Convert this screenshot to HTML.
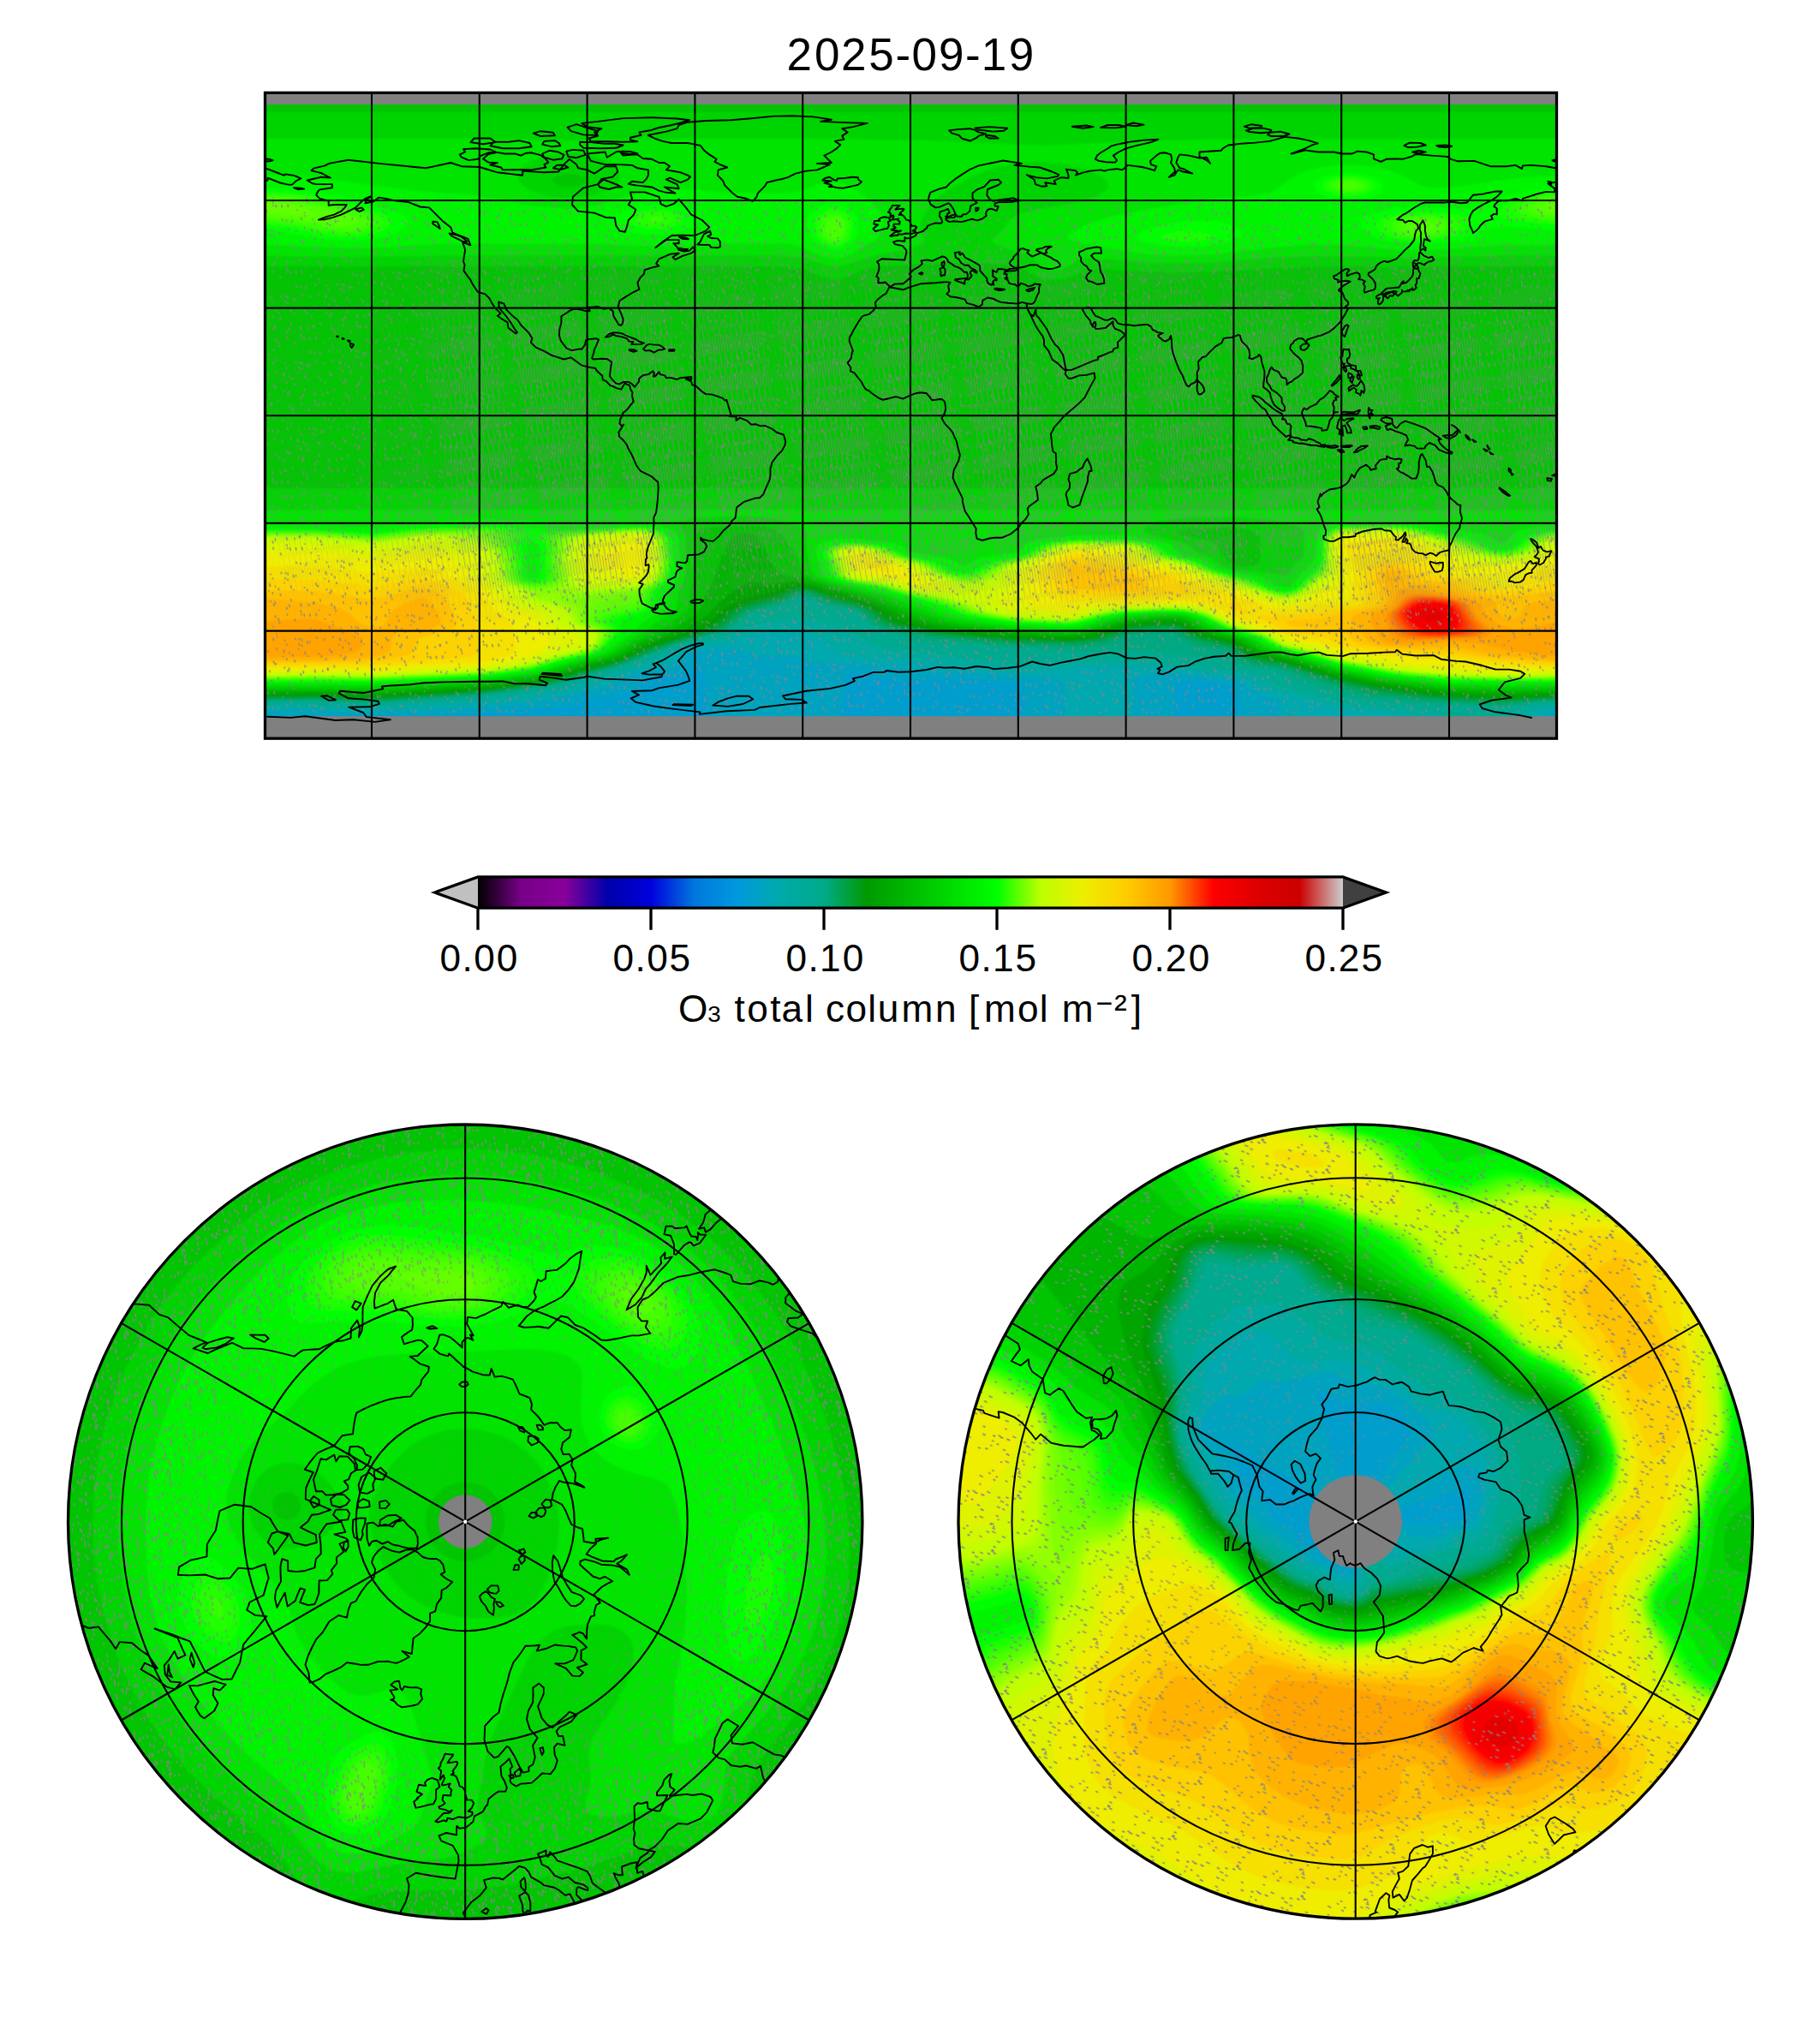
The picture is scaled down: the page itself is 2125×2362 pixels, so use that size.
<!DOCTYPE html>
<html><head><meta charset="utf-8"><title>O3 total column 2025-09-19</title>
<style>html,body{margin:0;padding:0;background:#fff}svg{display:block}text{font-family:"Liberation Sans",sans-serif;fill:#000}</style></head>
<body>
<svg width="2125" height="2362" viewBox="0 0 2125 2362">
<defs>
<clipPath id="cr"><rect x="309.5" y="108.3" width="1508.0" height="753.9"/></clipPath>
<clipPath id="cn"><circle cx="543.2" cy="1776.7" r="463.7"/></clipPath>
<clipPath id="cs"><circle cx="1582.7" cy="1776.5" r="463.7"/></clipPath>
<filter id="bl" x="-2%" y="-2%" width="104%" height="104%"><feGaussianBlur stdDeviation="2.5"/></filter>
<linearGradient id="cbg" x1="0" x2="1" y1="0" y2="0"><stop offset="0.00" stop-color="#000000"/><stop offset="0.01" stop-color="#18001b"/><stop offset="0.02" stop-color="#2f0036"/><stop offset="0.03" stop-color="#470051"/><stop offset="0.04" stop-color="#5f006d"/><stop offset="0.05" stop-color="#770088"/><stop offset="0.06" stop-color="#7a008b"/><stop offset="0.07" stop-color="#7e008f"/><stop offset="0.08" stop-color="#810092"/><stop offset="0.09" stop-color="#850096"/><stop offset="0.10" stop-color="#880099"/><stop offset="0.11" stop-color="#6d009c"/><stop offset="0.12" stop-color="#5200a0"/><stop offset="0.13" stop-color="#3700a3"/><stop offset="0.14" stop-color="#1b00a7"/><stop offset="0.15" stop-color="#0000aa"/><stop offset="0.16" stop-color="#0000b4"/><stop offset="0.17" stop-color="#0000be"/><stop offset="0.18" stop-color="#0000c9"/><stop offset="0.19" stop-color="#0000d3"/><stop offset="0.20" stop-color="#0000dd"/><stop offset="0.21" stop-color="#0018dd"/><stop offset="0.22" stop-color="#0030dd"/><stop offset="0.23" stop-color="#0047dd"/><stop offset="0.24" stop-color="#005fdd"/><stop offset="0.25" stop-color="#0077dd"/><stop offset="0.26" stop-color="#007edd"/><stop offset="0.27" stop-color="#0085dd"/><stop offset="0.28" stop-color="#008bdd"/><stop offset="0.29" stop-color="#0092dd"/><stop offset="0.30" stop-color="#0099dd"/><stop offset="0.31" stop-color="#009cd3"/><stop offset="0.32" stop-color="#00a0c9"/><stop offset="0.33" stop-color="#00a3be"/><stop offset="0.34" stop-color="#00a7b4"/><stop offset="0.35" stop-color="#00aaaa"/><stop offset="0.36" stop-color="#00aaa3"/><stop offset="0.37" stop-color="#00aa9c"/><stop offset="0.38" stop-color="#00aa96"/><stop offset="0.39" stop-color="#00aa8f"/><stop offset="0.40" stop-color="#00aa88"/><stop offset="0.41" stop-color="#00a76d"/><stop offset="0.42" stop-color="#00a352"/><stop offset="0.43" stop-color="#00a036"/><stop offset="0.44" stop-color="#009c1b"/><stop offset="0.45" stop-color="#009900"/><stop offset="0.46" stop-color="#00a000"/><stop offset="0.47" stop-color="#00a700"/><stop offset="0.48" stop-color="#00ad00"/><stop offset="0.49" stop-color="#00b400"/><stop offset="0.50" stop-color="#00bb00"/><stop offset="0.51" stop-color="#00c200"/><stop offset="0.52" stop-color="#00c900"/><stop offset="0.53" stop-color="#00cf00"/><stop offset="0.54" stop-color="#00d600"/><stop offset="0.55" stop-color="#00dd00"/><stop offset="0.56" stop-color="#00e400"/><stop offset="0.57" stop-color="#00eb00"/><stop offset="0.58" stop-color="#00f100"/><stop offset="0.59" stop-color="#00f800"/><stop offset="0.60" stop-color="#00ff00"/><stop offset="0.61" stop-color="#26ff00"/><stop offset="0.62" stop-color="#4bff00"/><stop offset="0.63" stop-color="#70ff00"/><stop offset="0.64" stop-color="#95ff00"/><stop offset="0.65" stop-color="#bbff00"/><stop offset="0.66" stop-color="#c5fc00"/><stop offset="0.67" stop-color="#cff800"/><stop offset="0.68" stop-color="#daf500"/><stop offset="0.69" stop-color="#e4f100"/><stop offset="0.70" stop-color="#eeee00"/><stop offset="0.71" stop-color="#f1e700"/><stop offset="0.72" stop-color="#f5e000"/><stop offset="0.73" stop-color="#f8da00"/><stop offset="0.74" stop-color="#fcd300"/><stop offset="0.75" stop-color="#ffcc00"/><stop offset="0.76" stop-color="#ffc200"/><stop offset="0.77" stop-color="#ffb800"/><stop offset="0.78" stop-color="#ffad00"/><stop offset="0.79" stop-color="#ffa300"/><stop offset="0.80" stop-color="#ff9900"/><stop offset="0.81" stop-color="#ff7a00"/><stop offset="0.82" stop-color="#ff5c00"/><stop offset="0.83" stop-color="#ff3d00"/><stop offset="0.84" stop-color="#ff1e00"/><stop offset="0.85" stop-color="#ff0000"/><stop offset="0.86" stop-color="#f80000"/><stop offset="0.87" stop-color="#f10000"/><stop offset="0.88" stop-color="#eb0000"/><stop offset="0.89" stop-color="#e40000"/><stop offset="0.90" stop-color="#dd0000"/><stop offset="0.91" stop-color="#da0000"/><stop offset="0.92" stop-color="#d60000"/><stop offset="0.93" stop-color="#d30000"/><stop offset="0.94" stop-color="#cf0000"/><stop offset="0.95" stop-color="#cc0000"/><stop offset="0.96" stop-color="#cc2929"/><stop offset="0.97" stop-color="#cc5252"/><stop offset="0.98" stop-color="#cc7b7b"/><stop offset="0.99" stop-color="#cca4a4"/><stop offset="1.00" stop-color="#cccccc"/></linearGradient>
</defs>
<g clip-path="url(#cr)">
<rect x="300" y="99" width="1526" height="772" fill="#0072dd"/>
<g filter="url(#bl)" transform="scale(0.5)">
<path fill="#007cdd" fill-rule="evenodd" d="M600 198l3054 0 0 1548 -3054 0z"/>
<path fill="#008add" fill-rule="evenodd" d="M600 198l3054 0 0 1548 -3054 0z"/>
<path fill="#0098dd" fill-rule="evenodd" d="M600 198l3054 0 0 1548 -3054 0z"/>
<path fill="#009ecd" fill-rule="evenodd" d="M600 198l3054 0 0 1548 -3054 0z"/>
<path fill="#00a3bf" fill-rule="evenodd" d="M600 198l3054 0 0 1475 -6 2 -6 4 -3 7 0 60 -744 0 -1-108 -4-12 -16-22 -6-4 -18-4 -90-7 -12 1 -6 6 -1 6 0 144 -349 0 0-132 -1-6 -3-6 -16-6 -127-12 -103 5 -54-2 -36-5 -36-11 -18-2 -14 3 -5 6 -2 6 -16 84 -1 78 -297 0 -1-78 -10-42 -9-54 -5-15 -6-3 -24 14 -18 6 -78 10 -12 6 -14 18 -16 9 -30 6 -60 7 -10 2 -26 11 -24 5 -120 12 -180 12 -132 2 -222-1 -36 1 -8 6 -2 6 0 60 -20 0z"/>
<path fill="#00a8af" fill-rule="evenodd" d="M600 198l3054 0 0 1462 -30 4 -13 4 -8 6 -3 12 0 60 -610 0 0-96 -4-12 -7-6 -51-18 -11-6 -13-12 -11-6 -13-3 -126-14 -66 1 -30 4 -9 6 -3 6 0 156 -159 0 -1-144 -2-6 -5-6 -7-3 -24-4 -84-4 -108-10 -120-4 -77-11 -43-4 -108-4 -24-4 -24-9 -12-2 -72 0 -12-2 -30-11 -78-3 -24 1 -12 3 -11 5 -25 22 -14 8 -22 7 -55 11 -17 6 -30 17 -18 7 -60 12 -60 15 -36 7 -96 11 -180 13 -126 3 -228-3 -30 2 -12 3z"/>
<path fill="#00aaa0" fill-rule="evenodd" d="M600 198l3054 0 0 1455 -30 2 -30 6 -18 7 -7 6 -2 12 -1 60 -267 0 -1-60 -1-6 -4-6 -23-7 -108-9 -54-7 -42-13 -108-28 -18-8 -17-12 -15-6 -16-3 -132-16 -132-8 -120 0 -90 10 -36 3 -186-16 -82-12 -104-6 -40-6 -16-6 -8-6 -23-24 -9-6 -24-8 -36-3 -90 4 -18 4 -48 15 -78 10 -22 8 -32 20 -18 8 -66 19 -78 28 -72 19 -96 18 -102 12 -192 13 -78 2 -126-4 -84-1 -54 3z"/>
<path fill="#00aa90" fill-rule="evenodd" d="M600 198l3054 0 0 1446 -36 2 -42 6 -36 8 -17 8 -7 6 -3 6 0 66 -139 0 0-66 -3-6 -8-6 -21-6 -18-2 -114-9 -84-10 -42-13 -96-24 -16-8 -15-12 -29-9 -144-20 -144-11 -150-1 -114 9 -120-10 -78-15 -93-9 -33-6 -17-6 -43-27 -24-12 -72-17 -24-3 -78 7 -30 5 -66 26 -95 21 -67 29 -66 23 -126 39 -42 10 -90 15 -114 13 -210 14 -42 0 -120-5 -90 0 -36 2z"/>
<path fill="#00a981" fill-rule="evenodd" d="M600 198l3054 0 0 1438 -48 3 -90 11 -24 1 -222-11 -96-9 -29-5 -27-12 -34-7 -30-10 -30-8 -25-17 -17-6 -88-12 -19-6 -19-9 -12-2 -174-15 -42-2 -120 2 -186-12 -72-6 -102-5 -18-4 -31-13 -35-9 -24-9 -16-12 -15-18 -11-6 -18-5 -54-10 -48-18 -12 2 -18 9 -18 6 -62 16 -16 6 -39 30 -27 13 -90 23 -138 53 -84 24 -48 15 -36 9 -96 15 -60 7 -240 18 -42 1 -120-6 -132 2z"/>
<path fill="#00a771" fill-rule="evenodd" d="M600 198l3054 0 0 1437 -64 3 -80 9 -24 0 -180-10 -126-14 -18-4 -25-11 -41-10 -38-14 -28-7 -30-13 -21-4 -51-6 -24-6 -13-6 -19-18 -10-5 -72-11 -18-8 -24-18 -18-4 -83 4 -18 6 -19 10 -18 6 -36 5 -42 2 -144-3 -204-17 -108-26 -18-8 -23-23 -13-8 -12-5 -66-13 -36-17 -12-3 -12 2 -18 10 -18 7 -78 21 -12 6 -35 30 -25 12 -72 18 -37 12 -119 47 -72 19 -48 16 -42 11 -84 13 -72 9 -240 18 -42 1 -120-5 -132 1z"/>
<path fill="#00a562" fill-rule="evenodd" d="M600 198l3054 0 0 1435 -54 2 -84 8 -30 1 -162-10 -132-15 -55-17 -41-10 -95-32 -61-9 -24-5 -18-9 -23-19 -7-3 -72-13 -24-11 -22-15 -14-3 -90 4 -20 5 -22 11 -18 6 -36 5 -48 3 -144-4 -186-17 -72-14 -36-9 -21-11 -26-24 -12-6 -73-16 -42-19 -12-3 -15 2 -20 12 -13 5 -84 23 -13 8 -36 30 -25 12 -64 16 -43 14 -113 45 -78 21 -48 16 -42 10 -150 22 -246 18 -36 0 -120-5 -132 1z"/>
<path fill="#00a352" fill-rule="evenodd" d="M600 198l3054 0 0 1433 -48 2 -90 8 -30 0 -162-10 -114-14 -102-26 -102-33 -84-15 -18-8 -21-17 -11-6 -76-16 -18-8 -24-15 -12-4 -24 0 -78 6 -24 7 -24 10 -18 5 -66 7 -138-3 -180-16 -72-13 -42-9 -24-11 -29-24 -13-7 -18-6 -54-11 -42-19 -12-3 -12-1 -18 5 -18 11 -12 5 -58 14 -26 9 -15 9 -35 30 -26 12 -62 16 -43 14 -113 45 -66 17 -60 20 -30 7 -60 10 -96 13 -246 18 -36 0 -120-5 -132 1z"/>
<path fill="#00a142" fill-rule="evenodd" d="M600 198l3054 0 0 1432 -58 2 -80 6 -30 0 -150-9 -126-16 -102-25 -106-34 -74-13 -18-7 -24-18 -12-7 -78-17 -18-8 -22-14 -14-4 -18-1 -78 5 -24 6 -48 17 -30 5 -42 3 -144-3 -174-17 -72-13 -30-7 -24-11 -28-22 -20-10 -66-16 -54-22 -18-2 -18 4 -30 17 -66 16 -21 7 -15 9 -36 31 -24 12 -109 32 -107 43 -66 17 -60 20 -36 8 -156 23 -240 17 -36 1 -120-5 -132 1z"/>
<path fill="#009f32" fill-rule="evenodd" d="M600 198l3054 0 0 1430 -54 2 -84 6 -30 0 -138-8 -132-18 -102-23 -108-34 -78-16 -18-7 -24-18 -12-6 -72-15 -18-8 -24-14 -18-6 -24 0 -78 6 -18 4 -54 19 -36 5 -30 2 -132-3 -180-17 -72-13 -34-8 -20-9 -28-21 -24-12 -68-17 -48-19 -24-4 -21 4 -21 12 -14 6 -52 12 -30 10 -15 8 -39 33 -24 12 -66 19 -60 20 -78 33 -78 21 -48 16 -42 11 -72 11 -84 11 -240 17 -36 1 -120-5 -132 1z"/>
<path fill="#009d23" fill-rule="evenodd" d="M600 198l3054 0 0 1429 -138 7 -36-1 -144-9 -132-19 -96-22 -108-34 -48-8 -24-6 -18-9 -30-20 -18-6 -48-9 -18-5 -36-20 -18-6 -24 0 -78 6 -17 4 -43 16 -18 4 -30 5 -30 2 -144-4 -156-15 -66-11 -42-9 -24-10 -29-20 -25-13 -72-19 -48-18 -24-5 -12 1 -12 4 -24 14 -12 4 -54 12 -30 11 -16 9 -35 30 -21 12 -132 42 -78 33 -72 19 -54 18 -42 10 -150 22 -240 17 -36 0 -120-4 -132 1z"/>
<path fill="#009b13" fill-rule="evenodd" d="M600 198l3054 0 0 1427 -138 7 -42-1 -132-8 -132-19 -96-22 -109-34 -71-14 -18-7 -36-23 -12-4 -66-14 -18-8 -24-15 -18-5 -24 0 -78 6 -24 6 -54 18 -30 5 -30 3 -144-5 -84-7 -84-10 -54-9 -36-9 -24-9 -39-25 -21-9 -66-18 -59-21 -19-3 -21 3 -39 19 -54 12 -33 11 -20 12 -35 30 -21 12 -131 42 -72 32 -72 19 -60 19 -42 10 -144 20 -246 17 -150-4 -132 1z"/>
<path fill="#009a00" fill-rule="evenodd" d="M600 198l3054 0 0 1426 -144 6 -114-5 -84-8 -114-17 -84-19 -103-33 -77-16 -18-8 -36-23 -72-16 -18-7 -30-18 -18-4 -54 2 -54 5 -72 23 -30 5 -30 3 -138-5 -102-9 -66-8 -54-8 -36-9 -24-9 -39-24 -28-12 -59-16 -60-21 -30-4 -23 5 -37 17 -48 10 -36 13 -18 10 -41 34 -22 12 -123 40 -72 32 -69 18 -57 19 -36 9 -54 9 -102 14 -246 17 -150-4 -132 1z"/>
<path fill="#00a500" fill-rule="evenodd" d="M600 198l3054 0 0 1423 -144 5 -114-4 -90-9 -120-19 -78-18 -108-34 -48-9 -18-5 -18-9 -30-19 -18-6 -42-7 -18-5 -18-8 -25-16 -20-6 -22 0 -83 7 -24 5 -66 21 -48 6 -144-5 -84-8 -78-9 -48-8 -35-9 -25-10 -47-26 -25-10 -60-16 -60-20 -30-4 -24 3 -36 14 -42 8 -30 10 -36 17 -36 31 -22 15 -29 12 -99 32 -60 29 -24 8 -61 15 -59 19 -30 8 -42 7 -114 14 -240 17 -150-4 -132 1z"/>
<path fill="#00b500" fill-rule="evenodd" d="M600 198l3054 0 0 1418 -144 3 -114-4 -60-5 -132-19 -84-18 -108-33 -66-15 -18-8 -40-23 -74-17 -15-7 -29-18 -22-6 -24 0 -90 7 -22 5 -68 21 -24 4 -24 2 -138-6 -150-16 -42-7 -36-9 -24-10 -56-27 -28-10 -132-38 -30-4 -60 6 -42-4 -18 3 -24 14 -47 39 -16 18 -14 12 -40 24 -99 35 -42 22 -24 10 -66 17 -60 20 -36 9 -36 6 -114 14 -240 15 -150-2 -132 0z"/>
<path fill="#00c500" fill-rule="evenodd" d="M600 198l3054 0 0 1413 -144 2 -120-4 -138-15 -48-8 -84-18 -103-32 -59-13 -24-10 -31-19 -18-6 -59-13 -18-8 -36-20 -24-5 -42 1 -78 6 -18 3 -72 22 -42 6 -144-7 -96-10 -60-9 -34-8 -26-8 -64-28 -32-12 -78-21 -84-26 -43-7 -17-6 -9-12 -27-50 -14-22 -10-7 -18-3 -21 4 -9 6 -6 9 -18 36 -18 51 -13 24 -21 48 -8 12 -55 36 -28 12 -49 17 -44 25 -29 12 -72 18 -53 17 -30 8 -144 19 -252 15 -270-2z"/>
<path fill="#00d400" fill-rule="evenodd" d="M600 262l3054 0 0 360 -594 1 -294 14 -78-2 -126-7 -24 3 -48 20 -30 3 -18-2 -16-4 -38-21 -18-6 -30-3 -84-4 -72 1 -138 8 -30 7 -42 19 -24 4 -24-4 -54-22 -19-3 -29-2 -1224 0zM1308 408l-13 6 -4 6 2 6 3 2 7 4 11 3 18 1 18-2 15-8 2-6 -3-6 -14-6 -24-3zM600 1140l3054 0 0 466 -144 1 -120-3 -126-14 -43-6 -95-19 -102-31 -60-14 -19-8 -30-18 -11-5 -72-18 -17-7 -31-18 -18-6 -12-2 -42 0 -84 6 -37 8 -61 18 -34 5 -138-6 -84-10 -60-9 -60-16 -102-40 -108-28 -47-16 -12-6 -8-6 -5-6 -8-24 -10-18 -28-42 -6-6 -12-6 -22-6 -46-5 -90 7 -18 4 -6 6 -2 6 -1 60 -4 42 -7 30 -4 36 -6 12 -6 6 -53 36 -61 27 -47 27 -25 10 -66 16 -84 25 -144 18 -246 15 -270-2zM2766 1236l-17 6 5 6 54 11 24 7 9 6 8 18 24 24 10 6 15 2 18 0 12-2 12-6 3-12 -1-48 -2-6 -7-6 -23-7 -36-5z"/>
<path fill="#00e400" fill-rule="evenodd" d="M1913 324l253 4 264 12 216-10 186-5 822-1 0 273 -144 0 -192 6 -174-5 -78 0 -84 3 -150 12 -66 2 -78-2 -144-11 -18 2 -12 5 -36 22 -12 2 -12 0 -9-3 -11-6 -22-22 -12-8 -60-17 -16-7 -7-6 1-6 27-24 13-20 13-10 17-7 24-6 95-17 46-12 26-12 6-6 3-6 0-6 -2-6 -12-12 -18-11 -24-10 -54-12 -54-4 -54 4 -54 13 -54 22 -60 33 -18 15 -14 16 -21 42 -3 12 2 6 11 18 -1 6 -6 6 -32 12 -80 15 -60 20 -18 4 -12 1 -18-2 -54-17 -18-3 -42-3 -768 0 -234 3 -216-3 0-273 534 0 198 4 186-4zM1278 363l-24 8 -18 8 -14 11 -9 12 -3 12 4 12 5 6 17 12 33 12 39 6 36 0 36-5 30-9 19-10 13-12 4-6 1-12 -7-14 -12-11 -24-13 -24-7 -30-6 -30-1zM600 1191l516-1 2538 1 0 410 -144 0 -120-2 -126-13 -36-6 -96-18 -102-31 -55-13 -23-9 -24-15 -14-6 -71-18 -53-27 -18-6 -18-3 -36 0 -90 5 -34 7 -74 21 -30 3 -126-6 -84-10 -51-8 -45-12 -114-42 -108-27 -46-15 -11-6 -6-6 -3-6 -13-48 0-42 -5-7 -24-12 -30-8 -48-7 -48-2 -102 3 -24 4 -14 5 -2 6 11 18 4 12 2 54 -4 42 -13 30 -5 30 -3 12 -12 11 -31 19 -30 24 -41 21 -36 23 -22 10 -73 18 -80 24 -137 17 -246 13 -270-1zM2742 1211l-30 5 -24 8 -12 6 -5 6 2 6 12 6 72 18 17 6 21 18 37 14 30 20 12 5 18 3 66 5 36 7 6 0 9-6 15-20 18-16 3-6 0-54 -3-6 -6-4 -18-7 -48-10 -72-7 -108 0z"/>
<path fill="#00f400" fill-rule="evenodd" d="M3089 390l31-4 30-1 36 2 30 4 24 6 24 8 54 28 18 4 18 2 48-3 144-21 54-3 54-2 0 162 -138 0 -144 11 -54 2 -60-2 -126-11 -72-1 -78 6 -150 17 -90 3 -66-4 -76-11 -92-18 -14-6 -2-6 17-12 36-18 34-12 37-9 90-17 72-12 66-8 90-9 30-5 18-8 27-22 21-12 24-10zM600 411l48-1 102 6 201 28 153 11 144 26 72 6 36-2 36-5 114-32 36-7 42-1 120 10 132 2 30-5 54-19 30-3 24 5 12 5 18 12 26 21 19 18 10 12 5 12 -11 42 -4 6 -63 36 -18 7 -18 2 -12-1 -18-4 -54-23 -18-4 -30-2 -126 0 -162 6 -180-6 -288 0 -66 2 -120 8 -60 1 -216-9zM1092 1214l48-1 102 3 114 9 132-3 48 5 24 7 12 6 8 8 3 6 5 48 -4 42 -4 12 -19 24 -6 30 -6 12 -13 10 -35 20 -22 24 -52 36 -21 12 -15 6 -71 16 -62 20 -34 6 -96 11 -144 9 -120 5 -264-1 0-369 138-1 126 4zM3276 1219l72 7 46 10 62 10 18 6 30 15 6 0 6-3 13-16 9-6 20-7 48-7 48-2 0 370 -258-2 -156-16 -108-21 -96-28 -54-13 -23-10 -31-18 -72-19 -14-5 -46-24 -36-9 -36-1 -96 5 -42 8 -66 18 -30 4 -120-6 -114-15 -43-10 -47-18 -92-30 -100-23 -40-13 -11-6 -5-6 -14-54 2-6 6-6 20-9 36-6 42 1 78 11 18 6 25 15 77 13 14 5 22 12 6 0 6 0 19-12 17-6 83-12 9-6 9-12 7-5 12-5 18-4 78-7 120-1 48 7 42 10 15 5 19 18 16 6 45 12 32 18 15 6 20 5 66 10 18 8 19 13 17 4 12-3 6-4 18-24 30-28 6-16 2-43 5-12 5-7 12-8 18-6 24-2z"/>
<path fill="#00ff00" fill-rule="evenodd" d="M3111 408l39-4 24 2 18 3 15 5 12 6 6 6 4 6 0 6 -2 6 -11 11 -24 11 -36 3 -42-4 -18-6 -12-6 -11-9 -2-6 0-6 3-6 6-6 11-6zM600 440l60-1 48 4 48 8 90 21 60 17 38 15 8 6 2 6 -2 6 -12 12 -21 12 -16 6 -21 5 -42 4 -36 1 -42-3 -102-17 -60-6zM3578 444l40-4 36-1 0 100 -120-10 -36 0 -24 4 -43 19 -35 10 -48 6 -48 1 -50-5 -28-6 -17-6 -17-12 -6-6 -6-12 0-6 4-6 10-6 20-7 24-6 30-4 42-2 108 2 25-1 23-5 63-25zM1936 474l20 0 18 6 18 15 10 15 2 12 -1 18 -5 18 -12 12 -12 7 -12 5 -12 1 -12-1 -12-4 -15-8 -9-6 -10-12 -6-18 -2-18 5-12 25-21zM1506 480l42-2 19 2 23 5 18 7 21 12 5 6 -2 6 -13 12 -27 12 -26 6 -36 3 -30-2 -31-7 -25-12 -8-6 -3-6 0-6 17-12 30-12zM2781 516l45 0 40 6 16 6 9 6 6 6 2 6 -2 6 -10 6 -18 6 -37 7 -48 5 -42 0 -36-3 -40-9 -11-6 -1-6 5-6 29-13 42-11zM1122 1225l60 3 78 8 102-1 120-5 42 3 29 9 8 6 5 6 3 12 4 36 -4 36 -7 18 -25 24 -9 30 -7 12 -15 9 -47 15 -9 6 -1 6 4 12 -1 6 -5 6 -34 30 -15 9 -18 7 -72 16 -54 17 -30 6 -96 11 -144 9 -120 4 -264 0 0-353 36-2 108 0 120 8 96-11zM1242 1266l-12 3 -3 3 -3 6 5 24 4 42 6 6 9 1 7-1 6-6 -2-36 3-24 -1-6 -4-6 -9-5zM3122 1230l28-3 90-1 36 1 36 4 30 6 41 11 49 9 18 6 36 17 24 4 12-1 12-5 9-6 17-18 16-8 36-7 42-3 0 355 -258-2 -120-11 -30-4 -108-20 -96-28 -54-13 -17-7 -25-15 -12-6 -72-19 -54-26 -24-8 -24-4 -42-1 -96 5 -36 6 -72 19 -24 2 -114-5 -107-14 -31-8 -58-22 -110-32 -84-17 -35-11 -10-6 -6-6 -14-48 1-6 6-6 22-8 42-4 42 3 43 9 37 18 70 15 42 22 18 4 12 0 20-5 28-17 12-5 74-14 12-6 22-16 24-8 30-4 36-2 120-1 36 5 32 8 12 6 12 12 12 6 58 15 42 20 18 6 72 16 48 23 18 4 12 0 18-6 8-6 15-18 27-24 9-18 2-42 6-18 11-11z"/>
<path fill="#14ff00" fill-rule="evenodd" d="M3116 414l34-4 32 4 17 6 8 6 4 6 -1 6 -4 6 -9 6 -23 7 -30 2 -24-3 -17-6 -9-6 -5-6 0-6 3-6 8-6zM600 448l24-1 48 1 42 5 45 9 87 22 44 14 21 12 3 6 -1 6 -11 12 -25 12 -28 6 -33 2 -42-2 -96-19 -78-8zM3600 450l54-3 0 81 -110-12 -29-6 -13-6 -3-6 7-12 14-12 11-6 33-11zM1943 486l13 1 18 8 10 9 6 12 0 24 -2 12 -3 6 -5 6 -9 6 -15 5 -18-1 -18-8 -9-8 -4-6 -3-12 -1-24 5-11 16-13zM1502 492l28-3 30 2 22 7 10 6 4 6 -1 6 -5 5 -13 7 -20 6 -21 2 -24-1 -18-4 -18-7 -8-8 0-6 5-6 11-6zM3267 498l51-4 54 3 45 7 17 6 3 6 -3 6 -10 12 -16 12 -24 9 -30 6 -42 2 -42-3 -30-8 -19-12 -7-12 0-6 3-6 8-6 9-4zM2749 540l29-2 24 2 21 6 5 6 -7 6 -13 3 -16 3 -26 1 -36-2 -16-5 -3-6 11-6zM1128 1229l48 4 21 3 24 6 9 6 -3 6 -15 12 -3 6 8 30 2 36 1 6 4 7 9 5 15 2 18-3 6-5 2-6 -2-36 2-30 -2-6 -4-6 -13-12 2-6 21-5 18-2 156-8 42-1 30 4 21 6 9 5 6 7 2 6 6 42 -4 36 -8 18 -28 24 -10 30 -8 12 -16 7 -44 11 -14 6 -5 6 1 6 10 12 1 6 -4 6 -31 30 -10 6 -18 8 -72 16 -56 18 -32 6 -92 11 -138 8 -126 5 -264-1 0-348 36-2 102 0 132 9 108-13zM3138 1230l114-2 60 6 113 26 18 6 41 18 26 4 18-3 16-7 26-23 16-7 32-7 36-2 0 350 -144 0 -114-2 -108-9 -42-6 -108-20 -90-26 -54-13 -19-7 -35-20 -72-19 -18-8 -42-21 -24-7 -24-4 -42-1 -96 4 -42 8 -66 17 -24 2 -114-5 -92-12 -34-7 -60-24 -66-17 -54-16 -30-7 -54-10 -29-9 -10-6 -6-6 -14-48 1-6 7-6 27-7 36-3 42 5 30 6 42 19 68 16 32 18 14 5 18 4 12 0 24-6 30-17 12-5 55-11 21-6 32-20 24-8 54-6 126-1 30 4 28 7 13 6 13 12 11 6 61 15 43 21 17 6 72 17 40 19 14 5 18 3 12 1 12-3 12-6 18-19 21-17 10-12 8-18 2-42 3-12 4-7 6-6 9-5z"/>
<path fill="#24ff00" fill-rule="evenodd" d="M3141 414l21 0 25 6 10 6 4 6 -1 6 -6 6 -13 6 -31 4 -31-4 -14-6 -6-6 -1-6 4-6 6-4 12-5zM600 452l54-1 42 4 39 7 96 24 40 12 22 12 3 6 0 6 -13 12 -19 8 -24 5 -30 2 -42-3 -90-19 -78-7zM3592 456l32-4 30-1 0 72 -54-5 -36-6 -24-6 -12-8 -2-6 1-6 12-12 25-11zM1508 498l22-3 24 2 18 7 5 6 -2 6 -15 8 -18 4 -25 0 -22-6 -8-6 -1-6 7-6zM1927 498l17-5 12 1 12 4 12 12 3 12 0 24 -5 12 -6 6 -14 6 -14 1 -12-4 -13-9 -6-12 -3-24 4-12zM3266 504l46-5 48 2 21 3 21 6 8 6 2 6 -6 12 -6 6 -24 12 -40 7 -48-1 -24-5 -12-4 -15-9 -5-6 -1-6 0-6 5-6 9-6zM3169 1230l89 0 54 5 108 26 18 6 39 17 15 4 18 2 12-1 18-6 17-11 13-13 18-9 30-7 36-3 0 348 -144 0 -114-2 -114-10 -36-5 -108-20 -90-26 -54-13 -16-6 -38-21 -78-21 -42-22 -18-7 -42-9 -42-1 -96 4 -42 8 -66 16 -24 3 -108-4 -91-12 -35-7 -66-25 -66-17 -60-18 -72-13 -32-10 -10-6 -5-6 -15-48 2-6 7-6 23-6 36-3 42 5 30 7 42 18 62 15 33 18 15 6 16 4 18 1 24-5 44-24 58-12 20-6 34-21 24-7 54-5 120-1 27 4 25 6 14 6 24 18 66 17 40 19 20 7 69 17 39 18 18 6 18 4 12 0 12-3 14-7 22-22 18-14 10-12 7-18 1-36 2-12 5-12 5-5 12-7 12-3zM985 1236l137-5 52 5 27 6 10 6 -1 6 -8 12 -1 6 10 30 3 42 3 6 9 6 16 4 12 1 12-3 6-2 7-6 1-12 -3-30 3-30 -1-6 -10-18 6-6 21-5 180-10 30 1 24 5 18 7 9 8 3 12 4 24 1 24 -8 36 -9 11 -24 19 -15 36 -6 6 -9 4 -54 13 -16 7 -4 6 3 6 13 12 2 6 -3 6 -30 30 -13 8 -18 7 -66 14 -66 20 -126 16 -240 11 -276 0 0-345 36-3 102 0 132 10z"/>
<path fill="#34ff00" fill-rule="evenodd" d="M3128 420l22-2 20 2 15 6 5 6 -2 6 -8 6 -18 5 -18 0 -18-3 -15-8 -2-6 4-6zM672 457l36 5 29 6 115 31 23 11 4 6 -1 6 -8 8 -18 8 -24 4 -24 1 -33-3 -81-16 -90-9 0-58zM3632 456l22-1 0 63 -72-9 -24-8 -5-3 -5-6 -1-6 3-6 8-6 12-6 24-7zM1931 504l13-4 12 1 12 6 6 9 2 12 -1 18 -5 12 -8 5 -12 3 -12-2 -11-6 -4-6 -4-12 0-18 5-12zM3310 504l32 1 32 5 13 6 5 6 0 6 -3 6 -6 6 -11 6 -19 6 -29 3 -24-1 -24-4 -18-7 -9-9 -2-6 2-6 9-8 18-6zM1513 510l17-5 12 2 8 3 -6 6 -14 2 -13-2zM1019 1236l115-2 48 8 12 6 2 6 -3 12 0 6 12 30 4 42 3 6 7 6 23 7 24-2 13-5 6-6 1-6 -4-36 4-30 -1-6 -6-12 0-6 10-6 13-3 174-11 24 0 24 4 18 7 11 9 4 12 5 24 0 24 -8 36 -11 12 -24 18 -4 6 -8 24 -4 6 -15 8 -60 13 -16 9 -2 6 5 6 16 12 2 6 -2 6 -28 30 -11 7 -18 7 -66 14 -66 20 -126 16 -240 11 -138-1 -138 1 0-343 36-2 102 0 132 9 96-12zM3119 1236l25-4 78-1 42 0 36 4 114 26 18 6 48 20 12 3 18 1 14-1 19-6 15-9 18-17 18-8 30-6 30-2 0 345 -144 0 -114-2 -114-10 -36-5 -114-21 -90-27 -46-10 -16-6 -28-17 -12-5 -75-20 -45-23 -18-7 -42-9 -48 0 -96 4 -36 7 -66 16 -24 3 -108-4 -83-11 -43-9 -66-25 -66-16 -60-18 -72-13 -28-9 -11-6 -5-6 -15-48 2-6 8-6 25-6 36-2 36 5 30 8 36 16 63 15 33 18 14 6 22 6 18 1 12-1 18-6 44-24 52-11 23-7 31-18 24-8 24-4 30-2 120-1 47 9 14 6 15 12 14 8 60 14 48 22 24 8 58 14 57 24 17 4 18 1 18-5 11-6 19-20 27-22 7-12 3-12 1-36 4-17 10-13z"/>
<path fill="#44ff00" fill-rule="evenodd" d="M3128 426l16-3 12 0 14 3 7 6 -3 6 -6 3 -12 2 -12 0 -19-5 -3-6zM654 460l57 8 117 30 17 6 11 6 4 6 -1 6 -13 8 -18 5 -24 2 -29-3 -79-15 -96-10 0-47zM3621 462l33-2 0 53 -30-3 -31-6 -16-6 -8-6 -2-6 3-6 7-6 15-6zM1938 510l12-2 6 2 6 4 4 8 2 12 -1 12 -3 6 -8 6 -6 2 -9-2 -9-6 -2-6 -2-12 1-12 3-6zM3305 510l31 0 18 3 9 3 9 6 1 6 -2 6 -11 8 -12 4 -24 4 -18-1 -20-3 -14-6 -6-6 -2-6 6-8 12-6zM1090 1236l50 2 24 4 14 6 5 6 2 18 10 18 5 12 3 36 3 10 8 8 22 8 18 1 12-1 18-7 6-6 2-7 -5-36 5-30 -5-18 3-7 12-5 12-2 162-11 30 1 24 5 15 7 5 6 3 6 7 36 -1 24 -8 30 -9 10 -28 20 -4 6 -10 23 -6 7 -14 6 -58 11 -15 7 -7 6 -1 6 26 18 3 6 -1 6 -14 18 -13 12 -26 13 -72 16 -64 19 -116 15 -246 11 -138-1 -138 1 0-340 36-3 102 0 132 10 114-14zM3123 1236l27-4 78 0 36 0 30 3 30 6 90 22 60 24 18 5 18 1 18-2 20-7 16-10 15-14 15-8 24-6 36-3 0 343 -144 1 -114-3 -114-10 -36-5 -112-21 -86-25 -49-11 -17-6 -29-18 -13-5 -72-19 -48-24 -18-7 -42-9 -48 0 -96 5 -42 7 -60 15 -24 3 -108-4 -75-10 -51-11 -60-23 -72-18 -60-18 -72-12 -25-8 -11-6 -5-6 -15-48 2-6 10-6 20-5 36-2 36 5 24 6 42 18 58 14 33 18 17 7 24 7 18 1 12-1 18-5 37-21 14-6 51-11 18-6 34-19 20-7 24-4 30-2 120-1 42 8 15 6 27 19 66 17 48 22 76 20 59 24 21 5 18 1 18-4 12-7 18-18 24-18 6-7 6-12 3-12 1-36 4-18 11-12z"/>
<path fill="#53ff00" fill-rule="evenodd" d="M648 466l42 4 129 34 14 6 4 6 -3 6 -12 4 -30 2 -84-15 -102-10 -6-1 0-33zM3622 468l32-3 0 42 -42-7 -19-8 -4-6 2-6 10-6zM3293 522l19-4 18 0 15 4 5 6 -3 6 -12 6 -29 1 -6-1 -12-6 -1-6zM1944 534l6-6 2 6 -2 9 -5-3zM1474 1236l26 0 24 5 17 7 6 6 5 12 6 36 -2 18 -5 24 -9 13 -34 23 -5 6 -9 18 -5 6 -7 5 -66 14 -14 5 -9 6 -4 6 0 6 30 18 4 6 0 6 -19 24 -12 9 -12 6 -78 19 -66 19 -114 15 -246 11 -138-1 -138 1 0-338 36-3 102 1 126 10 24-1 72-11 36-3 108-2 41 4 18 6 6 6 8 18 13 18 4 12 4 36 4 12 6 6 16 7 18 4 12 1 12-1 17-5 10-6 4-6 0-6 -5-36 5-30 -2-18 3-6 18-6 22-3zM3128 1236l28-3 84-1 54 5 28 5 92 23 63 25 33 5 24-4 19-7 10-6 21-18 11-6 23-6 36-4 0 341 -144 1 -114-3 -114-10 -36-5 -108-20 -90-26 -48-11 -15-5 -30-18 -15-6 -70-18 -47-24 -21-8 -42-8 -48-1 -96 5 -42 7 -60 15 -24 3 -108-4 -67-9 -56-12 -44-18 -25-8 -66-15 -65-19 -61-10 -28-8 -11-6 -5-6 -13-36 -2-12 2-6 9-5 24-6 30-1 36 5 24 6 26 13 16 5 53 13 33 18 22 9 24 6 18 2 12-1 18-5 13-5 35-21 66-16 13-5 32-18 21-7 48-5 120 0 42 8 10 4 25 18 7 3 63 15 51 23 72 19 58 24 26 7 18 1 18-5 12-6 22-21 26-21 6-9 4-12 2-12 -1-30 5-18 12-12z"/>
<path fill="#63ff00" fill-rule="evenodd" d="M618 474l30-1 30 3 31 10 26 12 3 4 17 2 -119-5 -24-5 -12-6 0-8zM3637 474l17-1 0 26 -30-7 -8-6 3-6zM760 510l2-2 6 0 19 2 -7 2zM3135 1236l27-2 78-1 54 5 114 28 63 24 33 6 24-2 24-7 16-9 21-18 12-6 24-6 29-2 0 338 -144 1 -114-3 -114-10 -36-5 -108-20 -90-26 -48-10 -13-5 -30-18 -14-6 -70-18 -59-29 -24-7 -24-4 -42-2 -108 5 -36 6 -66 16 -24 3 -102-4 -65-8 -57-12 -46-19 -30-9 -66-14 -60-18 -66-11 -25-7 -11-6 -5-6 -13-36 -3-12 4-6 5-3 24-7 30-1 30 4 27 7 26 12 18 6 49 12 14 6 22 13 24 10 24 6 18 2 18-2 18-5 48-27 60-15 16-6 33-18 19-6 22-4 30-2 114 1 36 7 12 4 30 20 65 16 49 22 78 22 54 22 30 8 18 1 12-2 16-7 51-42 7-12 4-12 1-42 5-17 5-7 8-6zM986 1242l124-1 18 2 19 5 11 9 29 39 3 12 4 36 3 6 6 6 12 6 27 7 12 1 18-2 18-5 10-7 2-6 1-6 -6-36 6-30 -1-18 5-6 22-6 147-11 24 0 24 5 14 6 6 6 3 6 7 36 0 18 -6 30 -8 12 -38 24 -24 24 -13 6 -61 14 -12 5 -7 5 -6 12 1 6 33 18 6 6 -1 6 -11 18 -13 12 -10 6 -16 6 -66 14 -49 16 -23 5 -108 14 -246 11 -138-1 -138 1 0-335 36-3 102 0 132 11z"/>
<path fill="#73ff00" fill-rule="evenodd" d="M3144 1236l102-1 48 4 109 27 65 25 36 7 24-2 24-7 18-9 25-20 13-6 22-5 24-2 0 336 -144 1 -108-3 -112-9 -44-6 -114-21 -78-23 -54-12 -12-5 -28-17 -14-6 -70-18 -62-30 -24-7 -24-4 -36-1 -114 4 -42 7 -60 15 -24 3 -102-4 -56-7 -59-12 -47-19 -30-9 -72-15 -60-18 -66-11 -22-6 -11-6 -5-6 -15-42 -1-6 4-6 20-8 30-2 36 4 23 6 43 18 49 12 14 6 27 15 24 10 30 7 18 1 30-6 18-9 30-18 16-6 48-12 16-6 34-18 18-5 48-6 108 0 24 4 18 5 17 8 15 12 10 4 61 14 53 23 72 21 55 22 29 8 24 2 18-4 12-6 52-42 7-12 3-12 1-42 5-18 5-6 9-6zM1410 1242l84-4 24 4 16 6 7 6 5 12 6 30 0 18 -6 24 -4 12 -13 12 -53 28 -72 16 -12 4 -12 9 -10 21 -1 6 2 6 9 6 27 12 7 6 0 6 -15 24 -19 13 -16 5 -68 15 -60 18 -114 15 -246 11 -138-1 -138 1 0-332 36-4 102 0 132 11 126-15 90 0 36 4 12 3 12 7 32 33 6 12 5 42 2 6 6 6 33 13 12 3 18 1 18-2 12-4 10-5 7-6 1-12 -6-30 0-12 6-24 2-18 4-4 6-3 23-5z"/>
<path fill="#83ff00" fill-rule="evenodd" d="M3172 1236l80 0 48 5 102 27 66 25 36 6 24-1 24-7 18-8 24-19 12-7 18-5 30-3 0 333 -144 1 -108-3 -152-14 -118-22 -78-23 -54-12 -12-5 -26-16 -14-6 -74-20 -44-22 -22-9 -42-9 -36-1 -114 4 -42 7 -60 15 -24 3 -97-4 -53-6 -60-12 -54-21 -30-9 -66-13 -66-19 -62-10 -23-6 -11-6 -5-6 -16-42 0-6 4-6 17-6 30-3 33 3 22 6 44 18 47 12 15 6 31 18 18 7 30 8 24 2 18-2 18-6 47-27 63-18 15-6 31-16 24-7 42-5 108 0 25 4 17 5 12 7 16 12 8 4 66 15 52 23 74 22 54 21 30 8 24 3 18-4 15-8 52-42 6-12 3-12 1-48 5-12 5-6 10-6 11-3zM1425 1242l69-3 21 3 16 6 7 6 5 12 6 30 0 18 -5 24 -5 12 -14 12 -19 10 -36 11 -90 11 -22 4 -2 2 -3 4 8 18 -1 24 2 6 10 6 30 12 7 6 1 6 -5 12 -9 12 -18 12 -19 6 -63 14 -60 18 -114 15 -246 11 -138-2 -138 2 0-329 36-4 96 0 138 11 126-15 66 0 48 4 17 5 13 8 32 28 6 12 6 42 2 6 6 6 14 7 24 9 30 6 18-2 18-6 12-7 5-7 1-12 -7-36 10-48 9-6 24-5z"/>
<path fill="#93ff00" fill-rule="evenodd" d="M1476 1240l24 1 18 3 12 6 8 10 7 30 2 18 -3 18 -5 18 -8 12 -19 11 -24 8 -18 3 -72 7 -84 4 -13 3 5 6 32 16 10 8 3 6 1 18 2 6 9 6 33 12 8 6 2 6 -8 18 -12 12 -12 6 -72 17 -66 20 -114 15 -246 11 -138-2 -138 2 0-326 36-5 96 0 132 12 24-1 108-15 71 2 37 5 12 3 18 9 18 12 14 13 7 12 6 42 2 6 6 6 19 10 36 13 18 5 18 2 12-1 12-8 12-11 6-10 -1-12 -8-36 2-12 12-36 11-6 20-4zM3125 1242l19-4 24-1 78-1 36 3 30 7 78 20 78 29 36 6 24-2 24-6 21-9 27-20 12-7 18-5 24-2 0 331 -144 1 -108-2 -114-10 -42-6 -114-21 -78-23 -54-12 -17-8 -18-12 -13-6 -78-21 -60-29 -24-6 -30-5 -48-1 -102 5 -36 6 -60 15 -24 3 -96-4 -45-5 -61-12 -56-22 -29-8 -73-15 -66-19 -60-9 -21-5 -12-6 -5-6 -16-42 0-6 5-6 16-6 27-2 30 3 21 5 44 18 49 13 13 5 31 18 22 8 30 9 24 3 18-2 18-6 18-8 34-22 61-18 49-23 18-5 42-5 108 1 18 2 18 5 14 7 15 12 13 5 60 14 60 25 72 21 54 21 30 9 24 2 18-4 18-9 52-42 6-12 2-12 0-42 3-12 9-12z"/>
<path fill="#a2ff00" fill-rule="evenodd" d="M1482 1241l21 1 20 6 8 6 7 18 6 24 0 12 -8 36 -9 12 -9 6 -18 7 -36 6 -96 7 -30-3 -12-5 -2-6 2-18 -10-42 2-12 15-36 12-6 17-3zM3129 1242l27-4 66-1 36 1 24 3 108 27 72 27 42 7 24-1 30-8 21-9 32-24 18-6 25-2 0 328 -144 1 -108-3 -120-10 -36-5 -114-21 -72-22 -60-13 -46-25 -80-22 -60-29 -24-6 -24-4 -42-2 -114 5 -42 7 -54 14 -24 3 -96-4 -42-5 -56-11 -58-22 -27-8 -81-16 -66-19 -54-8 -24-5 -12-6 -5-6 -16-42 0-6 5-6 16-5 24-3 30 4 17 4 44 18 53 14 40 22 26 10 36 11 24 1 18-3 18-5 12-6 28-20 12-6 59-18 45-21 18-6 18-3 24-2 108 1 34 7 12 6 15 12 13 6 64 14 54 23 75 23 51 20 36 10 24 2 18-3 18-9 54-43 4-7 4-18 0-42 3-12 9-12zM992 1248l46 1 49 5 29 8 24 12 14 10 11 12 4 12 5 36 8 12 12 7 40 17 29 18 57 16 16 8 5 6 5 24 9 6 34 12 10 6 2 6 -7 18 -12 12 -12 6 -68 16 -60 18 -46 8 -62 8 -258 12 -138-2 -138 2 0-323 30-5 102 0 138 12 24-2z"/>
<path fill="#b2ff00" fill-rule="evenodd" d="M1471 1242l23 0 18 3 12 6 8 9 8 30 2 18 -9 36 -9 12 -24 11 -30 5 -96 5 -24-2 -13-7 -16-60 5-18 10-24 4-6 15-6 19-3zM3133 1242l23-3 78-1 48 4 108 28 67 26 23 5 24 3 24-2 30-7 26-11 33-24 19-5 18-2 0 325 -138 2 -108-2 -74-6 -88-10 -114-21 -72-22 -59-13 -44-24 -83-23 -42-22 -18-7 -24-6 -24-4 -42-1 -114 4 -42 7 -54 14 -24 3 -96-5 -48-5 -42-9 -19-6 -44-18 -27-7 -84-16 -66-19 -74-12 -13-6 -5-6 -16-42 0-6 6-6 12-4 24-3 30 4 13 3 44 18 57 16 36 20 24 10 42 13 24 2 18-2 18-6 18-9 27-20 12-6 58-18 41-19 18-6 18-4 24-2 108 1 30 6 12 6 15 12 12 6 69 15 54 24 70 21 68 25 30 7 18 2 18-4 14-6 58-43 7-11 2-12 1-48 2-9 5-9 6-6zM622 1254l116-1 102 11 30 2 30-3 78-12 30-1 56 4 40 9 18 7 18 9 12 9 7 8 5 12 5 36 7 12 50 24 20 18 8 4 48 12 23 8 7 7 7 23 8 6 36 12 9 5 5 7 -1 6 -5 12 -4 6 -8 6 -13 6 -64 14 -72 21 -86 13 -40 3 -222 10 -144-2 -138 2 0-320z"/>
<path fill="#c2fd00" fill-rule="evenodd" d="M3139 1242l95-3 42 3 28 6 86 24 43 18 23 8 24 5 24 3 30-3 29-7 25-12 24-18 11-6 31-5 0 322 -144 2 -108-3 -119-10 -42-6 -109-21 -66-19 -62-14 -14-6 -18-12 -14-7 -84-23 -42-22 -18-7 -48-10 -42-1 -114 4 -36 5 -60 16 -24 2 -102-4 -42-6 -53-13 -43-18 -24-7 -94-17 -68-19 -70-11 -13-6 -6-6 -16-42 0-6 7-6 14-4 24-2 24 4 53 20 55 15 42 23 30 12 36 12 24 3 18-2 24-8 18-10 27-21 12-6 55-18 56-24 18-4 24-2 102 0 18 3 18 5 7 4 15 12 12 6 74 17 48 21 72 22 60 23 36 10 24 2 18-3 17-8 57-42 7-12 3-12 -1-48 4-12 11-12zM1413 1248l75-5 24 4 13 7 6 12 8 36 -4 24 -8 24 -6 6 -15 7 -30 7 -102 3 -18-3 -6-2 -6-5 -14-37 -4-18 2-12 14-30 6-6 18-6zM971 1254l37-2 42 3 54 13 30 12 14 10 9 12 7 42 7 12 47 24 26 24 18 6 40 8 18 8 6 8 5 18 8 6 37 12 13 6 4 6 -1 6 -4 12 -5 6 -8 6 -13 5 -66 15 -54 17 -24 5 -84 12 -258 12 -138-2 -138 2 0-316 12-4 18-3 96 0 144 13 42-4z"/>
<path fill="#d0f800" fill-rule="evenodd" d="M1461 1248l37 0 15 6 5 6 10 30 2 18 -8 30 -6 12 -8 6 -8 3 -30 4 -84-1 -12-3 -12-6 -12-20 -8-25 1-6 5-12 14-19 6-6 12-5 31-6zM3133 1248l17-3 24-1 66-1 30 2 30 7 67 20 71 28 30 7 36 4 30-2 42-10 21-9 33-23 24-5 0 311 -138 3 -108-3 -156-15 -60-13 -59-9 -67-21 -54-10 -13-5 -19-12 -16-8 -84-24 -54-26 -24-8 -30-5 -42-2 -126 5 -42 5 -54 15 -18 2 -119-8 -29-6 -19-6 -52-24 -15-9 -6-2 -36-1 -66-8 -22-4 -50-15 -63-9 -15-4 -12-7 -5-7 -10-24 -3-12 2-6 10-6 18-2 24 2 46 18 61 18 37 22 48 20 36 20 6 2 42-6 24-8 18-11 18-21 14-12 112-45 18-4 18-1 102 1 12 2 17 5 19 15 12 6 73 15 65 27 66 21 54 20 42 11 24 3 18-3 18-8 54-35 14-12 3-6 2-12 -1-56 6-13zM985 1260l23 0 18 3 78 18 22 9 8 6 4 6 9 42 7 12 41 24 7 6 14 18 9 6 50 12 16 6 7 6 8 18 6 6 14 6 42 12 8 6 2 6 -3 12 -5 6 -12 6 -62 15 -60 19 -45 8 -69 10 -246 10 -138-2 -138 2 0-300 14-8 16-4 84-1 36 2 96 12 30 1 48-5z"/>
<path fill="#dff300" fill-rule="evenodd" d="M3240 1247l30 3 70 22 33 12 47 21 30 7 42 5 42-1 48-10 24-9 30-19 18-5 0 296 -162 3 -114-6 -121-12 -53-13 -72-10 -54-17 -66-14 -34-18 -14-6 -84-24 -54-27 -24-7 -30-5 -54-1 -126 5 -42 5 -42 13 -30 1 -102-9 -17-5 -11-6 -15-12 -3-6 5-6 27-18 7-12 9-24 14-12 11-6 75-31 18-6 24-3 54 0 36 1 21 3 12 6 14 12 13 6 84 17 66 28 120 41 48 12 30 0 18-4 12-6 54-32 12-10 9-10 2-6 -5-60 2-12 4-6 12-8 12-2zM1466 1254l22-1 12 4 6 6 7 15 6 18 0 18 -8 24 -10 12 -13 5 -12 1 -60-4 -29-8 -13-11 -9-13 -4-12 4-12 9-9 18-12 22-9 20-6zM617 1278l25-5 90 0 108 14 30 1 30-2 78-11 18-1 102 22 13 6 5 6 11 36 7 12 38 24 7 6 12 18 7 6 15 6 47 13 9 5 10 18 11 11 18 8 34 11 8 6 3 6 -2 6 -10 6 -51 14 -42 16 -53 12 -73 12 -252 10 -132-2 -138 1 0-280zM1983 1290l15-4 18 2 42 15 56 17 13 6 33 21 29 15 8 6 -5 6 -32 0 -30-5 -54-15 -66-10 -12-6 -12-18 -7-18 0-6z"/>
<path fill="#efed00" fill-rule="evenodd" d="M3240 1252l30 4 44 16 94 43 24 6 30 4 48 1 60-7 36-9 36-16 12-3 0 273 -149 2 -115-6 -125-12 -43-11 -78-9 -66-20 -60-12 -54-24 -84-25 -36-19 -18-8 -42-9 -48-3 -138 3 -54 5 -47 12 -13 0 -42-6 -30-8 -11-4 -7-5 -3-7 7-54 6-12 7-6 21-12 58-24 24-5 30 0 54 2 22 3 20 14 12 6 96 20 84 35 51 15 63 22 48 11 30-1 24-7 30-15 26-10 16-11 15-19 4-12 -9-48 -1-18 2-6 7-6 12-4zM1460 1272l16-4 12 2 12 11 6 11 3 16 -3 11 -8 13 -10 9 -12 3 -24-5 -35-13 -21-12 -3-6 2-6 8-6zM658 1290l80 1 126 15 30-2 90-10 24 2 24 6 30 12 24 16 25 26 44 30 12 18 9 8 12 6 45 16 9 6 18 25 18 17 5 12 -1 6 -5 6 -16 12 -21 12 -48 12 -70 13 -126 4 -126 7 -132-2 -138 1 0-260 30-13zM1993 1296l11-3 12 1 30 11 50 15 23 12 28 24 -5 3 -12-1 -111-20 -12-6 -10-12 -6-12 0-6z"/>
<path fill="#f5e000" fill-rule="evenodd" d="M3156 1266l78-5 18 1 16 4 12 6 17 18 8 6 42 18 9 6 11 12 11 6 84 11 12 4 18 10 14 5 16 0 18-6 24-18 18-7 42-11 30-4 0 237 -102-2 -90-5 -83-10 -103-8 -120-13 -24-5 -48-15 -66-13 -72-29 -66-19 -36-21 -36-11 -36-5 -36-1 -114 0 -108 5 -18-1 -24-4 -26-10 -15-12 -5-12 1-30 9-12 16-12 23-12 21-8 18-3 24 0 42 5 18 5 31 13 113 22 20 8 58 29 66 17 60 22 30 9 18 3 24 0 18-2 42-10 53-2 17-6 5-6 2-24 8-24 -4-36 -15-36 1-6zM2020 1314l8-1 12 1 23 6 15 6 6 6 -8 3 -24-3 -19-6 -10-6zM642 1322l96 1 126 15 114-13 18 1 18 4 30 12 81 44 6 6 9 18 5 6 33 24 19 24 6 24 -1 30 -4 6 -27 12 -37 9 -24 4 -114 3 -132 8 -264-1 0-232z"/>
<path fill="#fcd200" fill-rule="evenodd" d="M2499 1302l21-2 19 2 41 13 95 17 65 18 14 6 8 6 16 18 -1 6 -35 5 -108 2 -114-1 -30-4 -18-8 -8-6 -5-12 0-18 2-12 8-12 15-12zM3258 1307l24 5 30 11 18 15 13 6 81 12 40 18 28 5 30 1 42-5 30-7 30-11 30-4 0 201 -66-2 -96-7 -108-14 -144-10 -72-8 -32-7 -40-16 -72-11 -18-5 -25-10 -43-24 14-3 72-2 36-3 101-16 22-6 9-6 2-6 -4-24 2-18 -1-18 1-6 6-8 12-8 18-6zM979 1350l23 2 18 6 49 22 11 6 12 12 16 42 6 24 3 30 -1 24 -2 6 -7 6 -32 6 -205 16 -126 1 -144 0 0-194 18-4 18-2 96 1 132 15 18-1 60-13zM2869 1410l5-3 16 3 23 18 -3 4 -6 0 -14-4z"/>
<path fill="#ffc200" fill-rule="evenodd" d="M2501 1320l7-4 6 0 48 12 48 4 31 6 13 6 17 12 7 6 2 6 -3 6 -13 4 -30 4 -71-2 -55-6 -11-6 -4-12 1-24zM3227 1326l19-5 24 2 11 3 10 6 9 12 12 7 78 10 40 19 44 7 30 3 30 0 120-12 0 170 -156-10 -120-17 -114-5 -43-4 -36-6 -19-6 -8-6 -11-12 -21-9 -18-3 -84-5 -8-1 -12-6 -4-6 12-4 60-3 18-2 53-15 55-10 20-8 4-6 1-6 -7-24 -3-36 4-6zM967 1374l17-2 18 2 17 6 13 8 6 5 8 11 14 30 6 18 -1 6 -4 6 -11 6 -66 18 -8 6 -15 30 -9 6 -34 8 -72 6 -108 4 -138-1 0-165 42-4 96 2 30 4 72 13 24 2 24-3z"/>
<path fill="#ffb300" fill-rule="evenodd" d="M3243 1332l15-1 12 4 4 3 3 12 5 6 12 5 72 9 48 16 66 14 9 4 6 6 5 18 4 8 3 4 9 3 12 1 17-4 6-6 8-18 8-6 9-3 42-7 36-1 0 144 -30-1 -126-11 -108-20 -126 0 -40-5 -22-6 -10-6 -12-16 -22-20 -3-6 0-6 2-6 9-6 50-14 12-4 9-6 3-6 0-12 -4-18 -1-18 -4-12 2-6zM973 1398l17-2 12 6 6 6 12 17 10 21 2 6 -3 6 -9 6 -18 5 -60 5 -11 2 -7 4 -6 8 -7 30 -4 6 -14 6 -35 6 -96 6 -120 1 -42-2 0-141 36-1 54 3 42 4 30 6 30 8 18 8 12 9 15 15 9 6 18 5 12 1 12-1 10-5 12-24 10-12 23-12z"/>
<path fill="#ffa300" fill-rule="evenodd" d="M3264 1380l6-4 6-1 54 3 36 5 72 17 12 4 8 6 12 24 9 12 25 14 24 8 18 1 24-2 84-18 0 85 -49-4 -89-12 -48-12 -52-6 -32-1 -54 4 -48 2 -24-1 -20-4 -13-6 -5-6 -17-30 -2-12 1-6 6-6 32-15 12-9zM720 1445l24 3 91 34 9 6 4 6 -4 18 -5 6 -14 6 -33 6 -42 4 -102 1 -48-3 0-75 36-8z"/>
<path fill="#ff9500" fill-rule="evenodd" d="M3282 1392l12-4 12-1 36 1 48 7 33 9 10 6 5 6 13 24 11 12 15 12 5 6 1 6 -3 6 -12 6 -24 3 -132 5 -42-1 -12-4 -6-4 -7-11 -7-18 -4-18 2-6 23-18 15-18z"/>
<path fill="#ff8300" fill-rule="evenodd" d="M3297 1392l21-2 36 2 36 5 23 7 11 6 5 6 18 30 19 18 3 6 0 6 -6 6 -7 2 -36 5 -102 4 -30-2 -18-4 -7-5 -12-18 -7-18 -1-6 2-6 37-36z"/>
<path fill="#ff7400" fill-rule="evenodd" d="M3289 1398l23-6 30 1 36 3 29 8 11 6 5 6 18 30 16 18 3 6 -1 6 -9 6 -18 4 -78 4 -48-1 -18-3 -12-4 -8-6 -12-18 -6-18 1-6 4-6z"/>
<path fill="#ff6400" fill-rule="evenodd" d="M3297 1398l21-4 36 1 30 4 24 9 10 8 17 30 14 18 2 6 -3 6 -13 6 -9 2 -66 4 -42 0 -30-6 -10-6 -11-12 -9-18 -2-12 4-6 22-21z"/>
<path fill="#ff5400" fill-rule="evenodd" d="M3307 1398l23-2 30 1 24 4 18 7 6 4 8 10 25 42 1 6 -5 6 -18 6 -53 4 -48-1 -16-3 -14-6 -8-6 -10-13 -6-11 -3-12 3-6 24-22z"/>
<path fill="#ff4400" fill-rule="evenodd" d="M3323 1398l25 0 24 3 15 3 13 6 7 6 8 12 16 30 2 6 0 6 -7 6 -12 4 -48 4 -48-2 -24-8 -18-17 -7-11 -3-12 3-6 5-6 20-16 12-5z"/>
<path fill="#ff3500" fill-rule="evenodd" d="M3304 1404l20-4 24 0 30 4 17 6 12 12 10 18 8 18 1 6 -2 6 -10 6 -12 3 -42 4 -36-2 -24-8 -12-9 -10-12 -6-12 -1-6 2-6 5-6 16-13z"/>
<path fill="#ff2500" fill-rule="evenodd" d="M3312 1404l18-2 24 0 18 3 17 5 8 6 9 12 11 24 1 12 -4 6 -12 6 -30 4 -42-1 -13-3 -14-6 -9-7 -11-11 -7-12 0-6 2-6 10-11 12-8z"/>
<path fill="#ff1500" fill-rule="evenodd" d="M3325 1404l23 0 18 2 16 4 8 5 8 7 9 18 4 12 0 12 -6 6 -15 5 -30 3 -36-3 -12-5 -11-6 -17-18 -4-12 2-6 18-16 12-5z"/>
<path fill="#ff0100" fill-rule="evenodd" d="M3310 1410l20-4 18 0 24 3 12 5 9 8 10 18 3 12 -3 12 -13 8 -30 4 -30-3 -22-9 -15-12 -8-12 -1-6 2-6 5-6z"/>
<path fill="#f50000" fill-rule="evenodd" d="M3324 1410l30-1 24 7 7 6 9 12 3 12 -1 12 -6 6 -12 5 -24 2 -24-3 -21-10 -9-7 -8-11 -1-6 2-6 13-11z"/>
<path fill="#e50000" fill-rule="evenodd" d="M3327 1422l15-2 18 5 6 3 5 6 2 6 -1 6 -6 6 -12 3 -18-2 -12-5 -9-8 -2-6 2-6z"/>
</g>
<rect x="309.5" y="108.3" width="1508.0" height="13.8" fill="#808080"/>
<rect x="309.5" y="836.2" width="1508.0" height="26.0" fill="#808080"/>
<defs><pattern id="sp1" width="6.4" height="46" patternUnits="userSpaceOnUse" patternTransform="rotate(-9)"><path d="M1 0V33M4.2 14V46M4.2 0V5" stroke="#828282" stroke-opacity="0.85" stroke-width="1.05" fill="none"/></pattern><pattern id="sp2" width="67" height="79" patternUnits="userSpaceOnUse" patternTransform="rotate(-12)"><path d="M34.2 67.0v2.2M4.3 33.1v2.0M19.1 50.7v3.1M17.9 31.1v2.9M11.2 40.8v2.6M26.2 70.2v2.1M56.0 28.3v3.8M24.5 16.9v2.9M20.0 34.3v2.2M19.1 34.1v2.2M6.7 36.3v2.8M45.9 51.7v3.4M38.2 24.4v2.3M64.2 17.3v2.1M31.9 44.7v3.3M10.9 7.5v2.0M62.9 51.1v2.0M61.2 62.9v2.2M49.4 49.5v3.6M36.9 14.7v2.4M64.2 63.8v3.5M61.3 59.1v2.7M12.5 5.5v2.0M27.9 3.7v1.9M32.1 20.6v3.1M5.6 4.3v2.6M55.4 12.8v2.9M23.1 4.9v3.7M11.3 52.1v3.4M48.2 10.5v2.4M11.0 66.0v3.7M14.3 18.0v2.4M32.4 21.5v3.2M15.0 62.4v1.7M29.0 40.5v2.2M51.4 17.3v2.8M62.7 52.5v2.4M49.3 22.9v1.6M33.7 62.2v3.9M58.5 33.4v1.7M5.9 13.8v2.8M41.3 28.0v3.0M52.9 11.5v2.2M1.0 2.3v2.7M52.7 43.4v3.2M29.6 27.9v1.6M54.0 19.8v2.1M10.4 52.7v2.2M28.1 0.3v1.6M20.2 74.1v1.7M42.1 34.9v3.3M3.7 65.0v3.6M30.9 58.5v3.2M61.3 16.5v3.7M4.7 53.6v2.4M33.5 31.3v2.7M52.3 67.2v3.2M33.9 42.6v3.7M35.7 9.5v1.9M44.9 59.3v2.7" stroke="#858585" stroke-width="1.4" fill="none"/></pattern><linearGradient id="bg1" x1="0" x2="1" y1="0" y2="0"><stop offset="0" stop-color="#fff" stop-opacity="0.4"/><stop offset="0.08" stop-color="#fff" stop-opacity="1"/><stop offset="0.8" stop-color="#fff" stop-opacity="1"/><stop offset="0.9" stop-color="#fff" stop-opacity="0.4"/><stop offset="1" stop-color="#fff" stop-opacity="0.4"/></linearGradient><pattern id="bp1" width="104.5" height="40" patternUnits="userSpaceOnUse" patternTransform="skewX(10)"><rect width="104.5" height="40" fill="url(#bg1)"/></pattern><mask id="mb1" maskUnits="userSpaceOnUse" x="304" y="103" width="1518" height="763"><rect x="304" y="103" width="1518" height="763" fill="url(#bp1)"/></mask><linearGradient id="lg1" x1="0" x2="0" y1="0" y2="1"><stop offset="0" stop-color="#fff" stop-opacity="0"/><stop offset="0.12" stop-color="#fff" stop-opacity="0.55"/><stop offset="0.3" stop-color="#fff" stop-opacity="1"/><stop offset="0.72" stop-color="#fff" stop-opacity="1"/><stop offset="0.9" stop-color="#fff" stop-opacity="0.5"/><stop offset="1" stop-color="#fff" stop-opacity="0"/></linearGradient><linearGradient id="lg2" x1="0" x2="1" y1="0" y2="0"><stop offset="0" stop-color="#fff" stop-opacity="0.25"/><stop offset="0.1" stop-color="#fff" stop-opacity="0.35"/><stop offset="0.16" stop-color="#fff" stop-opacity="1"/><stop offset="1" stop-color="#fff" stop-opacity="1"/></linearGradient><mask id="ml1" maskUnits="userSpaceOnUse" x="304" y="103" width="1518" height="763"><rect x="304" y="267.5" width="1518" height="460.7" fill="url(#lg1)"/></mask><mask id="ml2" maskUnits="userSpaceOnUse" x="304" y="103" width="1518" height="763"><rect x="304" y="103" width="1518" height="763" fill="url(#lg2)"/></mask></defs><g mask="url(#ml2)"><g mask="url(#ml1)"><g mask="url(#mb1)"><rect x="309.5" y="267.5" width="1508.0" height="460.7" fill="url(#sp1)"/></g></g></g><rect x="309.5" y="229.8" width="1508.0" height="603.1" fill="url(#sp2)"/>
<path fill="none" stroke="#000" stroke-width="1.9" stroke-linejoin="round" stroke-linecap="round" d="M1038.3 335.3L1054.6 338.3L1060.5 335.8L1075.6 331.2L1092.4 330.3L1104.9 329.1L1109.5 329.9L1107.4 332.8L1107.4 335.3L1108.3 339.9L1105.3 343.3L1109.5 346.2L1118.3 347.5L1126.7 349.6L1128.8 353.8L1136.4 355.9L1142.7 358.4L1146.9 355.4L1147.3 350.8L1153.1 347.5L1159.4 348.7L1163.6 350.8L1168.7 352.9L1177.0 353.8L1188.4 354.6L1193.0 352.9L1198.4 354.2L1199.3 359.6L1203.5 368.0L1204.7 370.9L1209.3 380.6L1211.9 384.8L1217.7 393.1L1219.0 397.3L1219.0 403.2L1224.4 409.9L1228.6 419.9L1234.9 424.1L1240.8 430.0L1244.6 432.9L1243.7 436.7L1247.5 441.7L1251.7 441.7L1260.1 438.4L1268.5 437.9L1277.7 435.4L1278.5 441.7L1276.0 445.9L1271.8 453.9L1266.4 464.3L1260.1 470.6L1252.9 476.9L1245.4 483.2L1241.2 487.0L1237.0 492.4L1234.5 494.9L1231.1 498.7L1229.5 502.0L1226.9 506.6L1227.8 513.8L1228.2 520.0L1229.5 527.2L1232.8 529.2L1233.2 537.6L1232.8 539.7L1234.1 546.0L1233.7 548.1L1230.3 553.1L1218.1 560.2L1215.2 564.0L1209.3 568.2L1211.0 575.3L1211.9 583.7L1201.4 591.2L1199.7 594.2L1200.9 600.4L1197.6 605.9L1193.0 610.5L1188.8 616.4L1180.0 623.5L1170.3 627.7L1161.5 627.7L1155.7 628.5L1146.9 631.0L1140.6 628.9L1139.3 622.2L1139.7 617.2L1134.3 608.8L1132.2 605.1L1126.7 596.7L1123.8 585.8L1123.8 581.6L1119.2 572.4L1114.6 562.8L1112.5 557.7L1113.7 548.9L1119.2 538.0L1120.9 531.3L1118.3 522.1L1116.7 514.6L1114.6 510.8L1112.5 505.4L1109.1 500.8L1103.3 494.9L1099.5 488.2L1102.4 483.6L1103.3 480.7L1104.1 477.3L1103.7 472.7L1102.8 468.9L1100.3 466.4L1097.8 466.0L1092.4 466.8L1088.2 467.3L1085.2 463.1L1081.9 459.3L1077.3 458.5L1073.1 458.5L1068.0 459.7L1062.2 461.8L1054.2 465.6L1046.2 463.1L1037.8 465.2L1030.7 466.8L1025.3 464.3L1017.7 458.9L1014.8 456.4L1010.6 454.3L1007.7 449.7L1005.6 445.5L1001.4 440.5L997.6 435.4L993.0 433.3L993.4 429.2L989.6 423.7L993.8 418.3L994.7 412.0L995.9 409.5L993.8 404.0L991.7 398.2L992.1 394.0L996.3 386.0L1002.2 376.0L1006.8 369.3L1008.9 368.4L1014.8 366.8L1020.2 362.1L1022.7 358.0L1021.9 353.4L1024.4 350.0L1031.1 344.6L1034.5 342.9L1037.0 337.9L1038.3 335.3M1269.7 535.5L1273.5 543.9L1274.7 549.8L1271.8 550.2L1270.1 557.3L1270.1 561.5L1267.6 569.0L1263.8 579.1L1260.5 589.6L1252.5 592.5L1247.5 590.0L1246.2 583.3L1244.6 577.4L1245.4 574.5L1248.7 570.3L1249.2 564.8L1247.5 559.8L1249.2 553.1L1257.1 551.0L1260.9 547.7L1263.8 546.4L1265.5 541.8L1268.0 537.6L1269.7 535.5M738.5 448.8L733.8 445.9L728.0 445.9L723.4 448.4L719.2 447.6L715.0 443.4L712.0 439.2L712.9 430.8L714.1 422.5L708.7 419.1L702.4 418.7L692.8 419.5L691.1 418.3L693.2 412.0L694.0 407.8L696.1 403.6L699.0 396.5L696.1 395.2L687.3 396.1L684.0 397.3L683.1 402.4L679.3 407.8L677.2 407.4L667.2 409.1L661.3 406.5L660.1 404.9L655.0 398.2L652.9 391.9L653.3 384.8L655.4 376.8L655.4 369.3L662.6 364.7L665.5 362.6L669.7 360.9L677.2 361.3L683.5 363.0L688.6 363.4L687.7 358.8L693.2 358.4L697.4 358.0L705.3 360.9L710.8 359.6L715.8 363.4L716.2 368.8L720.0 375.1L722.5 379.3L725.5 379.7L727.1 377.2L727.6 373.0L725.5 366.8L721.7 358.4L723.4 351.3L728.4 347.9L735.9 343.3L740.1 340.8L746.4 337.9L744.3 330.3L747.7 324.0L751.9 319.8L752.7 315.2L763.2 311.9L769.5 310.6L766.1 307.7L769.5 302.3L775.8 299.7L782.1 296.8L792.6 295.6L785.4 300.2L788.4 303.1L796.7 298.9L807.2 295.6L811.4 292.6L809.3 288.4L805.1 292.6L798.8 293.5L792.6 291.8L790.5 288.4L786.3 284.2L792.6 284.2L792.6 280.1L777.9 280.1L765.3 289.3L773.7 282.2L784.2 275.0L794.6 274.6L811.4 275.0L824.0 269.6L828.2 265.4L819.8 257.0L807.2 250.7L800.9 242.4L792.6 232.7L786.3 238.2L777.9 241.1L771.6 238.2L769.5 229.8L752.7 224.4L735.9 224.4L738.0 231.9L733.8 239.0L742.2 244.5L740.1 250.7L733.8 257.0L731.8 265.4L729.7 270.8L723.4 269.6L719.2 263.3L717.9 254.5L706.6 253.7L694.0 248.6L675.1 246.6L668.0 239.0L668.9 229.8L681.4 219.3L698.2 215.1L702.4 208.9L715.0 206.8L721.3 200.5L719.2 194.2L706.6 194.2L694.0 202.6L685.6 198.4L675.1 196.3L673.1 192.1L664.7 185.8L658.4 192.1L652.1 200.5L635.3 201.3L610.2 199.6L610.2 204.7L580.8 201.3L559.8 195.0L538.9 194.2L526.3 190.0L505.3 194.6L496.9 196.3L471.8 193.8L442.4 190.9L406.8 186.7L384.2 190.9L379.5 193.4L366.1 196.7L363.6 199.2L375.3 202.2L381.6 205.5L385.8 207.6L375.3 206.8L358.6 210.5L364.9 214.3L369.5 215.1L379.5 215.1L387.9 215.1L387.9 219.3L373.3 221.4L371.2 223.5L369.1 227.7L373.3 231.9L381.6 234.0L383.7 234.8L383.7 239.9L390.0 239.0L398.4 239.0L404.7 239.0L402.6 242.4L398.4 246.6L390.0 250.7L381.6 252.8L372.0 256.6L379.5 256.2L387.9 254.1L398.4 250.7L406.8 246.6L415.2 242.4L419.4 238.2L423.6 234.0L427.8 231.1L434.0 229.0L427.8 233.2L426.5 237.3L436.1 235.2L442.4 230.6L450.8 231.9L459.2 234.0L477.2 236.1L490.7 241.5L501.1 242.4L511.6 252.8L516.7 257.9L526.3 265.4L528.4 271.7L538.9 275.9L546.4 278.8L549.4 286.3L540.1 282.6L543.1 291.8L541.0 305.2L542.6 309.4L541.4 316.1L549.4 327.0L551.9 332.0L557.7 340.8L566.5 343.3L571.6 348.7L574.1 353.4L577.9 359.6L584.6 365.9L580.8 368.8L585.0 371.8L592.5 376.4L593.4 382.7L602.2 389.4L603.9 388.1L600.5 383.5L596.3 376.4L590.0 368.0L582.9 359.6L582.1 352.5L588.4 354.6L591.3 361.7L598.0 368.4L604.3 373.5L608.1 379.3L616.9 388.1L621.5 395.2L619.8 399.8L625.7 405.7L635.3 409.9L644.1 414.9L658.4 419.5L666.8 417.4L676.4 424.5L679.3 426.6L687.7 428.7L695.3 430.0L696.5 432.5L703.2 438.8L703.7 443.4L707.9 445.1L712.5 450.1L715.4 450.9L720.4 453.4L725.5 454.7L727.6 450.5L729.7 447.6L735.1 450.1L736.4 455.1M738.5 448.8L741.0 451.8L746.0 445.5L746.4 441.7L749.4 439.2L751.9 437.9L756.9 437.1L762.4 433.3L764.0 435.9L762.8 439.6L765.3 439.2L769.5 434.2L770.7 437.1L776.2 438.4L777.9 441.3L782.5 440.9L790.5 443.0L793.8 441.3L803.0 440.5L800.9 442.6L807.2 445.5L808.1 449.3L812.3 450.5L819.0 456.8L824.0 460.1L831.5 460.6L843.7 464.8L846.6 467.7L848.3 466.8L851.3 476.9L853.3 483.2L851.7 486.1L859.6 486.5L859.6 491.1L863.8 487.8L872.2 491.1L877.3 495.7L882.7 495.3L887.7 497.4L893.2 497.0L901.6 500.8L907.0 505.0L915.0 507.5L917.1 515.0L916.7 519.2L913.3 525.9L907.9 531.3L901.6 539.7L899.5 547.3L899.5 554.4L898.6 560.2L894.0 570.3L891.1 577.4L886.9 581.2L881.9 581.6L868.9 585.8L860.1 592.5L859.2 600.9L858.4 605.1L854.6 608.0L852.1 613.0L844.5 619.7L839.1 626.4L832.8 631.9L827.4 631.4L820.2 629.8L818.1 627.7L818.1 630.2L823.2 634.0L825.3 637.7L821.9 644.4L815.6 647.4L803.0 648.2L802.2 655.3L799.7 657.4L790.5 656.1L790.5 661.2L796.3 663.3L792.6 664.9L790.0 667.5L788.4 673.7L780.0 677.5L780.0 680.0L787.1 683.0L786.7 685.5L780.0 691.7L775.8 695.9L773.7 701.4L776.2 704.3L771.6 704.3L765.7 706.4L765.7 708.1L764.0 711.0L759.0 709.3L754.8 707.2L749.8 704.7L748.5 701.0L746.8 694.7L746.4 688.4L750.6 682.1L746.0 680.4L749.8 677.1L754.8 671.6L756.9 667.5L757.7 661.2L757.3 659.1L753.6 660.3L754.0 652.8L755.2 652.0L754.8 646.5L756.1 640.2L758.6 634.0L762.8 623.5L763.2 615.1L763.6 610.9L763.2 604.6L766.1 598.4L767.0 591.7L767.8 584.1L768.7 569.9L768.2 562.8L763.6 559.0L761.1 556.5L752.7 552.3L747.7 549.8L743.1 543.5L739.7 535.5L737.2 530.1L733.4 523.4L731.8 519.2L728.0 514.2L722.9 509.6L722.9 506.6L722.1 505.0L725.5 499.9L728.0 495.7L726.3 497.8L723.4 494.5L724.2 489.5L725.5 487.0L727.6 481.9L728.8 481.1L732.6 477.7L735.1 474.4L739.7 468.9L738.0 462.2L738.5 458.1L736.4 455.1M775.4 705.6L777.0 708.5L780.0 711.4L784.2 713.5L790.0 714.4L786.3 716.0L776.6 716.5L771.6 716.9L763.2 714.8L761.1 712.3L765.3 711.8L768.2 709.3L767.8 706.4L772.4 705.1L775.4 705.6M806.4 702.2L811.4 700.1L817.7 700.1L821.1 701.4L817.3 703.9L812.3 704.3L807.2 703.5L806.4 702.2M707.0 393.6L710.8 390.2L715.8 388.5L721.3 388.5L726.3 389.4L730.5 391.5L736.4 394.0L743.1 396.5L746.0 398.6L751.9 400.7L748.5 401.9L737.2 402.1L739.3 399.0L734.7 398.6L731.8 395.2L725.5 393.1L720.0 392.3L715.8 390.6L711.2 393.1L707.0 393.6M751.0 407.4L755.2 402.8L758.2 401.9L762.4 402.4L769.5 402.8L772.8 404.4L776.2 407.4L773.7 408.2L768.7 408.6L763.6 411.6L759.0 409.1L753.6 409.5L751.0 407.4M734.7 408.2L740.1 408.2L743.5 409.9L739.3 410.7L734.7 409.1L734.7 408.2M781.2 408.2L787.5 408.2L787.1 409.9L781.2 409.9L781.2 408.2M524.6 272.5L532.6 274.2L538.9 276.7L544.7 280.9L545.2 282.6L539.7 281.7L534.7 279.2L527.1 275.5L524.6 272.5M505.3 258.7L510.4 259.1L512.9 263.7L513.7 267.1L509.5 264.1L505.3 261.2L505.3 258.7M415.2 244.5L422.3 242.4L424.8 244.9L419.4 247.0L415.2 244.5M343.1 219.3L352.3 219.8L355.2 220.6L348.1 221.0L343.1 219.3M408.9 400.7L413.1 402.4L410.6 405.9L408.9 403.2L408.9 400.7M406.0 397.3L408.9 398.2L407.2 399.0L406.0 397.3M399.7 394.8L401.8 395.7L400.1 396.1L399.7 394.8M393.0 392.7L395.1 392.7L394.2 393.6L393.0 392.7M814.4 285.5L817.7 282.2L821.9 273.4L829.0 269.6L830.3 273.8L826.1 275.9L830.3 278.0L837.8 278.4L840.8 282.2L840.8 288.4L837.4 289.3L830.3 288.9L828.2 285.9L821.9 285.9L814.4 285.5M793.4 289.7L798.8 290.9L803.0 290.9L799.7 292.6L793.4 289.7M793.0 276.7L800.9 277.5L803.9 279.2L796.7 278.8L793.0 276.7M803.5 440.5L807.2 440.0L807.2 443.0L803.5 443.0L803.5 440.5M820.4 750.9L821.1 752.5L812.5 755.1L801.0 761.2L798.2 764.7L791.9 771.7L797.5 778.8L801.3 784.1L803.6 789.7L805.2 794.8L791.9 799.6L769.2 803.4L761.3 806.2L737.9 807.0L745.9 811.4L736.7 815.3L742.4 819.9L763.2 824.5L785.6 827.6L817.5 831.4L816.7 833.9L849.0 830.2L881.2 828.9L887.1 826.0L923.3 821.9L941.8 820.6L936.1 816.9L917.2 816.3L913.9 812.5L941.6 806.8L969.6 803.9L987.1 799.8L997.8 795.1L995.8 792.2L1007.5 789.6L1019.5 784.9L1032.3 784.9L1035.1 783.0L1049.2 784.7L1063.8 784.2L1082.0 782.0L1094.9 778.9L1103.2 779.8L1112.9 779.2L1126.1 780.8L1140.0 778.0L1153.6 779.2L1160.2 781.1L1176.3 780.0L1190.9 778.1L1205.2 772.5L1214.5 775.0L1225.9 776.9L1241.1 773.2L1261.2 769.4L1271.6 766.0L1285.0 763.5L1296.0 761.9L1305.0 763.4L1315.3 768.2L1326.0 768.9L1335.9 767.1L1349.2 768.6L1355.3 773.7L1356.7 778.1L1351.4 780.9L1354.5 782.0L1352.0 786.0L1357.3 787.3L1364.8 784.6L1374.5 778.6L1387.5 777.1L1395.9 772.3L1406.3 768.9L1417.3 766.8L1431.0 765.8L1434.5 762.6L1437.7 765.9L1454.4 765.7L1467.3 764.0L1486.1 761.5L1495.8 761.4L1505.7 763.7L1515.4 765.2L1530.4 762.4L1539.9 761.6L1549.1 764.9L1567.8 766.1L1576.9 763.2L1598.0 762.8L1616.6 761.6L1629.1 761.3L1630.8 758.7L1637.1 763.6L1652.7 765.5L1674.0 765.2L1682.6 769.7L1699.6 771.9L1710.9 772.5L1729.8 776.8L1745.7 781.5L1762.2 781.6L1775.3 783.8L1780.2 786.8L1775.1 791.9L1757.0 796.3L1749.7 805.5L1758.0 811.6L1764.6 814.6L1741.8 817.6L1727.7 822.5L1730.5 827.0L1745.8 831.3L1773.2 834.9L1788.1 838.0M312.2 836.8L339.4 837.9L356.5 836.2L391.5 841.0L412.5 840.2L437.9 842.9L455.9 840.3L427.9 837.1L424.1 832.0L407.3 825.6L431.2 825.3L442.9 821.8L441.3 818.8L425.8 816.6L407.0 815.3L395.8 809.7L397.1 806.7L408.7 807.8L424.9 809.0L447.2 804.4L445.9 801.5L456.1 800.5L467.7 800.0L479.0 799.3L495.6 797.2L518.3 796.4L541.0 796.0L556.6 795.6L573.0 795.8L587.1 795.4L601.4 798.4L617.5 798.3L637.0 800.3L639.0 797.7L629.7 793.7L630.6 789.7L643.4 791.1L660.9 793.8L682.5 790.8L684.7 789.5L705.8 792.6L732.3 793.6L750.2 794.4L772.4 790.2L773.3 787.3L757.6 787.6L749.6 786.2L757.9 783.4L766.1 779.0L762.5 775.3L766.1 774.1L773.7 771.0L781.7 766.3L790.3 761.1L796.7 757.7L805.8 753.9L815.8 751.2L820.4 750.9M860.4 812.6L874.3 812.7L879.3 816.5L867.4 822.0L849.5 824.9L832.3 823.5L839.2 819.4L849.7 815.3L860.4 812.6M786.8 822.3L809.2 822.7L807.0 824.0L785.5 823.1L786.8 822.3M654.6 786.9L655.9 789.0L632.5 787.1L633.5 785.8L654.6 786.9M391.8 817.2L384.0 817.9L375.2 812.8L381.7 812.2L391.8 817.2M766.1 774.1L771.6 778.3L776.2 784.1L773.3 787.3M878.5 234.8L870.1 231.5L860.9 229.8L855.4 225.6L851.3 221.4L846.2 216.4L844.1 211.0L837.8 204.7L838.7 198.4L849.2 195.5L840.8 192.1L834.5 188.8L836.6 185.8L828.2 180.4L821.9 175.4L817.7 169.9L803.0 167.0L784.2 167.0L773.7 164.9L765.3 162.0L756.9 157.8L777.9 153.6L790.5 150.2L792.6 146.0L803.0 142.7L824.0 141.0L853.3 140.2L874.3 138.5L903.7 135.6L924.6 135.2L949.8 136.4L970.8 139.8L958.2 141.9L987.5 143.1L1012.7 143.9L995.9 148.1L983.3 150.2L989.6 154.4L983.3 158.6L985.4 162.8L974.9 164.9L981.2 169.1L977.0 173.3L970.8 177.5L962.4 181.6L970.8 190.0L954.0 190.9L968.7 192.1L962.4 195.0L954.0 198.4L941.4 199.6L928.8 202.6L920.4 206.8L912.1 209.3L905.8 210.5L895.3 213.1L893.2 217.2L889.0 221.4L884.8 225.6L883.5 229.8L880.6 233.2L878.5 234.8M967.8 218.1L971.2 216.8L970.8 216.0L962.4 213.5L970.8 211.4L960.3 210.5L963.2 208.0L968.7 206.8L973.7 210.1L977.0 211.0L977.9 208.4L986.3 208.0L995.1 206.8L1001.8 207.2L1002.2 209.7L1006.0 212.2L1002.2 215.6L999.3 216.4L991.7 218.1L984.2 219.8L977.9 219.3L972.9 218.1L967.8 218.1M788.4 225.6L777.9 224.8L769.5 222.7L761.1 218.5L742.2 216.4L733.8 214.7L738.0 211.8L750.6 213.1L754.8 208.9L756.9 204.7L756.9 198.4L744.3 196.3L738.0 192.9L723.4 192.1L706.6 192.1L689.8 187.9L685.6 179.5L706.6 177.5L708.7 183.7L719.2 177.5L723.4 176.6L727.6 181.6L735.9 180.8L744.3 180.4L750.6 185.0L761.1 185.8L769.5 190.0L775.8 190.0L782.1 194.2L777.9 198.4L794.6 201.3L803.0 204.7L806.0 206.4L803.0 209.7L794.6 213.1L782.1 207.6L777.9 209.7L790.5 215.1L792.6 220.2L775.8 218.5L788.4 225.6M572.4 192.5L585.0 195.5L587.1 198.4L606.0 198.0L620.6 198.4L637.4 195.5L635.3 192.1L640.3 189.6L637.4 185.8L631.1 181.2L620.6 178.3L614.3 178.7L608.1 181.6L601.8 179.5L589.2 179.5L580.8 177.9L570.3 180.0L564.0 185.4L570.3 189.6L580.8 190.0L572.4 192.5M538.9 183.7L547.3 187.1L557.7 185.8L561.9 181.6L570.3 178.3L578.7 177.5L572.4 174.5L555.6 173.3L541.0 174.1L543.1 177.5L536.8 180.4L538.9 183.7M744.3 165.3L727.6 165.7L710.8 165.3L689.8 164.9L687.7 161.5L698.2 158.6L694.0 154.4L702.4 150.2L685.6 148.1L679.3 143.9L698.2 141.9L727.6 138.1L761.1 137.2L790.5 138.5L805.1 140.2L794.6 143.5L782.1 146.5L769.5 149.0L759.0 152.3L746.4 154.4L748.5 157.8L735.9 160.7L735.9 163.2L744.3 165.3M727.6 169.5L719.2 172.8L702.4 173.3L681.4 172.8L677.2 169.1L677.2 165.7L689.8 166.1L706.6 167.8L717.1 167.8L727.6 169.5M696.1 157.8L681.4 157.4L666.8 153.2L662.6 148.6L673.1 145.2L683.5 148.6L698.2 153.2L696.1 157.8M620.6 171.2L606.0 173.3L587.1 173.3L572.4 170.3L576.6 165.7L593.4 165.7L606.0 164.1L618.5 167.0L620.6 171.2M726.3 218.5L719.2 218.5L710.8 221.0L700.3 218.5L698.2 215.1L704.5 209.7L710.8 211.8L721.3 216.0L726.3 218.5M656.3 185.4L645.8 186.7L635.3 183.7L633.2 179.5L641.6 175.8L652.1 177.5L658.4 180.8L656.3 185.4M683.5 180.8L673.1 184.2L663.4 182.9L661.3 176.6L668.9 174.9L681.4 175.8L683.5 180.8M654.2 170.3L643.7 171.2L633.2 168.7L635.3 164.9L647.9 164.1L652.9 167.4L654.2 170.3M578.7 166.1L564.0 168.2L549.4 166.1L553.6 161.5L572.4 161.5L578.7 166.1M663.4 195.5L654.2 198.0L645.8 196.3L650.0 192.9L658.4 192.5L663.4 195.5M647.9 158.2L631.1 159.0L622.7 155.7L631.1 153.2L645.8 154.8L647.9 158.2M744.3 179.1L735.9 180.0L725.5 178.7L725.5 176.6L735.9 177.0L744.3 179.1M1108.3 152.3L1117.5 151.1L1132.2 150.2L1138.5 151.9L1142.7 154.4L1151.1 156.1L1142.7 158.6L1140.6 160.7L1133.0 164.5L1123.8 162.0L1121.7 160.3L1120.0 158.2L1111.2 155.3L1108.3 152.3M1138.5 149.4L1155.2 148.1L1176.2 149.8L1172.0 152.7L1159.4 153.6L1142.7 151.5L1138.5 149.4M1151.1 157.8L1161.5 159.0L1165.7 161.5L1155.2 161.5L1151.1 159.4L1151.1 157.8M1251.7 147.7L1264.3 149.8L1276.8 148.1L1268.5 146.5L1251.7 147.7M1285.2 149.0L1302.0 149.4L1314.6 147.7L1306.2 146.0L1293.6 146.0L1285.2 149.0M1314.6 146.0L1327.2 147.3L1335.5 145.6L1323.0 143.5L1314.6 146.0M1198.4 354.2L1199.3 359.6L1202.2 365.9L1206.4 369.3L1209.3 361.7L1209.8 368.0L1212.7 370.9L1216.0 375.5L1222.3 384.3L1227.4 395.2L1232.0 402.4L1235.3 405.3L1241.2 414.5L1242.9 423.3L1244.1 429.6L1245.4 432.1L1251.7 431.7L1258.0 429.2L1268.9 424.5L1276.8 421.2L1281.9 419.9L1281.9 417.0L1289.4 414.1L1294.9 411.6L1299.1 410.3L1300.3 407.4L1305.4 405.7L1304.9 399.8L1313.7 391.0L1308.7 386.4L1302.0 383.9L1299.5 379.7L1299.5 375.1L1298.2 376.4L1297.4 377.2L1294.9 379.3L1291.1 382.7L1283.6 383.9L1279.4 383.9L1278.1 382.2L1279.4 379.7L1278.9 376.0L1277.7 376.0L1276.0 378.5L1276.0 381.8L1273.5 377.6L1273.1 374.7L1271.0 372.2L1267.6 368.0L1264.3 362.1L1263.8 360.1L1266.8 359.6L1270.6 358.8L1273.5 359.6L1276.0 364.2L1278.9 368.8L1283.6 370.5L1289.4 373.5L1293.2 373.9L1299.1 371.4L1302.0 373.0L1305.4 377.6L1310.4 378.9L1317.1 379.3L1324.2 380.2L1333.4 379.3L1339.7 378.9L1343.9 381.4L1346.0 385.2L1349.0 386.4L1351.5 388.1L1357.8 388.9L1352.3 391.5L1352.3 392.3L1354.8 394.8L1358.2 397.7L1360.7 398.6L1365.3 396.1L1367.0 391.9L1367.8 396.9L1368.3 405.7L1369.5 412.0L1372.4 420.4L1376.6 431.2L1380.8 438.4L1382.5 443.4L1385.4 449.7L1388.0 451.4L1390.9 448.4L1395.5 446.3L1398.0 442.1L1397.6 435.4L1399.7 430.4L1398.9 422.5L1403.5 417.4L1408.1 415.8L1412.3 411.1L1419.4 404.4L1422.8 402.4L1426.5 400.3L1428.6 395.2L1432.4 394.4L1438.3 394.0L1442.5 392.3L1445.8 391.0L1447.9 391.9L1448.8 395.7L1450.0 398.6L1452.5 401.1L1455.9 404.4L1458.4 408.6L1459.2 414.1L1458.4 418.3L1462.6 419.1L1466.4 417.0L1468.9 416.2L1469.7 414.1L1472.2 416.2L1473.1 422.5L1474.3 426.6L1476.4 433.3L1476.4 439.2L1476.0 443.4L1475.2 447.6L1475.2 452.2L1479.4 455.1L1482.7 458.5L1483.6 462.7L1485.2 467.7L1487.8 472.7L1491.5 476.1L1497.0 479.8L1499.9 479.4L1499.9 474.8L1496.6 469.4L1496.6 465.2L1495.3 463.1L1491.5 459.3L1487.3 456.4L1484.8 455.1L1482.3 450.1L1479.4 446.7L1478.9 441.3L1481.5 435.9L1482.3 432.5L1484.4 428.7L1486.1 430.0L1486.1 431.2L1487.8 432.1L1492.8 434.2L1494.9 437.9L1497.0 440.9L1501.2 441.7L1502.4 444.2L1502.4 449.3L1505.4 446.7L1508.3 445.5L1510.4 443.4L1512.1 442.1L1516.3 439.6L1520.9 435.4L1521.3 427.5L1519.6 421.2L1516.7 417.8L1514.2 415.8L1510.0 412.0L1506.2 407.0L1507.0 402.8L1510.0 400.3L1510.8 398.2L1515.8 395.2L1520.5 395.2L1523.0 397.3L1525.1 400.3L1526.3 396.5L1530.5 395.2L1536.8 393.1L1538.9 392.3L1541.8 391.9L1552.3 387.3L1558.2 382.7L1564.5 376.4L1569.9 368.0L1574.1 360.1L1570.4 358.4L1574.1 355.4L1574.1 352.5L1570.4 349.2L1567.4 341.6L1563.2 339.5L1562.8 338.7L1567.8 334.1L1572.4 331.2L1576.6 328.6L1572.0 327.8L1566.2 328.2L1562.0 329.5L1562.8 327.0L1557.8 325.3L1556.9 322.4L1559.9 321.5L1564.5 318.2L1570.4 314.4L1573.7 314.0L1575.4 315.2L1572.4 319.4L1572.9 322.4L1576.6 320.3L1584.2 318.2L1587.1 319.8L1588.0 323.2L1586.3 326.1L1590.1 326.5L1593.8 328.6L1591.7 331.2L1593.8 334.5L1592.6 339.5L1593.4 341.6L1598.4 339.9L1604.3 338.3L1605.6 336.6L1606.0 334.1L1605.6 330.3L1603.5 327.0L1602.2 325.3L1597.6 321.1L1598.0 318.6L1601.0 317.3L1605.2 314.8L1607.3 310.2L1609.8 308.1L1611.4 306.9L1616.1 304.8L1620.2 306.0L1624.9 304.4L1630.3 302.3L1635.8 296.8L1640.4 291.8L1645.8 287.2L1651.3 280.1L1652.1 273.8L1653.4 269.6L1655.9 266.7L1655.1 262.1L1649.2 258.3L1644.6 257.9L1640.4 260.0L1638.3 257.0L1631.2 256.2L1637.4 251.2L1642.5 248.6L1650.0 243.2L1658.4 238.2L1663.4 236.5L1674.3 236.5L1685.7 236.5L1695.3 235.7L1705.8 237.3L1712.9 236.5L1720.0 227.7L1731.8 226.5L1735.1 225.6L1746.5 223.5L1753.6 223.5L1747.7 229.8L1741.4 234.0L1733.5 237.8L1725.5 242.4L1720.0 246.1L1717.1 250.7L1715.4 255.8L1716.3 263.3L1719.2 269.6L1720.0 272.1L1723.4 269.6L1726.8 266.2L1728.4 263.3L1733.9 258.3L1742.7 255.8L1741.0 252.0L1744.4 249.9L1747.7 250.3L1747.7 243.2L1744.4 241.1L1745.2 239.0L1749.4 234.8L1754.8 234.0L1760.3 234.4L1769.5 231.9L1777.1 234.4L1777.9 231.9L1784.2 229.8L1794.7 226.5L1805.2 223.9L1814.8 224.4L1815.6 220.6L1807.3 214.3L1811.5 214.7L1807.3 211.8L1813.5 213.1L1817.7 212.6M308.3 212.6L312.5 210.5L312.5 207.6L320.8 211.0L327.1 213.5L336.8 215.6L341.0 215.6L346.0 211.0L351.4 208.4L343.9 205.1L333.4 203.4L331.3 204.7L320.8 200.5L310.4 196.7L308.3 196.5M1817.7 196.5L1805.2 194.2L1788.4 192.9L1777.9 193.4L1777.1 197.1L1769.5 192.9L1759.0 194.2L1740.2 194.2L1733.9 192.1L1721.3 187.9L1702.4 188.3L1694.0 185.8L1689.9 182.9L1671.0 181.6L1653.4 180.0L1647.9 182.9L1637.4 185.8L1629.1 185.4L1618.6 185.8L1612.3 188.8L1603.9 185.4L1603.9 180.4L1595.5 177.5L1585.0 176.6L1578.7 179.5L1566.2 179.5L1557.8 177.5L1538.9 177.5L1524.2 175.4L1511.7 178.7L1507.5 179.5L1522.1 174.1L1532.6 169.1L1538.9 167.4L1528.4 164.1L1515.8 161.5L1500.3 159.9L1482.3 164.9L1465.5 166.6L1448.8 167.8L1434.1 169.5L1427.8 173.3L1425.7 175.8L1400.5 177.5L1400.5 182.9L1408.9 187.1L1413.1 190.9L1408.9 183.7L1400.5 184.6L1392.2 182.5L1388.0 181.6L1377.5 180.4L1375.4 183.7L1373.3 190.0L1377.5 196.3L1381.7 197.1L1388.0 200.5L1392.2 202.6L1381.7 200.5L1375.4 198.4L1371.2 204.7L1364.9 206.8L1372.0 200.5L1371.2 196.3L1367.0 190.0L1368.3 185.8L1367.0 180.4L1360.7 178.3L1354.4 178.7L1350.2 181.6L1343.1 187.9L1343.9 192.1L1350.2 194.2L1348.1 199.2L1341.8 197.1L1333.4 195.0L1316.7 192.9L1310.4 198.4L1304.1 197.1L1293.6 198.4L1289.4 199.6L1285.2 198.4L1272.7 199.6L1264.3 201.7L1255.9 204.7L1258.0 201.3L1255.9 199.2L1244.6 197.6L1245.4 198.4L1247.5 204.7L1247.5 208.0L1239.1 207.2L1230.7 211.0L1232.8 215.1L1230.7 214.7L1220.2 213.1L1222.3 217.2L1216.0 217.7L1208.9 215.1L1207.7 209.7L1198.9 204.3L1209.8 207.2L1222.3 208.4L1234.9 205.9L1236.2 203.8L1228.6 200.5L1213.9 195.5L1201.4 194.6L1184.6 192.9L1193.0 190.9L1171.2 187.5M1398.4 444.2L1403.5 449.3L1405.6 453.0L1406.4 456.8L1403.5 459.3L1401.0 460.6L1399.3 460.1L1397.8 456.4L1397.6 451.8L1398.0 447.6L1398.4 444.2M1527.2 401.1L1528.4 403.2L1526.3 406.5L1522.6 409.1L1518.8 407.8L1518.4 404.4L1521.3 401.9L1527.2 401.1M1572.9 379.3L1574.5 380.6L1572.9 384.8L1571.6 388.9L1569.9 393.1L1567.4 390.6L1566.6 386.9L1568.7 383.5L1570.4 380.6L1572.9 379.3M1612.3 342.9L1618.6 337.0L1620.7 336.6L1625.7 336.2L1630.3 335.8L1633.2 335.8L1636.2 331.2L1636.6 329.9L1638.7 328.2L1637.9 331.2L1642.5 329.5L1645.8 326.1L1649.2 322.4L1650.0 319.0L1650.0 315.2L1651.3 312.7L1653.8 314.0L1655.9 311.9L1656.3 315.7L1658.4 319.4L1656.7 324.9L1654.2 325.3L1654.2 330.3L1652.5 333.2L1653.8 335.8L1651.3 338.3L1649.2 338.7L1649.2 336.2L1648.8 338.3L1646.2 337.9L1645.4 340.4L1643.7 338.7L1642.5 340.4L1637.4 340.4L1637.0 338.7L1637.0 341.6L1632.4 345.4L1629.5 343.3L1629.5 342.0L1630.7 340.4L1627.0 339.9L1624.4 340.8L1618.6 341.6L1616.5 343.3L1612.3 342.9M1653.0 310.2L1650.0 311.9L1649.6 306.9L1651.7 303.9L1654.2 304.4L1655.5 303.9L1656.7 301.4L1657.1 296.8L1657.1 295.1L1658.4 294.7L1662.6 298.5L1664.3 299.3L1668.0 301.0L1672.2 299.7L1674.3 303.5L1671.0 305.2L1668.5 305.2L1663.9 308.1L1663.4 309.4L1658.4 307.3L1656.7 306.9L1654.2 308.1L1652.1 307.3L1653.8 309.4L1655.1 310.2L1653.0 310.2M1612.3 343.3L1608.9 344.6L1606.8 346.7L1607.3 348.3L1608.9 348.7L1610.6 347.9L1608.9 351.3L1608.9 354.6L1611.0 355.4L1612.7 353.8L1614.4 351.7L1615.2 348.7L1615.2 346.2L1615.2 344.1L1612.3 343.3M1619.4 343.3L1620.7 342.5L1624.9 341.2L1627.4 342.0L1627.8 343.7L1625.7 345.8L1622.8 345.0L1620.7 348.3L1619.0 347.5L1618.6 346.2L1616.5 345.8L1619.4 343.3M1661.3 257.4L1663.9 263.3L1663.9 269.6L1665.1 275.9L1666.8 279.2L1669.7 281.7L1663.0 279.2L1662.2 284.2L1661.8 287.2L1664.7 289.3L1664.3 292.6L1661.8 290.1L1658.4 293.0L1658.4 288.4L1659.2 282.2L1658.8 275.9L1659.2 272.1L1657.6 267.5L1658.0 262.5L1659.7 260.0L1661.3 257.4M1278.9 185.8L1281.0 181.6L1285.2 178.3L1293.6 173.3L1297.8 170.3L1306.2 168.2L1318.8 165.7L1335.5 163.6L1352.3 162.8L1343.9 166.1L1327.2 169.9L1314.6 173.3L1306.2 177.5L1299.9 181.6L1304.1 187.1L1302.0 189.6L1291.5 189.2L1283.1 187.9L1278.9 185.8M1639.5 169.9L1645.8 166.6L1658.4 167.0L1664.7 169.5L1654.2 171.6L1643.7 172.0L1639.5 169.9M1677.3 169.9L1687.8 169.5L1695.3 170.8L1687.8 172.0L1679.4 171.2L1677.3 169.9M1649.2 177.5L1656.3 175.8L1664.7 177.5L1658.4 178.7L1651.3 178.3L1649.2 177.5M1817.7 185.8L1812.3 187.1L1814.4 188.3L1817.7 188.6M308.3 188.6L314.5 188.3L318.7 187.1L314.5 185.8L308.3 185.8M1455.0 152.3L1463.4 149.8L1476.0 149.8L1484.4 151.9L1482.3 154.4L1471.8 155.3L1459.2 154.0L1455.0 152.3M1452.9 147.7L1461.3 145.2L1473.1 146.9L1471.8 149.0L1459.2 149.8L1452.9 147.7M1482.3 154.8L1494.9 153.6L1505.4 156.5L1499.1 159.0L1484.4 159.0L1480.2 157.4L1482.3 154.8M1171.2 187.5L1159.4 190.0L1142.7 193.4L1132.2 198.0L1123.8 203.4L1115.4 208.9L1109.1 213.9L1104.9 218.5L1096.5 220.6L1086.1 224.8L1084.0 232.3L1086.5 238.6L1092.4 242.4L1096.5 241.9L1107.0 237.3L1109.1 238.2L1112.9 243.6L1115.4 249.5L1117.5 252.8L1123.0 252.8L1123.8 250.7L1128.4 249.9L1132.2 246.6L1133.4 240.3L1140.6 236.9L1135.5 231.5L1135.5 225.6L1140.6 221.4L1149.0 218.1L1153.1 213.9L1156.1 210.5L1165.7 209.7L1169.1 213.1L1165.7 216.0L1153.1 221.0L1152.3 227.7L1155.2 232.3L1159.4 234.8L1167.8 233.2L1178.3 231.9L1183.3 231.1L1188.8 234.4L1180.4 236.1L1166.6 236.1L1161.5 237.3L1161.5 240.3L1165.7 241.1L1163.6 246.1L1157.3 243.6L1153.1 244.9L1151.1 248.6L1151.5 252.0L1146.9 255.4L1141.4 257.4L1134.3 255.8L1123.0 259.1L1113.3 258.3L1108.7 259.1L1104.9 257.0L1104.1 255.8L1105.8 252.8L1106.2 249.5L1108.7 248.6L1107.0 244.0L1102.8 245.7L1097.4 247.4L1097.0 252.4L1099.1 255.4L1100.3 259.1L1098.6 260.8L1092.4 260.4L1088.2 261.6L1083.1 263.7L1081.9 266.7L1080.2 267.5L1077.7 270.0L1073.5 271.3L1070.5 272.1L1069.3 275.0L1063.4 278.0L1058.4 278.4L1056.3 277.1L1056.3 281.7L1048.3 280.9L1042.9 282.6L1045.0 285.1L1053.8 287.2L1058.0 291.8L1058.4 294.7L1056.3 303.5L1047.1 303.1L1039.1 302.7L1029.5 302.3L1024.0 305.6L1026.1 308.5L1026.5 312.7L1025.7 316.9L1023.2 322.8L1025.7 324.5L1025.3 330.3L1029.9 330.3L1033.6 329.5L1036.6 332.4L1039.5 334.5L1040.8 334.1L1044.6 331.6L1052.9 331.2L1054.2 331.6L1058.8 327.8L1063.8 323.2L1061.7 319.8L1066.8 314.8L1072.2 311.9L1076.8 308.1L1075.6 304.4L1081.9 303.5L1085.6 303.9L1088.2 304.8L1093.6 302.3L1100.3 299.3L1104.1 300.6L1106.2 303.1L1107.0 305.6L1112.5 309.0L1114.2 310.6L1120.0 312.7L1122.5 314.4L1125.9 317.8L1128.8 317.8L1130.1 321.9L1128.8 326.1L1130.5 326.5L1132.6 324.5L1134.7 321.9L1132.6 319.0L1133.9 316.1L1135.1 315.7L1138.5 317.8L1140.2 318.6L1140.6 317.3L1138.5 315.2L1133.9 313.1L1130.9 309.8L1126.7 309.8L1122.5 307.3L1119.6 302.7L1115.8 300.6L1115.4 296.8L1114.6 295.1L1120.9 294.3L1120.0 296.8L1121.3 297.7L1123.4 295.6L1125.9 298.9L1126.7 300.6L1131.8 303.1L1138.9 306.9L1143.5 309.8L1144.3 312.3L1144.3 316.1L1146.9 319.0L1149.8 322.4L1152.3 324.9L1152.3 327.4L1153.6 330.7L1157.3 332.8L1158.6 331.2L1160.3 332.8L1159.4 328.6L1162.0 326.5L1163.6 327.6L1163.6 325.3L1159.0 322.4L1159.4 320.7L1159.0 318.2L1159.0 315.2L1161.1 316.9L1163.6 317.8L1165.3 314.0L1171.6 314.4L1175.4 315.2L1172.9 317.5L1178.3 314.0L1184.2 313.6L1185.0 312.7L1180.4 309.8L1178.7 307.3L1180.4 304.4L1182.9 302.3L1183.3 300.2L1187.5 296.0L1191.7 290.5L1195.1 290.1L1197.2 291.4L1201.4 292.2L1199.3 295.1L1203.5 298.5L1205.6 299.3L1211.4 296.8L1216.0 295.1L1209.8 292.2L1211.0 290.9L1217.3 289.7L1220.7 288.0L1226.1 287.6L1227.8 288.0L1223.2 290.1L1221.1 292.6L1222.3 295.1L1219.8 295.6L1216.9 296.0L1219.4 297.2L1221.5 298.1L1226.9 300.6L1229.5 302.7L1234.9 305.2L1237.8 309.0L1237.4 311.1L1229.5 313.6L1224.0 314.0L1215.2 312.3L1210.6 309.4L1202.6 309.4L1196.3 311.5L1189.6 312.7L1185.0 312.7L1188.4 314.8L1184.6 316.1L1178.3 316.5L1173.7 317.3L1172.4 319.8L1175.8 320.3L1175.0 323.2L1176.6 324.5L1173.3 324.9L1177.0 327.4L1177.9 330.3L1181.2 331.6L1185.0 332.0L1187.1 333.7L1190.5 333.2L1191.7 330.7L1197.2 332.4L1200.5 334.5L1205.6 333.2L1208.1 331.2L1212.3 332.0L1214.8 332.0L1213.5 334.5L1213.1 336.6L1213.1 341.2L1211.9 343.3L1209.8 347.9L1208.9 350.8L1207.2 353.4L1204.7 355.0L1198.4 354.2M1039.1 275.5L1041.2 275.9L1045.8 274.6L1047.9 275.0L1048.7 273.4L1052.9 273.8L1057.5 272.5L1064.3 272.9L1067.2 272.1L1068.9 271.3L1068.9 270.0L1065.5 269.6L1068.5 267.9L1070.3 265.4L1068.5 263.7L1064.3 263.7L1064.3 262.9L1063.0 260.8L1062.6 258.7L1060.5 257.0L1058.0 256.6L1057.1 254.9L1054.6 251.6L1052.1 250.7L1049.6 250.7L1052.1 249.5L1050.8 248.6L1054.2 246.1L1055.5 244.5L1054.6 243.6L1045.4 244.5L1047.1 242.8L1050.0 240.7L1050.4 239.9L1042.0 239.9L1040.8 242.4L1038.7 244.9L1038.7 246.6L1037.0 247.8L1039.9 249.1L1039.5 253.7L1042.5 251.2L1043.7 252.8L1041.6 256.2L1042.5 256.6L1049.2 255.4L1047.9 257.0L1050.8 258.7L1050.2 260.0L1050.4 261.6L1043.7 261.6L1043.3 264.1L1045.8 265.8L1043.3 267.1L1040.8 267.9L1041.6 268.8L1046.6 269.2L1049.6 270.0L1052.1 269.2L1050.4 270.4L1048.3 270.8L1045.8 270.8L1044.1 271.7L1042.0 273.4L1039.9 275.0L1039.1 275.5M1032.0 253.3L1037.4 254.1L1039.9 257.4L1037.0 259.1L1037.4 262.1L1037.8 263.7L1036.2 266.7L1033.6 267.1L1028.6 268.3L1021.9 270.0L1019.4 267.1L1022.3 265.0L1021.5 265.0L1025.3 262.5L1020.2 261.6L1021.1 257.9L1027.4 257.9L1026.1 256.2L1028.2 254.5L1032.0 253.3M1115.4 326.1L1119.2 325.7L1128.4 324.9L1126.3 328.2L1126.3 331.6L1122.5 329.9L1120.0 329.1L1115.0 327.0L1115.4 326.1M1101.6 312.3L1103.3 314.0L1103.7 317.8L1102.8 321.5L1101.2 321.1L1099.1 322.4L1098.2 321.1L1098.6 318.2L1097.8 315.2L1097.4 313.6L1101.6 312.3M1102.4 305.2L1102.8 306.4L1102.4 309.8L1101.6 311.9L1099.5 309.8L1099.5 306.9L1102.4 305.2M1161.5 336.6L1163.6 336.6L1168.2 337.2L1173.3 337.9L1170.8 338.7L1166.6 339.1L1161.5 337.9L1161.5 336.6M1198.4 338.7L1198.9 339.7L1201.4 340.4L1203.9 339.1L1206.0 338.7L1208.1 335.8L1202.6 337.2L1200.9 337.9L1198.4 338.7M1073.1 319.4L1076.0 318.0L1077.5 319.0L1076.0 320.7L1073.1 319.4M1109.5 252.0L1114.6 250.3L1115.8 252.0L1114.2 254.1L1110.0 254.1L1109.5 252.0M1104.1 252.8L1107.9 252.8L1107.9 254.5L1105.3 254.5L1104.1 252.8M1139.3 242.8L1142.7 242.8L1141.8 245.3L1139.3 246.6L1139.3 242.8M1264.3 292.6L1268.5 290.5L1280.6 288.4L1285.2 289.3L1286.1 295.6L1277.7 295.6L1273.9 298.5L1277.7 302.7L1283.1 306.0L1284.4 312.7L1285.2 317.8L1287.3 320.7L1289.0 326.1L1289.4 330.7L1281.0 332.0L1273.9 328.6L1270.6 328.2L1268.0 324.5L1269.7 320.7L1274.3 316.1L1271.4 315.2L1268.5 310.6L1265.5 309.0L1262.2 305.2L1262.2 301.0L1260.1 298.1L1260.1 294.3L1264.3 292.6M1660.5 530.1L1664.7 537.6L1666.0 545.2L1668.9 544.7L1672.2 550.2L1674.3 556.1L1676.0 562.8L1678.5 566.1L1684.8 569.0L1688.6 573.6L1691.1 578.7L1695.3 583.3L1699.5 586.6L1702.0 589.1L1705.4 590.0L1704.9 596.3L1705.4 600.0L1706.6 603.4L1707.0 605.5L1704.9 612.2L1704.1 616.8L1699.5 623.1L1697.4 627.3L1695.3 632.3L1692.4 638.1L1692.0 642.3L1685.7 643.6L1681.5 644.8L1676.9 649.0L1673.1 646.5L1669.7 645.7L1664.7 648.2L1660.5 646.1L1656.7 646.1L1652.1 644.4L1648.8 641.1L1647.1 636.0L1645.4 634.4L1642.1 634.4L1643.7 631.4L1641.6 628.5L1640.4 632.7L1637.4 632.7L1639.5 627.7L1641.6 624.3L1640.8 621.4L1639.5 623.5L1637.4 626.4L1633.2 629.8L1632.8 630.6L1629.5 630.2L1629.9 626.8L1628.6 626.0L1625.7 622.6L1623.6 619.7L1616.5 619.3L1613.1 617.2L1603.5 618.0L1591.3 620.5L1582.9 623.5L1582.5 626.0L1574.1 627.3L1566.2 627.3L1557.4 631.9L1552.3 631.9L1545.6 629.3L1545.2 626.0L1547.7 624.7L1548.1 619.3L1545.6 613.0L1543.5 605.9L1541.8 601.3L1537.6 594.6L1540.6 592.1L1539.7 589.6L1538.5 585.8L1541.8 576.6L1542.3 579.5L1545.6 575.7L1552.3 571.5L1560.3 570.3L1566.2 568.6L1572.4 564.8L1575.4 560.7L1578.3 554.0L1581.3 557.7L1582.9 553.5L1585.4 549.4L1588.0 546.4L1595.1 542.7L1598.9 546.0L1600.5 548.9L1603.9 547.7L1606.8 547.3L1606.0 543.5L1611.4 537.2L1614.4 536.4L1619.0 536.0L1619.0 532.6L1622.8 534.7L1629.1 536.4L1633.2 535.5L1636.6 536.4L1635.3 541.0L1633.2 541.0L1633.2 546.0L1630.7 547.3L1635.3 551.4L1637.4 551.9L1643.7 555.6L1647.9 558.6L1653.4 558.6L1655.9 552.3L1656.7 546.0L1656.7 539.3L1658.8 531.3L1660.5 530.1M1669.7 655.7L1676.9 657.8L1684.8 656.6L1684.8 662.0L1683.6 666.2L1678.5 667.9L1675.2 667.5L1671.8 662.0L1669.7 657.8L1669.7 655.7M1787.1 629.3L1788.4 629.3L1793.8 633.1L1794.7 635.2L1796.4 639.8L1798.9 638.1L1801.8 642.7L1806.4 644.4L1811.5 643.2L1809.4 647.4L1808.9 649.4L1804.7 650.7L1805.6 651.1L1802.2 657.0L1798.0 659.5L1795.9 658.2L1796.8 656.1L1796.8 652.4L1793.4 651.1L1791.7 649.9L1793.0 649.0L1795.1 646.5L1795.9 644.8L1794.7 640.2L1793.4 637.7L1790.1 634.0L1788.8 632.7L1787.1 629.3M1787.1 654.9L1789.6 658.2L1793.8 657.0L1793.8 659.9L1791.3 662.8L1788.4 665.8L1788.8 668.7L1785.5 669.1L1781.3 671.2L1780.0 674.2L1778.7 677.1L1775.0 679.6L1768.7 680.4L1765.3 678.8L1761.6 678.8L1762.8 675.0L1766.6 672.1L1769.9 669.5L1771.6 669.1L1775.8 666.6L1780.0 664.1L1780.8 662.8L1782.5 659.9L1785.0 656.1L1787.1 654.9M1462.6 461.8L1470.1 463.5L1475.2 467.3L1476.8 469.4L1481.5 472.7L1485.7 476.5L1488.2 478.2L1492.8 481.1L1496.6 483.2L1498.2 486.5L1497.0 489.5L1500.3 489.5L1502.8 494.9L1505.8 495.3L1507.5 497.8L1506.6 502.9L1507.0 509.6L1504.5 508.3L1501.6 510.0L1497.0 505.8L1491.9 501.2L1486.5 495.7L1484.0 489.5L1480.6 484.4L1477.3 478.2L1473.1 475.6L1469.7 471.9L1465.9 468.1L1462.2 463.5L1462.6 461.8M1504.1 513.8L1507.5 510.0L1510.8 510.8L1517.1 511.7L1518.4 513.3L1525.9 514.2L1528.0 512.1L1534.7 514.2L1536.0 515.4L1541.0 517.5L1542.7 519.6L1543.1 521.7L1536.8 520.0L1531.4 520.0L1525.5 518.8L1520.0 517.5L1517.5 517.9L1509.6 516.3L1509.6 514.6L1504.1 513.8M1522.6 476.5L1525.5 478.2L1530.1 474.8L1536.8 471.9L1541.0 466.8L1545.2 464.3L1549.4 460.1L1552.7 456.0L1556.5 458.1L1558.2 460.6L1562.8 463.1L1559.0 464.3L1560.3 466.8L1557.4 467.7L1556.1 471.5L1557.8 476.1L1556.9 481.1L1562.0 481.1L1557.4 481.9L1555.7 487.4L1552.7 490.7L1551.5 495.7L1550.2 499.9L1549.4 502.0L1543.5 502.9L1543.1 499.9L1536.8 498.7L1531.4 497.8L1525.1 497.4L1524.2 492.8L1520.9 485.3L1520.0 481.5L1522.6 476.5M1586.3 479.0L1588.0 479.0L1585.0 483.6L1578.7 483.2L1572.4 483.2L1566.6 484.4L1566.2 489.0L1569.5 491.1L1572.9 489.0L1580.0 488.2L1580.4 489.0L1574.5 492.0L1572.4 493.7L1575.8 498.7L1577.1 502.0L1577.9 505.4L1572.9 505.4L1572.4 502.0L1570.4 496.6L1567.0 497.8L1567.8 504.1L1567.8 508.7L1563.6 506.6L1564.5 502.0L1561.1 499.9L1561.5 496.6L1563.2 490.3L1565.3 488.2L1565.3 484.4L1567.4 481.5L1569.5 480.7L1574.5 481.1L1580.0 481.5L1584.2 480.2L1586.3 479.0M1613.1 488.6L1618.6 487.0L1625.3 489.0L1626.1 495.7L1629.1 499.1L1631.2 499.5L1635.3 494.5L1640.8 491.6L1653.0 495.7L1655.5 496.6L1665.1 500.4L1674.3 507.1L1679.4 510.4L1682.7 512.9L1679.4 513.3L1681.5 517.9L1684.8 521.3L1689.9 525.5L1695.7 528.0L1694.9 529.7L1687.8 528.4L1680.2 525.1L1675.2 519.6L1668.9 517.1L1664.7 520.5L1663.4 523.4L1659.2 523.8L1654.2 523.4L1651.7 520.9L1645.8 519.6L1640.4 520.5L1642.5 515.8L1644.1 513.8L1642.1 508.3L1635.3 505.4L1629.1 503.3L1623.6 500.8L1619.8 502.0L1617.7 497.4L1622.8 495.3L1624.4 494.5L1618.6 494.5L1612.3 490.7L1613.1 488.6M1580.8 528.4L1585.0 523.8L1589.6 520.9L1596.8 520.5L1593.4 523.0L1587.1 525.9L1584.6 527.6L1580.8 528.4M1565.7 520.9L1570.4 520.5L1577.9 520.0L1578.7 520.5L1575.4 522.1L1568.3 522.1L1565.7 520.9M1552.7 520.9L1556.1 520.5L1559.0 520.0L1562.4 521.3L1559.5 522.5L1553.6 523.0L1552.7 520.9M1562.0 525.1L1567.0 525.1L1569.5 527.6L1566.2 528.4L1562.0 525.9L1562.0 525.1M1543.1 519.6L1547.3 519.2L1548.1 520.9L1545.6 522.1L1543.1 519.6M1549.4 520.5L1552.3 520.5L1551.5 522.5L1549.4 522.1L1549.4 520.5M1598.0 476.1L1599.7 478.6L1602.6 479.0L1600.5 481.9L1603.1 484.0L1599.7 483.6L1599.3 488.6L1598.0 485.3L1597.6 481.1L1598.0 476.1M1599.7 497.8L1606.0 497.0L1611.4 498.7L1610.2 501.2L1603.9 499.5L1599.7 499.5L1599.7 497.8M1591.3 498.7L1595.5 498.3L1596.3 500.8L1592.6 501.2L1591.3 498.7M1568.7 407.8L1572.9 408.2L1575.0 407.8L1576.2 414.1L1575.4 417.4L1572.9 419.1L1572.9 423.3L1576.6 425.8L1580.0 426.6L1582.9 427.1L1583.4 432.9L1580.0 430.8L1577.1 430.0L1577.5 427.1L1573.3 427.1L1570.4 427.9L1568.7 426.6L1569.9 424.5L1568.3 425.0L1567.0 423.3L1565.7 419.1L1565.3 417.0L1567.4 415.8L1567.8 411.6L1568.7 407.8M1589.2 444.2L1592.6 449.7L1593.4 455.1L1592.2 458.9L1589.6 456.0L1588.8 460.1L1588.4 461.8L1587.5 460.1L1582.9 458.1L1583.8 455.1L1580.4 452.6L1575.0 456.4L1574.5 453.0L1577.5 450.9L1580.0 449.3L1582.1 450.5L1583.8 450.9L1585.4 449.7L1587.1 447.6L1589.2 444.2M1584.2 432.9L1588.4 432.9L1590.1 438.4L1587.5 438.8L1586.7 436.3L1584.2 432.9M1584.6 437.5L1587.1 437.9L1588.0 442.1L1586.3 443.0L1584.6 440.9L1584.6 437.5M1576.2 444.2L1578.3 439.6L1580.8 439.6L1579.6 443.8L1578.7 447.2L1576.2 444.2M1574.5 435.4L1578.3 437.1L1579.2 438.4L1577.1 441.3L1574.5 441.3L1574.1 437.1L1574.5 435.4M1567.8 428.7L1571.2 429.2L1572.4 432.5L1571.2 434.2L1569.5 432.1L1567.8 428.7M1554.4 450.1L1559.9 443.8L1564.1 437.9L1564.9 441.3L1560.7 446.7L1555.7 450.5L1554.4 450.1M1684.8 508.7L1689.9 508.3L1695.3 508.3L1698.2 505.8L1701.2 502.9L1702.0 505.4L1699.5 508.7L1694.0 511.7L1688.6 511.2L1684.8 508.7M1694.9 496.2L1699.5 498.7L1703.7 502.9L1704.9 505.0L1702.9 502.0L1698.2 497.8L1694.9 496.2M1711.2 507.9L1714.2 510.0L1716.7 513.8L1714.2 512.9L1711.7 510.0L1711.2 507.9M1719.2 513.3L1723.4 515.8L1721.3 515.8L1719.2 513.3M1732.2 524.2L1737.2 526.3L1735.1 526.7L1732.2 524.2M1736.4 520.0L1739.3 524.6L1737.7 523.4L1736.4 520.0M1739.3 528.0L1743.5 530.5L1741.0 530.1L1739.3 528.0M1761.6 546.8L1764.1 548.5L1763.7 551.9L1761.6 549.8L1761.6 546.8M1764.5 552.3L1766.6 554.0L1765.3 554.8L1764.5 552.3M1750.7 569.5L1756.9 573.6L1763.2 578.7L1760.7 578.7L1754.8 574.9L1750.7 570.7L1750.7 569.5M1806.4 558.1L1811.9 559.0L1811.0 561.5L1806.8 561.1L1806.4 558.1M1812.3 555.2L1817.3 553.1L1815.2 555.6L1812.3 555.2"/>

</g>
<path d="M434.0 108.3V862.2M559.8 108.3V862.2M685.6 108.3V862.2M811.4 108.3V862.2M937.2 108.3V862.2M1063.0 108.3V862.2M1188.8 108.3V862.2M1314.6 108.3V862.2M1440.4 108.3V862.2M1566.2 108.3V862.2M1692.0 108.3V862.2M309.5 234.0H1817.5M309.5 359.6H1817.5M309.5 485.3H1817.5M309.5 610.9H1817.5M309.5 736.6H1817.5" stroke="#000" stroke-width="2.1" fill="none"/>
<rect x="309.5" y="108.3" width="1508.0" height="753.9" fill="none" stroke="#000" stroke-width="3.3"/>
<g clip-path="url(#cn)">
<rect x="70" y="1303" width="945" height="946" fill="#0072dd"/>
<g filter="url(#bl)" transform="scale(0.5)">
<path fill="#007cdd" fill-rule="evenodd" d="M140 2606l1890 0 0 1896 -1890 0z"/>
<path fill="#008add" fill-rule="evenodd" d="M140 2606l1890 0 0 1896 -1890 0z"/>
<path fill="#0098dd" fill-rule="evenodd" d="M140 2606l1890 0 0 1896 -1890 0z"/>
<path fill="#009ecd" fill-rule="evenodd" d="M140 2606l1890 0 0 1896 -1890 0z"/>
<path fill="#00a3bf" fill-rule="evenodd" d="M140 2606l1890 0 0 1896 -1890 0z"/>
<path fill="#00a8af" fill-rule="evenodd" d="M140 2606l1890 0 0 1896 -1890 0z"/>
<path fill="#00aaa0" fill-rule="evenodd" d="M140 2606l1890 0 0 1896 -1890 0z"/>
<path fill="#00aa90" fill-rule="evenodd" d="M140 2606l1890 0 0 1896 -1890 0z"/>
<path fill="#00a981" fill-rule="evenodd" d="M140 2606l1890 0 0 1896 -1890 0z"/>
<path fill="#00a771" fill-rule="evenodd" d="M140 2606l1890 0 0 1896 -1890 0z"/>
<path fill="#00a562" fill-rule="evenodd" d="M140 2606l1890 0 0 1896 -1890 0z"/>
<path fill="#00a352" fill-rule="evenodd" d="M140 2606l1890 0 0 1896 -1890 0z"/>
<path fill="#00a142" fill-rule="evenodd" d="M140 2606l1890 0 0 1896 -1890 0z"/>
<path fill="#009f32" fill-rule="evenodd" d="M140 2606l1890 0 0 1896 -1890 0z"/>
<path fill="#009d23" fill-rule="evenodd" d="M140 2606l1890 0 0 1896 -1890 0z"/>
<path fill="#009b13" fill-rule="evenodd" d="M140 2606l1890 0 0 1896 -1890 0z"/>
<path fill="#009a00" fill-rule="evenodd" d="M140 2606l1890 0 0 1896 -1890 0z"/>
<path fill="#00a500" fill-rule="evenodd" d="M140 2606l1890 0 0 1896 -1890 0z"/>
<path fill="#00b500" fill-rule="evenodd" d="M140 2606l1890 0 0 1896 -1890 0z"/>
<path fill="#00c500" fill-rule="evenodd" d="M140 2606l1890 0 0 1896 -1890 0z"/>
<path fill="#00d400" fill-rule="evenodd" d="M1038 2684l44-1 48 1 48 4 48 6 60 12 42 11 42 12 48 18 42 18 48 23 42 24 36 23 42 31 30 25 30 28 34 35 59 72 30 42 29 48 23 42 26 54 38 96 20 66 14 54 11 54 7 48 4 54 1 48 -3 54 -4 36 -9 48 -14 48 -15 42 -25 54 -22 38 -26 40 -27 36 -53 66 -16 24 -12 30 -13 60 -7 18 -9 18 -23 28 -30 23 -24 11 -30 7 -24 0 -54-6 -28 3 -26 7 -90 33 -54 16 -90 22 -84 16 -54 7 -48 3 -150 1 -36 5 -72 21 -24 2 -18-1 -30-9 -15-9 -15-12 -15-18 -39-60 -20-24 -33-30 -90-72 -62-60 -37-42 -37-48 -28-42 -31-54 -30-60 -25-66 -23-78 -12-60 -9-72 -3-72 3-72 8-66 13-66 25-84 29-72 30-60 36-60 43-60 46-54 57-56 60-50 60-41 60-35 66-31 66-24 66-18 66-12zM1064 3464l-17 6 -13 7 -13 11 -11 14 -9 16 -5 18 -2 18 2 18 6 18 10 18 11 12 15 12 14 7 18 5 18 2 18-2 18-6 18-11 12-10 11-15 7-14 5-16 2-18 -2-18 -5-18 -10-18 -10-12 -16-13 -18-8 -18-5 -18-1zM656 3486l-11 8 -7 12 -1 12 2 12 9 12 8 5 12 3 12-2 12-7 8-11 3-12 -2-12 -8-12 -13-9 -12-1z"/>
<path fill="#00e400" fill-rule="evenodd" d="M1039 2744l91 1 90 10 48 9 48 11 90 28 78 33 66 37 60 45 30 27 27 27 30 36 28 36 32 48 27 46 48 94 24 56 19 50 17 53 13 49 11 48 8 48 4 48 2 42 -2 42 -5 42 -9 48 -12 42 -13 36 -19 42 -26 47 -30 44 -36 45 -56 62 -17 24 -7 12 -5 18 -3 54 -4 24 -10 20 -8 10 -10 7 -18 8 -24 2 -24-5 -48-17 -24-3 -18 1 -66 10 -30 1 -24-5 -12-9 -3-8 0-12 10-36 2-18 0-18 -5-36 2-18 6-18 10-18 50-75 18-33 10-24 5-18 4-18 0-24 -4-18 -6-12 -11-12 -16-9 -18-7 -24-4 -24 0 -30 2 -30 6 -24 9 -18 12 -18 18 -15 21 -15 28 -66 141 -14 35 -13 42 -8 54 -10 42 0 18 2 12 19 42 -1 12 -7 12 -14 12 -20 11 -24 10 -24 6 -30 5 -78 9 -102 20 -24 1 -18-1 -18-5 -12-5 -24-17 -18-18 -42-53 -24-26 -102-84 -53-51 -37-41 -36-47 -30-44 -30-51 -28-57 -21-54 -18-60 -12-60 -9-66 -3-66 2-66 7-66 13-66 20-72 26-66 29-60 36-61 42-59 48-56 53-52 55-47 52-37 56-33 58-27 62-22 60-15 72-11zM1058 3338l-24 4 -24 8 -24 10 -18 11 -18 13 -18 16 -18 21 -14 19 -24 48 -9 24 -5 18 1 30 7 30 9 30 19 42 26 36 32 30 18 12 18 9 48 19 24 6 30 4 30 1 36-1 24-4 24-6 18-8 11-8 19-21 21-39 15-42 10-42 4-48 -4-42 -10-36 -16-36 -20-29 -24-25 -30-23 -30-16 -36-11 -36-6zM668 3416l-18 2 -18 8 -12 7 -13 13 -12 18 -8 18 -5 18 -1 24 3 18 6 19 10 17 14 16 12 9 18 9 18 5 18 0 18-2 24-7 23-12 18-12 14-12 16-18 9-18 1-12 -4-18 -9-18 -20-24 -19-18 -23-15 -18-9 -18-5z"/>
<path fill="#00f400" fill-rule="evenodd" d="M971 2804l99-2 90 6 102 16 120 26 72 23 54 24 48 30 46 39 23 24 24 30 25 36 21 36 31 60 42 90 56 132 34 96 19 78 6 36 3 36 0 36 -3 36 -10 60 -20 60 -27 56 -36 52 -24 28 -26 26 -28 25 -36 27 -30 21 -30 17 -24 8 -12-1 -6-7 -3-12 3-90 4-36 20-114 6-84 -2-54 -4-53 -8-55 -9-48 -14-36 -8-12 -9-8 -23-10 -55-14 -36-15 -30-19 -12-12 -15-18 -12-24 -9-30 -2-36 4-72 -5-18 -7-12 -20-15 -30-11 -36-5 -54 0 -258 10 -60 5 -36 6 -30 8 -24 8 -30 16 -21 14 -22 18 -59 60 -66 60 -27 30 -20 30 -16 36 -9 36 -1 30 2 24 4 18 16 36 27 36 58 60 18 24 16 30 22 65 11 25 19 30 24 29 45 43 18 12 15 7 12 3 18-1 42-10 18-2 18 3 12 10 6 8 11 24 40 126 7 30 0 12 -3 12 -25 78 -8 12 -14 12 -69 36 -41 15 -18 3 -18 1 -18-4 -12-5 -15-10 -12-12 -18-24 -30-54 -17-24 -23-24 -86-72 -57-58 -36-42 -33-44 -27-39 -24-40 -18-36 -17-41 -12-42 -8-42 -6-48 -3-60 1-60 3-60 10-72 14-59 18-57 29-70 31-57 36-56 47-61 52-60 47-48 41-36 42-30 47-27 48-20 48-14 54-11z"/>
<path fill="#00ff00" fill-rule="evenodd" d="M870 2864l38-3 36 1 156 22 60 12 90 26 30 7 30-1 54-15 24-3 36 2 42 10 36 16 36 23 34 29 26 30 22 36 14 36 3 30 -5 24 -8 18 -8 12 -18 16 -6 3 -12 2 -24-5 -30-11 -36-21 -144-103 -24-12 -24-5 -12 1 -18 4 -60 25 -42 14 -42 8 -42 5 -66 0 -108-11 -36-2 -156 5 -18-2 -12-7 -6-7 -6-17 -2-24 2-18 4-18 8-18 20-30 33-30 38-24 47-20zM1444 3242l16-4 12-1 12 2 12 4 12 8 9 9 15 24 5 12 2 18 0 12 -4 18 -6 12 -9 12 -18 12 -12 4 -18 2 -24-6 -13-6 -14-12 -10-12 -6-12 -3-12 -2-18 1-12 5-17 7-13 11-12zM1767 3530l17-3 6 2 6 4 12 14 12 26 8 29 5 36 1 30 -2 36 -6 31 -8 29 -13 30 -15 28 -18 25 -18 18 -18 12 -12 2 -11-7 -7-12 -5-18 -5-24 -4-66 6-72 10-60 13-42 9-16 11-14 13-11zM473 3632l9 1 18 8 36 31 26 32 11 18 7 18 4 18 3 24 -4 42 -5 21 -6 15 -6 8 -12 8 -18 1 -18-3 -24-10 -18-12 -18-16 -12-15 -12-20 -8-19 -7-24 -2-24 1-24 6-24 10-22 12-17 12-10zM868 4046l16-2 12 3 12 10 8 13 8 24 6 30 0 18 -3 24 -19 60 -9 18 -9 11 -18 14 -24 11 -18 3 -18-2 -12-4 -12-9 -12-14 -9-16 -7-18 -4-18 0-18 3-18 20-54 6-12 9-12 15-12 19-12 26-13z"/>
<path fill="#14ff00" fill-rule="evenodd" d="M845 2888l33-4 42 1 162 20 54 10 46 15 37 18 17 12 11 12 5 12 -2 6 -9 18 -15 18 -15 12 -19 12 -20 10 -24 8 -54 11 -30 2 -36-1 -138-17 -120-2 -24-3 -17-8 -7-8 -5-10 -3-24 4-24 5-12 11-18 23-24 25-18 30-14zM1408 2936l22-2 18 2 24 6 16 6 24 12 20 13 20 17 17 18 14 18 10 18 8 18 4 18 0 12 -3 18 -8 18 -11 12 -15 10 -12 2 -12 0 -24-7 -30-13 -36-23 -38-29 -41-36 -28-30 -11-18 0-12 3-6 12-12 19-14 19-10zM1453 3260l19 0 18 7 17 17 9 18 3 24 -5 18 -12 16 -18 9 -18 2 -12-3 -12-5 -9-7 -9-10 -9-20 -2-12 1-12 6-18 10-12 6-5zM1780 3632l10-1 6 4 6 13 5 32 -3 36 -7 30 -13 28 -12 17 -6 6 -6 3 -6 0 -8-6 -5-18 -2-30 2-30 7-30 9-24 9-17zM472 3680l16-5 12 3 12 7 24 22 16 27 8 30 -1 30 -8 24 -9 11 -6 3 -12 2 -12-2 -24-12 -20-20 -14-24 -7-30 1-24 9-24 7-11zM851 4076l15-5 12 0 12 5 6 6 7 12 7 18 3 18 -1 18 -4 21 -10 33 -8 21 -8 15 -12 12 -16 10 -18 5 -12 0 -18-6 -12-9 -6-8 -10-22 -3-12 1-18 10-36 20-42 18-20z"/>
<path fill="#24ff00" fill-rule="evenodd" d="M845 2900l33-4 36 1 162 19 54 10 44 16 28 18 6 6 7 12 1 12 -2 12 -5 12 -10 12 -14 12 -19 11 -36 13 -48 9 -30 1 -30-1 -126-19 -114-4 -18-3 -15-7 -10-12 -4-12 -1-12 5-24 13-23 18-19 18-14 24-12zM1433 2948l15 0 18 3 36 14 30 19 30 30 19 30 5 12 3 18 -2 18 -4 12 -7 12 -8 8 -18 8 -18 1 -18-4 -24-11 -30-18 -27-20 -27-24 -22-24 -11-18 -4-12 1-12 2-6 10-12 15-12 15-7zM1447 3272l13-3 18 4 16 11 11 18 4 18 -3 18 -10 14 -12 8 -18 2 -18-4 -12-9 -12-17 -3-18 3-18 7-12 6-6zM479 3704l9-5 6-1 12 4 18 14 12 18 7 18 2 24 -5 18 -4 8 -6 5 -12 3 -18-5 -18-15 -9-14 -6-18 -2-24 5-18zM852 4088l20-3 12 5 6 5 7 11 5 17 1 13 -1 18 -16 54 -14 26 -9 10 -10 6 -17 5 -12 0 -18-8 -13-15 -7-18 0-24 12-36 18-36 16-18z"/>
<path fill="#34ff00" fill-rule="evenodd" d="M853 2912l25-2 30 1 162 15 48 9 35 13 25 17 6 8 5 11 0 18 -5 12 -9 12 -15 11 -12 7 -36 12 -42 6 -30 0 -30-2 -114-20 -96-5 -18-3 -13-6 -10-12 -4-18 4-18 9-18 14-15 20-15 26-12zM1430 2966l24-3 30 5 31 16 28 24 18 24 8 18 2 12 0 12 -2 12 -6 12 -7 7 -12 7 -12 3 -12-1 -18-4 -24-12 -18-11 -24-19 -18-18 -18-24 -4-12 -1-12 4-12 7-10 11-8zM1446 3284l14-4 12 2 13 8 9 12 4 12 -1 18 -7 12 -6 5 -12 4 -12 0 -12-5 -12-12 -5-10 -1-18 6-15zM494 3734l6-3 6 2 6 3 6 9 3 7 1 12 -4 10 -6 3 -6-1 -12-11 -5-19zM859 4100l13 1 6 3 7 8 6 12 1 12 -2 25 -12 39 -13 26 -5 6 -12 8 -12 4 -12-1 -11-5 -7-6 -7-12 -3-18 3-18 13-35 14-25 16-17z"/>
<path fill="#44ff00" fill-rule="evenodd" d="M882 2924l170 12 30 3 24 6 26 9 19 12 13 18 1 18 -9 18 -14 12 -12 6 -15 6 -21 5 -36 3 -48-3 -102-21 -96-6 -18-6 -10-8 -5-12 2-18 7-14 15-16 15-9 21-9 21-4zM1440 2984l20-5 24 4 24 11 18 14 15 18 10 24 1 12 -2 12 -8 12 -9 6 -7 3 -12 0 -12-2 -30-13 -30-24 -18-24 -5-18 1-6 5-12 6-6zM1450 3296l10-3 6 0 6 3 8 6 4 7 2 11 -2 11 -6 7 -6 3 -12 1 -8-4 -6-6 -4-6 -2-12 4-12zM856 4118l10 0 6 4 5 8 2 12 -1 18 -11 36 -10 18 -11 12 -10 3 -6 0 -12-6 -6-9 -2-12 2-18 6-18 12-24 12-16z"/>
<path fill="#53ff00" fill-rule="evenodd" d="M868 2942l34-1 66 5 66 1 48 6 23 7 22 12 10 12 2 6 1 12 -4 9 -7 9 -17 10 -26 8 -34 3 -42-5 -66-18 -24-5 -84-6 -18-5 -7-6 -4-6 1-12 7-12 7-6 20-12zM1455 3008l11-5 12-1 18 6 12 8 9 10 7 12 3 12 -4 12 -9 7 -12 2 -18-5 -15-10 -12-12 -8-18 2-12zM848 4161l4 5 0 6 -4 13 -6 7 -6-2 0-4 4-14z"/>
<path fill="#63ff00" fill-rule="evenodd" d="M999 2966l47-1 35 7 13 6 8 6 5 6 1 12 -2 6 -6 6 -12 6 -24 6 -24-1 -24-4 -20-7 -46-25 -18-8 -42 0 -17-3 4-6 13-2 54 3z"/>
</g>
<circle cx="543.2" cy="1776.7" r="31.3" fill="#808080"/>
<defs><pattern id="ppn" width="83" height="71" patternUnits="userSpaceOnUse" patternTransform="rotate(78)"><path d="M14.1 2.3h3.4M56.5 30.0h3.5M1.0 34.6h4.8M66.4 51.4h2.3M69.7 60.1h2.5M49.3 2.4h2.4M24.7 11.9h4.3M63.8 24.8h3.0M8.7 6.8h4.1M46.8 4.8h3.4M31.3 59.5h4.2M47.0 39.1h4.8M77.0 24.3h2.7M62.1 5.4h3.1M5.5 23.0h2.2M22.6 55.5h4.7M61.8 39.8h3.8M28.2 12.6h3.3M57.2 5.3h2.1M60.1 21.7h4.1M57.3 65.4h3.2M28.0 56.7h4.3M50.9 57.0h3.9M74.7 24.0h4.2M74.1 24.1h3.8M28.5 32.8h2.2M1.5 53.4h3.4M48.6 52.1h3.3M28.7 12.7h4.4M65.0 51.7h4.6M50.5 49.0h2.6M59.9 24.1h3.3M24.9 40.2h4.0M44.9 23.0h2.7M65.9 21.8h3.3M7.1 21.8h2.3M26.8 49.9h4.9M48.8 19.6h4.0M48.9 58.0h3.6M71.1 29.7h2.9M40.5 64.6h4.2M38.5 35.3h3.9M34.9 39.0h4.9M72.7 59.0h2.4M43.4 26.3h4.7M24.5 65.2h2.7M32.8 67.2h3.8M72.7 38.2h2.7M55.6 37.0h3.5M10.6 11.0h4.8M74.6 67.6h3.1M3.6 39.2h4.2M50.5 4.7h2.7M55.1 4.8h4.5M77.1 18.1h2.2M76.4 53.9h3.4M37.3 64.2h3.1M4.1 43.4h2.9M53.2 66.4h3.1M19.3 4.7h4.5M6.1 66.7h4.1M71.1 57.2h2.6M13.7 67.3h2.9M61.7 12.8h2.9M52.5 18.1h4.3M68.6 23.1h2.9M2.2 30.2h2.2M44.8 48.5h3.7M47.1 42.4h4.7M41.4 60.4h3.1M11.0 16.3h4.4M17.9 54.3h4.7M42.5 10.9h3.9M29.6 63.7h2.7M18.3 34.3h3.5M14.6 26.8h4.0M36.7 5.1h3.2M32.4 31.9h2.1M21.4 66.6h4.6M73.4 53.4h3.3M73.1 21.7h3.8M45.8 31.4h2.8M25.8 45.4h2.9M27.0 25.4h3.0M64.6 38.7h2.1M57.8 35.6h4.3M38.6 22.4h4.5M13.5 20.2h3.5M67.1 8.9h3.0M41.5 47.8h2.3M58.9 39.4h3.6M29.7 22.7h4.7M77.5 13.1h2.6M52.0 53.8h4.5M23.6 15.4h2.2" stroke="#858585" stroke-width="1.6" fill="none"/></pattern><radialGradient id="rgn" gradientUnits="userSpaceOnUse" cx="543.2" cy="1776.7" r="463.7"><stop offset="0" stop-color="#fff" stop-opacity="0.1"/><stop offset="0.45" stop-color="#fff" stop-opacity="0.15"/><stop offset="0.8" stop-color="#fff" stop-opacity="1"/><stop offset="1" stop-color="#fff" stop-opacity="1"/></radialGradient><mask id="mpn" maskUnits="userSpaceOnUse" x="77" y="1310" width="931" height="931"><circle cx="543.2" cy="1776.7" r="464.7" fill="url(#rgn)"/></mask></defs><g mask="url(#mpn)"><circle cx="543.2" cy="1776.7" r="464.7" fill="url(#ppn)"/></g>
<path fill="none" stroke="#000" stroke-width="1.9" stroke-linejoin="round" stroke-linecap="round" d="M548.4 2269.4L558.6 2265.3L568.6 2261.0L579.8 2259.5L590.9 2257.9L602.0 2255.9L614.3 2252.7L626.5 2249.1L636.0 2249.5L633.2 2257.5M65.9 1897.9L74.7 1893.5L91.5 1896.0L103.7 1901.0L115.0 1899.4L121.7 1907.5L128.5 1915.4L135.1 1925.2L139.8 1917.1L154.1 1918.3L163.5 1926.2L173.9 1933.4L178.8 1940.8L183.8 1948.1L176.3 1945.0L168.9 1941.7L164.6 1949.2L172.1 1953.6L179.7 1957.9L187.3 1963.9L194.9 1969.7L204.3 1972.3L211.2 1964.5L199.3 1963.4L192.8 1955.2L191.8 1944.3L197.4 1937.9L203.6 1927.9L207.6 1936.7L216.4 1932.5L213.3 1925.9L210.3 1919.1L207.5 1912.3L194.1 1907.2L180.6 1901.5L190.7 1905.0L200.6 1908.1L211.2 1912.5L221.7 1916.4L225.2 1923.2L228.9 1929.9L232.3 1937.3L235.9 1944.7L239.6 1951.9L249.6 1956.6L259.5 1960.9L270.6 1960.5L275.4 1950.6L280.3 1940.9L282.1 1930.5L284.2 1920.2L290.5 1912.4L296.9 1904.9L304.1 1895.9L311.4 1887.2L297.8 1885.9L293.0 1882.8L288.3 1879.7L291.6 1870.7L299.7 1866.5L307.8 1862.3L309.6 1855.6L311.5 1848.9L313.7 1842.5L312.2 1837.1L310.9 1831.7L309.6 1826.3L302.0 1829.0L294.3 1831.8L286.3 1831.3L278.2 1830.6L273.4 1836.5L268.7 1842.5L254.7 1843.3L239.4 1838.5L230.0 1839.0L220.5 1839.4L207.8 1838.8L209.1 1829.6L222.3 1821.7L231.9 1819.6L241.5 1817.4L241.6 1810.2L241.8 1803.0L246.7 1794.8L251.9 1786.8L253.3 1779.2L254.8 1771.6L256.6 1764.1L265.0 1760.4L273.5 1756.8L283.5 1758.0L293.3 1759.2L304.2 1766.2L315.2 1772.7L318.1 1778.0L321.2 1783.1L324.4 1788.1L337.8 1791.0L340.5 1796.2L343.3 1801.2L357.0 1804.5L369.8 1801.0L369.2 1796.5L368.7 1791.9L359.7 1787.9L350.7 1783.4L355.0 1779.9L359.3 1776.7L361.6 1772.7L363.9 1768.8L372.7 1767.7L379.4 1765.2L386.1 1762.9L373.5 1757.3L365.1 1754.0L356.8 1750.4L356.9 1746.0L357.0 1741.6L357.3 1737.1L359.3 1732.5L361.4 1727.9L363.5 1723.4L365.8 1719.0L355.8 1715.8L358.7 1711.7L361.6 1707.7L364.7 1703.8L367.8 1700.0L371.0 1696.3L375.7 1694.1L380.5 1691.9L385.3 1690.0L390.0 1688.2L392.4 1685.1L394.8 1682.1L397.2 1679.1L399.7 1676.2L405.9 1675.1L412.1 1674.2L412.5 1669.8L413.0 1665.5L413.7 1661.0L414.5 1656.6L415.3 1653.2L416.3 1649.7L420.5 1647.4L424.8 1645.2L429.2 1643.1L433.5 1641.2L437.6 1639.6L441.7 1638.0L445.8 1636.6L450.0 1635.2L454.1 1634.0L458.4 1633.1L462.7 1632.3L466.9 1631.7L471.2 1631.1L475.4 1630.7L479.6 1630.4L482.3 1626.9L485.0 1623.5L487.9 1620.1L491.0 1616.8L492.5 1610.8L495.0 1607.7L497.5 1604.6L500.2 1601.5L500.8 1595.9L495.6 1594.0L490.3 1592.3L483.4 1587.0L478.7 1583.9L483.2 1583.4L487.7 1583.0L491.5 1579.2L495.5 1575.5L499.7 1571.8L492.5 1565.3L488.0 1564.6L483.5 1565.8L479.1 1567.1L475.5 1568.2L471.9 1569.4L469.0 1561.0L472.9 1558.1L476.9 1555.3L481.1 1552.6L481.9 1547.7L481.6 1538.5L475.1 1530.9L470.1 1530.0L465.2 1529.2L462.4 1528.1L459.1 1517.7L452.9 1521.8L448.5 1523.4L444.1 1525.1L437.5 1527.7L436.9 1520.1L438.1 1509.7L441.1 1503.6L444.4 1497.5L448.5 1493.7L452.8 1489.8L457.4 1484.1L462.2 1478.4L457.6 1480.1L453.1 1482.0L448.7 1485.8L444.4 1489.7L439.4 1495.4L434.7 1501.2L431.7 1507.4L428.8 1513.6L426.1 1519.8L423.6 1526.0L423.4 1536.3L423.4 1546.5L422.4 1554.2L418.9 1561.3L420.2 1550.2L417.1 1541.5L413.6 1546.1L410.1 1550.7L409.5 1562.7L405.1 1563.9L400.6 1565.3L395.7 1565.9L390.7 1566.7L384.5 1569.4L378.5 1572.2L372.4 1575.3L366.1 1575.5L359.7 1575.9L353.3 1576.5L348.3 1580.1L343.4 1583.7L330.8 1580.4L318.0 1577.4L305.3 1574.9L294.8 1574.4L284.1 1574.2L271.1 1567.9L262.8 1571.0L254.4 1574.5L248.5 1577.1L242.6 1580.0L234.1 1577.1L225.6 1574.3L233.1 1570.6L240.7 1567.2L230.6 1563.0L220.4 1558.9L212.4 1552.1L204.3 1545.2L196.1 1538.1L186.1 1534.9L180.1 1529.4L174.0 1523.8L158.6 1522.6L143.0 1521.7L129.7 1519.2M272.9 1562.4L267.9 1565.8L262.9 1569.2L252.9 1573.4L240.0 1575.2L236.4 1573.6L242.7 1567.8L251.8 1564.9L258.6 1563.0L265.4 1561.2L272.9 1562.4M313.7 1562.7L308.6 1566.9L298.7 1562.6L292.2 1558.5L301.0 1558.6L309.6 1558.8L313.7 1562.7M421.7 1521.9L418.9 1525.7L416.3 1529.6L411.1 1526.1L414.8 1519.1L421.7 1521.9M510.3 1551.0L505.9 1551.2L501.5 1551.5L498.4 1550.3L501.7 1549.2L505.0 1548.2L510.3 1551.0M221.0 1967.9L230.3 1968.4L240.6 1965.7L250.7 1963.0L257.1 1964.9L263.5 1966.8L256.6 1973.6L249.3 1971.2L248.7 1979.0L251.6 1983.9L254.5 1988.7L250.2 1997.5L238.5 2006.2L233.8 2003.1L230.8 1998.2L228.0 1993.3L231.8 1986.7L226.4 1978.5L223.7 1973.2L221.0 1967.9M196.8 1943.4L198.0 1952.5L201.2 1958.5L195.2 1955.5L196.8 1943.4M223.6 1929.8L225.3 1935.5L227.1 1941.2L225.8 1946.9L223.7 1941.9L221.7 1936.9L223.6 1929.8M361.7 1964.6L361.0 1958.9L360.4 1953.1L358.4 1948.4L356.5 1943.6L359.6 1933.5L363.8 1924.5L369.1 1914.1L377.0 1905.5L384.4 1893.3L395.4 1886.0L400.2 1887.3L405.1 1888.5L405.9 1883.9L406.8 1879.4L409.8 1871.8L415.6 1869.4L418.6 1863.9L421.8 1858.6L428.4 1849.8L436.7 1841.9L437.1 1838.7L437.6 1835.6L438.2 1832.5L436.8 1829.7L435.4 1826.9L434.1 1824.1L435.1 1820.9L436.2 1817.7L438.3 1814.8L440.5 1812.0L443.9 1808.9L447.5 1805.9L450.2 1807.3L452.9 1808.6L455.6 1809.8L458.3 1810.9L462.4 1811.8L466.4 1812.5L474.4 1809.5L478.2 1809.4L481.9 1809.2L483.4 1810.2L484.8 1811.0L486.3 1811.8L487.8 1812.6L489.0 1813.8L490.2 1814.9L491.4 1816.0L492.7 1817.0L493.9 1818.0L495.5 1818.5L497.0 1819.0L498.6 1819.4L500.1 1819.7L502.0 1819.9L503.9 1820.0L505.7 1820.1L507.5 1820.1L509.3 1820.0L510.4 1820.5L511.5 1821.1L512.6 1821.6L513.7 1822.1L514.6 1823.4L515.5 1824.6L516.5 1825.9L517.5 1827.2L517.8 1829.2L518.3 1831.3L518.8 1833.4L519.4 1835.5L517.0 1836.8L514.6 1838.0L515.9 1839.2L517.2 1840.3L518.6 1841.4L520.0 1842.5L521.5 1843.5L523.1 1844.4L524.8 1845.3L526.5 1846.2L528.2 1847.0L525.9 1849.4L523.5 1851.8L521.0 1854.0L518.4 1855.4L515.6 1856.8L515.2 1865.6L510.1 1872.9L508.2 1881.3L505.2 1882.5L502.1 1883.7L502.1 1892.8L497.0 1900.1L490.6 1906.9L486.6 1909.9L482.6 1912.8L481.6 1921.8L480.9 1931.0L477.1 1930.0L473.3 1928.9L469.5 1927.8L472.2 1930.1L475.0 1932.3L477.8 1934.4L471.3 1938.2L467.0 1940.1L462.6 1941.9L457.7 1940.9L452.8 1939.8L447.0 1940.0L441.1 1940.0L435.9 1941.9L430.6 1943.7L426.1 1943.8L421.7 1943.9L415.7 1942.8L410.5 1942.0L405.2 1941.1L398.0 1946.7L389.1 1950.8L380.1 1954.7L373.0 1960.4L365.8 1963.6L361.7 1964.6M456.2 1984.6L460.1 1983.3L460.4 1981.5L457.9 1977.6L455.5 1973.6L459.8 1973.1L464.1 1972.4L460.2 1969.9L456.4 1967.2L460.8 1963.4L466.1 1962.8L467.5 1970.9L469.6 1973.6L472.1 1968.9L475.6 1969.7L479.1 1970.4L483.1 1970.3L487.0 1970.1L489.6 1971.3L492.2 1972.4L491.2 1977.7L493.1 1983.6L488.1 1989.7L485.0 1990.7L481.2 1991.5L477.3 1992.2L473.4 1992.8L469.4 1993.4L464.1 1990.5L460.6 1986.3L456.2 1984.6M323.5 1876.8L322.2 1871.6L321.0 1866.4L321.5 1861.7L322.2 1857.1L325.0 1851.8L328.0 1846.6L327.7 1840.5L327.5 1834.4L327.5 1828.4L328.4 1824.3L329.3 1820.2L336.2 1822.5L336.2 1828.3L336.3 1834.0L345.8 1835.1L354.8 1834.3L367.4 1830.4L368.1 1825.2L369.0 1820.1L374.8 1814.0L374.6 1810.4L374.5 1806.9L374.5 1803.4L374.0 1799.4L373.5 1795.5L373.1 1791.5L375.7 1787.4L378.4 1783.4L381.2 1779.5L389.8 1778.0L398.5 1776.7L399.6 1779.8L400.8 1782.9L402.0 1785.9L403.3 1788.9L390.5 1791.4L397.3 1793.9L404.1 1796.2L406.2 1798.3L396.4 1802.5L397.7 1804.9L399.1 1807.3L400.1 1809.7L401.1 1812.1L392.9 1818.3L393.0 1821.9L393.2 1825.4L390.0 1829.4L386.8 1833.6L388.4 1837.6L382.0 1845.1L372.7 1845.5L372.5 1850.3L372.4 1855.1L372.4 1859.9L370.8 1864.5L369.2 1869.2L367.3 1873.0L359.9 1874.1L355.0 1872.5L350.2 1870.8L353.1 1863.3L356.1 1856.1L350.7 1854.4L347.5 1861.7L344.6 1869.3L335.8 1875.6L334.6 1870.3L333.6 1864.9L332.7 1859.6L327.9 1868.0L323.5 1876.8M390.3 1698.7L385.5 1701.4L380.8 1704.4L374.6 1703.3L373.0 1707.9L371.5 1712.5L370.2 1717.1L368.7 1720.5L367.3 1724.0L366.0 1727.5L366.9 1732.1L367.9 1736.7L369.0 1741.2L376.2 1741.1L380.6 1745.6L388.6 1745.2L398.8 1743.3L402.5 1740.9L406.2 1738.7L406.4 1734.8L401.8 1729.4L407.2 1727.1L408.5 1723.6L410.0 1720.1L412.5 1718.5L415.1 1716.9L414.5 1713.2L414.0 1709.4L406.0 1700.6L396.4 1700.2L394.3 1703.2L392.4 1706.3L391.3 1702.6L390.3 1698.7M417.5 1688.7L413.2 1688.9L408.7 1689.3L408.0 1693.0L407.3 1696.6L413.5 1703.2L415.2 1707.2L417.1 1711.0L416.8 1713.6L416.5 1716.2L423.5 1715.6L425.7 1713.3L427.9 1711.0L430.2 1708.8L431.1 1706.2L432.1 1703.6L433.2 1701.0L426.8 1698.1L424.0 1691.6L417.5 1688.7M431.1 1804.6L430.2 1802.0L429.4 1799.5L428.6 1796.9L428.5 1794.1L428.4 1791.4L428.3 1788.7L428.3 1786.2L428.4 1783.7L428.4 1781.2L428.6 1778.7L435.4 1777.6L438.5 1779.8L441.5 1782.0L450.0 1779.9L454.3 1781.3L458.7 1782.6L460.0 1780.5L461.3 1778.6L462.7 1776.7L471.3 1774.8L472.6 1776.7L474.1 1778.5L475.6 1780.2L477.2 1781.7L478.9 1783.2L480.6 1784.6L482.3 1785.9L484.0 1787.1L484.6 1788.4L485.1 1789.7L485.7 1791.0L486.3 1792.2L487.0 1793.5L487.7 1794.7L487.6 1796.2L487.7 1797.7L487.7 1799.3L487.8 1800.8L488.0 1802.4L487.5 1804.0L487.1 1805.7L486.7 1807.3L483.0 1807.7L479.3 1807.8L475.8 1807.4L472.3 1806.8L469.1 1805.8L466.0 1804.8L462.2 1804.2L458.3 1803.4L455.6 1801.8L452.9 1800.0L446.5 1802.6L443.0 1800.7L439.4 1798.7L434.4 1799.8L432.8 1802.1L431.1 1804.6M421.0 1798.2L417.3 1796.6L413.5 1794.9L412.9 1791.9L412.2 1788.9L411.7 1785.8L411.8 1783.0L411.9 1780.1L412.0 1777.2L412.3 1774.4L420.1 1772.4L426.9 1772.6L426.4 1775.6L426.0 1778.7L425.0 1781.5L424.0 1784.3L423.0 1787.2L423.3 1789.8L423.6 1792.4L422.3 1795.3L421.0 1798.2M443.2 1781.0L443.4 1779.0L443.7 1776.9L444.0 1774.9L446.9 1773.0L449.8 1771.2L452.8 1769.5L462.2 1768.9L465.5 1770.9L468.8 1772.7L465.3 1774.3L461.9 1775.9L458.8 1777.6L455.7 1779.5L452.6 1781.4L443.2 1781.0M420.3 1742.6L419.7 1739.7L419.1 1736.7L418.6 1733.7L419.7 1730.5L421.0 1727.3L422.3 1724.1L425.2 1722.5L428.2 1721.0L431.1 1719.5L438.6 1725.6L437.5 1728.1L436.4 1730.6L435.3 1733.1L435.8 1736.5L436.4 1739.9L432.6 1741.8L428.9 1743.9L420.3 1742.6M320.2 1814.8L319.6 1811.5L319.1 1808.1L316.0 1804.6L312.8 1800.9L315.0 1795.6L317.4 1790.5L324.4 1788.1L336.2 1792.9L332.3 1798.8L328.4 1804.0L324.7 1809.3L320.2 1814.8M387.5 1757.5L386.7 1754.0L385.9 1750.3L389.5 1747.5L393.2 1744.8L401.9 1745.3L405.2 1748.6L408.5 1751.7L406.3 1754.4L404.1 1757.1L396.8 1760.0L387.5 1757.5M395.9 1775.4L392.5 1772.0L389.1 1768.6L390.6 1765.6L392.2 1762.6L405.2 1762.6L406.7 1764.9L408.3 1767.2L407.2 1770.7L406.2 1774.3L395.9 1775.4M418.5 1760.2L418.0 1757.4L417.6 1754.5L420.7 1752.3L423.8 1750.2L431.1 1752.8L431.3 1755.9L431.7 1759.0L424.5 1760.4L418.5 1760.2M437.4 1726.2L437.2 1723.4L437.0 1720.6L436.9 1717.7L439.4 1716.3L441.9 1715.0L444.4 1713.7L451.3 1720.3L449.9 1722.8L448.5 1725.2L447.2 1727.7L437.4 1726.2M366.2 1760.2L363.9 1756.5L361.8 1752.8L363.9 1749.9L366.2 1747.0L372.6 1751.2L372.6 1754.2L372.7 1757.2L366.2 1760.2M443.5 1760.9L443.3 1758.4L443.2 1756.0L443.2 1753.6L446.9 1752.6L450.6 1751.9L452.7 1754.1L454.8 1756.2L453.3 1757.8L451.8 1759.4L450.4 1761.1L443.5 1760.9M403.6 1811.5L402.2 1809.2L400.8 1806.9L401.4 1803.6L402.1 1800.3L406.4 1799.5L406.5 1802.6L406.7 1805.7L405.1 1808.5L403.6 1811.5M559.9 1864.1L561.3 1862.5L562.6 1860.9L564.2 1859.9L565.8 1858.9L567.3 1857.9L570.4 1860.5L573.6 1864.8L575.7 1865.9L577.8 1866.9L577.1 1869.9L576.3 1872.9L576.9 1877.2L576.4 1881.4L575.9 1885.6L573.1 1883.8L570.4 1881.8L568.7 1878.7L566.9 1874.8L564.5 1872.3L562.1 1869.7L559.9 1864.1M568.9 1855.6L570.4 1854.2L571.9 1852.7L573.3 1851.3L575.3 1851.4L577.3 1851.4L579.3 1851.4L581.3 1851.4L582.6 1857.4L580.8 1859.2L579.0 1860.9L576.5 1860.4L574.0 1859.8L571.6 1859.2L568.9 1855.6M579.1 1870.1L581.6 1870.5L584.1 1870.8L587.9 1874.7L585.7 1875.7L583.6 1876.6L580.3 1873.3L579.1 1870.1M599.5 1833.0L602.5 1832.9L605.5 1832.8L605.7 1830.0L605.7 1827.3L603.5 1827.3L601.4 1827.2L600.8 1829.1L600.2 1831.0L599.5 1833.0M608.8 1826.1L610.2 1824.7L611.5 1823.3L612.8 1821.9L612.5 1819.1L612.2 1816.5L610.0 1816.8L607.8 1817.0L606.8 1818.7L605.6 1820.4L607.3 1823.2L608.8 1826.1M609.2 1814.8L611.3 1813.6L613.4 1812.4L612.5 1810.4L611.5 1808.5L608.8 1809.3L606.0 1810.0L607.6 1812.4L609.2 1814.8M967.9 1527.5L956.7 1523.2L946.9 1519.5L950.0 1528.4L956.8 1537.8L963.7 1543.6L957.4 1545.2L958.4 1555.9L952.8 1560.7L948.3 1556.7L936.8 1553.1L923.3 1548.3L919.2 1543.5L920.1 1539.3L931.8 1538.5L937.5 1534.1L929.3 1530.7L923.2 1526.1L917.1 1521.6L917.4 1514.7L923.2 1508.6L931.1 1507.1L927.7 1500.4L927.5 1491.3L935.1 1490.9M923.2 1463.4L916.3 1470.2L912.4 1478.7L910.7 1483.3L908.0 1496.7L902.6 1499.8L896.8 1497.4L887.1 1495.2L876.0 1499.3L869.3 1499.1L865.0 1498.9L855.9 1496.1L853.2 1488.6L844.7 1485.5L834.5 1482.3L818.8 1485.2L805.2 1488.7L791.6 1490.9L783.0 1494.4L774.5 1498.0L764.4 1508.3L757.0 1514.6L750.1 1517.5L744.5 1526.3L745.1 1537.7L749.0 1542.3L756.2 1542.5L753.8 1549.2L756.5 1553.0L759.2 1556.9L745.8 1559.4L737.5 1559.4L730.1 1560.9L722.9 1562.5L715.7 1563.7L708.6 1565.0L701.9 1564.5L697.1 1560.9L692.1 1557.5L686.9 1554.1L681.6 1550.7L676.6 1548.8L671.6 1547.0L667.4 1542.6L663.1 1538.3L659.1 1537.4L655.2 1536.5L647.7 1543.6L640.5 1550.7L634.4 1549.7L628.4 1548.8L624.6 1549.3L618.5 1549.6L612.5 1550.0L609.1 1549.0L605.7 1548.1L615.2 1536.7L624.3 1530.1L629.7 1527.6L635.2 1525.3L641.1 1522.2L647.2 1519.2L656.3 1514.0L663.6 1506.1L670.1 1496.9L673.1 1489.0L676.0 1481.1L678.1 1466.5L679.2 1460.8L672.6 1464.2L665.5 1469.4L660.9 1474.7L650.2 1482.7L643.9 1483.4L637.6 1484.3L637.0 1492.9L631.7 1496.0L628.0 1493.9L625.8 1501.4L623.5 1508.9L625.9 1514.4L623.6 1518.5L616.5 1525.8L610.4 1526.0L604.9 1523.6L599.4 1525.2L594.0 1526.8L590.6 1523.3L587.1 1520.0L585.3 1525.2L578.1 1528.6L572.2 1531.5L566.5 1534.5L561.0 1536.7L555.7 1539.1L550.9 1538.4L546.1 1537.9L545.2 1545.9L549.1 1552.7L552.7 1559.5L548.9 1558.5L552.4 1564.8L546.9 1562.0L543.2 1562.8M543.2 1562.8L539.5 1567.3L539.7 1573.5L536.0 1570.0L532.2 1566.7L526.3 1561.7L521.8 1559.9L517.1 1558.2L513.3 1558.6L510.3 1569.0L506.5 1575.0L510.3 1577.9L513.9 1580.9L518.4 1582.1L522.9 1583.3L524.3 1580.5L528.9 1584.5L533.3 1588.7L537.6 1592.4L541.6 1596.3L543.2 1596.7M543.2 1596.7L547.8 1599.2L552.4 1601.8L556.4 1602.9L560.3 1604.1L564.2 1605.4L568.0 1605.5L571.8 1605.6L573.7 1598.0L575.7 1602.8L577.6 1607.6L581.6 1607.1L585.6 1606.7L590.0 1607.9L594.4 1609.2L598.8 1610.6L601.6 1616.2L604.2 1621.8L606.5 1627.5L610.5 1628.9L614.5 1630.5L618.4 1632.1L619.7 1635.7L620.9 1639.4L620.2 1646.0L623.1 1648.8L626.0 1651.6L628.7 1654.5L631.0 1657.6L633.2 1660.7L635.2 1663.8L641.7 1661.3L646.2 1661.2L650.8 1661.3L652.5 1663.5L654.1 1665.7L656.8 1667.9L659.5 1670.1L666.8 1669.2L666.0 1673.6L665.1 1677.9L657.0 1684.5L656.2 1688.3L655.3 1692.1L656.5 1695.1L657.5 1698.1L664.6 1697.8L666.6 1701.0L668.6 1704.3L667.9 1707.5L667.2 1710.7L668.9 1714.0L670.5 1717.3L672.0 1720.7L671.8 1723.8L671.5 1727.0L671.1 1730.1L675.6 1732.4L680.0 1734.8L682.3 1736.8L677.9 1735.0L673.5 1733.5L669.1 1732.1L663.2 1731.2L657.4 1730.5L653.0 1728.9L650.9 1732.6L648.6 1736.2L647.2 1739.8L645.7 1743.3L645.3 1745.9L644.8 1748.4L644.3 1750.9L648.3 1752.6L652.2 1754.6L656.1 1756.7L657.7 1759.2L659.2 1761.7L660.6 1764.3L661.7 1767.0L662.8 1769.7L663.8 1772.4L665.0 1774.9L666.1 1777.4L667.2 1779.9L674.8 1783.5L679.9 1785.0L680.5 1788.7L681.0 1792.4L681.4 1796.1L681.7 1799.8L692.8 1801.7L697.5 1799.7L702.2 1797.6L710.3 1795.7L702.8 1796.2L695.3 1796.7L695.8 1799.5L696.2 1802.3L693.6 1804.5L691.0 1806.7L688.7 1808.9L686.7 1811.8L684.7 1814.6L691.0 1817.6L703.2 1822.5L716.6 1823.1L719.1 1820.5L727.0 1817.4L732.0 1815.1L729.0 1818.7L725.9 1822.2L720.4 1825.8L732.1 1832.6L734.8 1838.9L729.4 1834.1L723.9 1829.5L715.3 1827.6L701.9 1826.7L693.9 1823.3L682.9 1820.7L677.6 1822.9L677.2 1826.7L681.9 1831.3L687.1 1835.8L692.2 1840.5L700.4 1843.4L706.1 1840.8L715.3 1846.2L709.4 1848.9L706.1 1850.9L702.8 1852.8L699.7 1855.8L696.6 1858.8L693.4 1861.6L700.8 1871.4L696.1 1874.0L695.0 1878.1L693.8 1882.1L694.1 1886.3L690.0 1887.3L688.1 1891.9L686.1 1896.5L685.6 1900.4L685.1 1904.4L685.1 1908.9L684.9 1913.5L681.0 1907.4L676.7 1905.6L672.4 1907.5L668.1 1909.2L669.8 1910.0L680.1 1918.4L685.0 1923.5L681.8 1925.3L678.6 1927.0L678.5 1932.3L678.4 1937.7L685.5 1943.3L683.5 1943.8L678.7 1945.5L673.9 1947.0L680.9 1952.8L676.7 1957.1L672.5 1956.9L668.3 1956.6L660.8 1947.8L654.5 1945.1L648.3 1942.3L653.7 1942.4L659.3 1942.4L664.3 1940.4L669.4 1938.2L671.9 1932.8L674.2 1927.4L672.1 1923.4L667.5 1922.7L662.9 1921.9L657.8 1921.6L652.7 1921.1L647.7 1920.5L643.4 1922.4L639.1 1924.3L635.0 1925.5L630.9 1926.6L626.8 1927.5L628.4 1924.2L629.8 1920.8L625.7 1921.2L621.5 1921.5L617.4 1921.7L613.4 1921.8M875.8 1423.7L873.0 1425.4L867.1 1425.6L873.3 1421.4L863.6 1418.2L853.1 1420.1L842.0 1423.0L835.5 1428.3L829.5 1435.4L823.8 1438.6L822.2 1433.3L816.0 1434.9L821.1 1427.2L823.8 1417.5L834.7 1408.9L839.2 1411.2L847.1 1401.4L854.4 1397.8M817.6 1441.4L824.3 1441.7L817.0 1451.4L809.7 1454.5L807.0 1450.9L804.6 1450.3L799.2 1453.7L791.8 1461.8L789.4 1464.9L787.1 1464.4L787.0 1453.1L785.9 1449.8L783.1 1442.8L775.5 1441.1L777.6 1431.7L784.7 1431.7L788.3 1434.2L799.1 1433.4L801.5 1431.4L805.6 1440.8L807.3 1443.5L812.7 1443.9L814.3 1447.8L815.1 1442.0L814.7 1439.0L817.6 1441.4M731.6 1529.3L736.9 1516.8L745.3 1505.5L752.4 1492.9L754.9 1485.3L754.7 1478.0L757.1 1483.3L759.5 1488.6L767.5 1480.1L772.1 1475.1L771.3 1468.4L776.5 1462.5L776.2 1469.7L784.7 1467.5L778.1 1476.0L768.1 1486.7L759.7 1498.5L754.0 1504.9L749.4 1514.6L742.0 1523.1L736.8 1526.2L731.6 1529.3M666.6 1874.8L660.7 1868.4L656.7 1862.2L654.0 1857.2L651.2 1852.3L647.5 1847.0L646.9 1844.0L646.2 1841.0L645.7 1837.0L645.0 1833.1L645.0 1830.0L644.9 1827.0L644.8 1824.0L645.3 1821.4L645.8 1818.8L646.2 1816.2L648.7 1819.3L651.1 1822.4L652.3 1826.0L653.5 1829.6L654.5 1833.4L656.0 1837.9L657.3 1842.6L659.9 1846.8L662.3 1851.1L667.5 1858.9L678.4 1862.8L682.0 1866.8L679.7 1869.6L677.3 1872.3L674.5 1873.8L671.8 1875.3L666.6 1874.8M627.6 1684.5L620.7 1687.5L618.6 1685.2L616.4 1682.9L617.0 1676.9L620.5 1676.9L624.0 1676.9L626.4 1678.3L628.8 1679.9L627.6 1684.5M612.2 1672.5L609.6 1671.4L607.1 1670.3L606.1 1668.2L605.0 1666.1L607.4 1666.0L609.8 1665.9L611.2 1667.8L612.6 1669.7L612.2 1672.5M633.8 1669.4L631.1 1669.4L628.5 1669.5L627.6 1666.6L626.7 1663.8L631.2 1664.0L632.6 1665.6L634.0 1667.3L633.8 1669.4M543.2 1618.9L546.8 1616.4L545.5 1613.7L543.2 1613.3M543.2 1613.3L538.9 1613.8L536.2 1616.5L539.1 1619.0L543.2 1618.9M632.0 1771.2L629.4 1769.9L626.7 1768.6L626.5 1766.4L626.2 1764.3L628.0 1762.5L629.9 1760.6L635.0 1760.5L636.2 1762.3L637.3 1764.3L636.4 1766.9L635.3 1769.4L632.0 1771.2M622.7 1772.5L620.1 1771.3L617.4 1770.2L618.9 1768.2L620.4 1766.1L624.7 1765.9L625.8 1768.0L626.8 1770.1L622.7 1772.5M635.9 1760.3L634.2 1758.1L632.4 1756.1L634.8 1753.4L637.2 1750.6L642.8 1751.8L643.3 1753.9L643.7 1755.9L644.1 1757.9L641.1 1760.3L635.9 1760.3M613.4 1921.8L610.9 1925.8L608.2 1929.8L605.5 1933.5L602.6 1937.1L599.6 1940.6L597.5 1946.4L595.2 1952.1L593.6 1958.5L591.9 1964.9L589.9 1971.2L587.8 1977.6L584.5 1989.2L582.5 1999.5L578.9 2002.3L575.3 2005.1L570.8 2010.2L566.2 2015.2L565.9 2023.4L565.5 2031.6L569.5 2044.9L577.0 2052.3L581.7 2050.8L586.9 2044.9L591.8 2039.0L594.4 2040.3L601.0 2051.1L606.7 2063.0L610.8 2069.7L617.5 2068.1L617.3 2063.3L622.3 2060.1L624.7 2051.7L622.1 2038.1L624.9 2033.5L627.6 2028.8L618.8 2019.2L615.0 2007.2L617.0 1997.2L619.6 1992.5L622.1 1987.8L622.5 1978.1L622.3 1970.5L625.8 1968.1L629.3 1965.6L635.0 1970.8L634.8 1977.7L631.6 1984.9L628.1 1992.2L630.3 1999.0L632.5 2005.8L639.1 2013.9L645.3 2017.2L648.8 2013.7L652.1 2010.2L656.6 2006.6L660.9 2002.8L664.8 1998.7L673.4 2002.2L670.3 2006.0L667.2 2009.8L662.7 2012.1L658.1 2014.4L653.5 2016.5L649.6 2021.3L652.1 2027.1L657.2 2026.9L659.5 2037.9L650.5 2035.8L647.0 2040.2L647.7 2048.8L650.8 2055.5L648.0 2064.5L642.9 2071.2L637.9 2070.9L633.0 2070.5L627.1 2076.1L620.9 2081.6L614.6 2082.2L608.2 2082.6L602.7 2085.7L597.0 2082.0L595.5 2079.4L596.5 2072.6L595.6 2065.3L598.3 2062.9L594.5 2053.3L590.2 2057.8L584.4 2062.4L585.4 2073.5L589.0 2079.5L591.9 2087.5L590.3 2091.6L581.9 2091.8L576.7 2095.2L570.4 2100.5L569.2 2107.2L567.0 2109.3L563.9 2115.2L558.1 2118.3L554.0 2120.4L552.4 2127.1L543.8 2133.9L536.3 2134.8L533.3 2131.9L533.0 2142.5L527.0 2141.3L521.0 2140.0L512.4 2143.3L515.2 2149.3L521.9 2152.2L528.7 2154.9L535.0 2165.9L535.6 2172.8L533.6 2183.2L531.6 2193.6L523.6 2192.8L515.6 2191.8L508.8 2190.8L502.0 2189.7L493.8 2188.3L485.6 2186.7L475.0 2193.2L477.5 2200.8L476.7 2210.9L473.6 2220.8L466.6 2234.3L470.8 2239.2L467.7 2253.6L476.8 2254.9L484.6 2253.8L489.6 2261.9M497.7 2267.0L505.9 2261.3L514.4 2261.3L522.9 2261.2L525.4 2262.4L534.9 2253.1L544.8 2241.7L540.8 2233.4L550.2 2221.0L560.0 2213.6L567.8 2204.1L565.1 2195.2L575.9 2192.5L582.5 2192.9L587.1 2194.5L595.8 2187.4L601.1 2183.2L606.2 2178.9L613.0 2180.8L617.6 2186.0L620.1 2191.7L631.2 2197.8L635.0 2201.1L646.5 2203.7L652.0 2206.5L660.1 2212.9L665.4 2211.4L670.5 2220.7L671.0 2231.4L674.5 2231.5L677.0 2225.3L679.0 2218.2L673.1 2212.4L673.3 2204.8L675.2 2203.2L682.8 2206.2L686.4 2207.1L686.2 2204.0L680.9 2200.3L671.2 2198.0L663.8 2191.7L656.5 2193.7L647.7 2189.8L640.1 2180.3L632.7 2176.9L630.0 2168.3L627.8 2164.7L637.5 2160.5L637.5 2166.6L640.0 2168.0L642.2 2162.3L648.3 2168.9L650.7 2172.4L660.7 2175.8L667.9 2178.3L675.3 2180.8L685.3 2184.8L688.8 2190.1L691.8 2198.8L698.7 2203.9L706.9 2209.8L713.6 2213.8L715.9 2219.7L721.3 2226.6L730.4 2228.6L731.1 2223.7L735.9 2226.3L730.2 2217.3L732.7 2210.5L736.8 2211.5L734.5 2206.3L723.4 2203.1L722.5 2199.0L719.3 2193.6L716.5 2187.0L721.7 2189.2L726.9 2189.2L726.0 2179.5L736.9 2175.5L744.0 2174.3L742.4 2181.4L747.5 2169.1L756.5 2163.1L756.9 2160.5L746.1 2158.3L740.6 2154.3L740.0 2146.7L741.4 2140.2L739.7 2135.5L741.0 2123.4L740.5 2108.9L744.6 2105.3L749.0 2106.0L755.8 2104.0L756.6 2111.7L766.8 2114.5L770.9 2114.2L775.6 2103.7L779.5 2096.0L767.1 2096.4L767.0 2092.8L773.5 2084.5L775.4 2078.1L781.5 2072.0L784.2 2071.1L781.5 2079.5L782.5 2086.3L787.7 2089.7L785.1 2093.0L781.8 2096.7L786.9 2096.6L790.9 2096.0L801.8 2094.9L808.4 2096.0L819.5 2094.5L829.4 2097.8L832.2 2102.1L828.7 2109.2L825.1 2116.2L818.0 2123.3L810.4 2126.7L802.7 2129.9L791.8 2129.0L785.9 2133.1L779.9 2137.1L773.1 2147.4L768.7 2151.9L764.2 2156.4L756.9 2160.5L764.7 2161.9L760.2 2168.1L750.3 2174.5L743.5 2180.2L744.2 2186.8L750.3 2184.9L752.2 2192.1L756.5 2193.4L751.1 2197.3L760.6 2199.6L765.4 2205.4L772.9 2205.0L780.1 2202.3L785.9 2203.9L791.3 2199.5L790.3 2192.8L801.9 2190.6M817.4 2183.1L818.6 2175.9L826.8 2172.7L830.9 2169.7M508.3 2126.5L511.3 2127.7L518.2 2125.4L521.2 2126.6L522.6 2122.8L528.6 2124.1L535.4 2121.4L540.2 2122.0L545.0 2122.5L549.2 2120.5L551.6 2118.6L551.5 2115.7L546.7 2114.8L550.8 2111.0L553.2 2105.3L550.6 2101.6L544.9 2101.6L544.9 2099.8L543.2 2095.1L542.7 2090.4L540.0 2086.7L536.7 2085.7L535.7 2081.9L532.8 2074.4L529.8 2072.4L526.7 2072.3L529.9 2069.7L528.5 2067.8L532.7 2062.4L534.3 2058.8L533.4 2056.9L528.0 2057.6L522.5 2058.2L524.7 2054.7L528.4 2050.3L529.0 2048.5L524.2 2048.2L519.5 2047.8L517.5 2053.2L514.6 2058.4L514.2 2062.1L511.9 2064.6L515.2 2067.7L513.7 2077.8L517.8 2072.6L519.1 2076.4L515.8 2083.6L516.8 2084.6L521.2 2083.6L525.6 2082.4L523.7 2086.1L527.3 2090.0L526.4 2092.8L526.4 2096.5L522.0 2096.2L517.5 2095.9L516.5 2101.5L519.6 2105.5L516.0 2108.1L512.3 2109.6L513.3 2111.6L520.3 2113.1L524.3 2115.3L527.9 2113.6L525.4 2116.3L522.4 2117.1L518.8 2116.8L516.3 2118.6L513.0 2122.1L509.6 2125.6L508.3 2126.5M504.3 2075.8L510.9 2078.4L513.4 2086.2L509.2 2089.5L509.1 2096.1L509.2 2099.9L506.2 2106.2L502.7 2106.7L495.4 2108.6L490.4 2109.8L485.5 2110.9L483.2 2103.7L488.0 2099.8L486.8 2099.6L492.8 2094.9L486.5 2091.9L489.0 2083.8L497.1 2085.1L496.1 2081.2L499.3 2077.9L504.3 2075.8M645.4 2237.8L652.4 2235.1L660.9 2231.9L669.4 2228.6L667.6 2237.8L669.8 2245.9L661.4 2243.7L656.0 2242.9L645.1 2240.0L645.4 2237.8M613.3 2209.3L617.0 2212.8L619.3 2221.8L619.3 2231.2L615.9 2230.7L612.4 2234.4L610.4 2231.6L610.1 2224.3L607.5 2217.4L606.2 2213.5L613.3 2209.3M612.0 2192.1L613.2 2195.0L613.8 2203.1L613.1 2208.3L608.6 2203.9L607.5 2196.9L612.0 2192.1M562.3 2232.0L567.7 2228.1L570.6 2230.5L568.0 2234.8L562.3 2232.0M600.7 2069.9L606.1 2065.1L608.4 2068.3L607.3 2073.3L602.2 2074.4L600.7 2069.9M594.4 2073.0L599.0 2072.1L599.7 2075.8L596.6 2076.4L594.4 2073.0M630.2 2041.3L633.9 2040.1L634.8 2045.6L632.8 2049.2L630.2 2041.3M834.0 2038.5L834.8 2030.1L839.2 2021.1L843.4 2012.1L849.4 2007.4L862.1 2015.2L857.8 2020.7L853.5 2026.2L854.9 2035.4L866.7 2036.8L878.9 2034.2L886.0 2038.3L893.1 2042.3L903.9 2048.4L912.0 2049.6L924.9 2055.0L934.7 2061.1L931.0 2068.8L927.0 2076.5L919.3 2079.6L911.5 2082.4L906.4 2086.8L896.0 2084.4L891.1 2075.9L888.0 2061.9L882.9 2064.8L870.9 2061.5L864.4 2062.8L853.7 2061.2L846.3 2054.4L838.8 2052.3L832.3 2046.2L834.0 2038.5"/>

</g>
<g clip-path="url(#cn)" stroke="#000" stroke-width="2.1" fill="none"><circle cx="543.2" cy="1776.7" r="127.5"/><circle cx="543.2" cy="1776.7" r="259.5"/><circle cx="543.2" cy="1776.7" r="401.2"/><path d="M543.2 1313.0L543.2 2240.3M141.6 1544.8L944.8 2008.5M141.6 2008.5L944.8 1544.8"/></g>
<circle cx="543.2" cy="1776.7" r="2.2" fill="#fff"/>
<circle cx="543.2" cy="1776.7" r="463.7" fill="none" stroke="#000" stroke-width="3.3"/>
<g clip-path="url(#cs)">
<rect x="1109" y="1303" width="946" height="946" fill="#0072dd"/>
<g filter="url(#bl)" transform="scale(0.5)">
<path fill="#007cdd" fill-rule="evenodd" d="M2218 2606l1896 0 0 1896 -1896 0z"/>
<path fill="#008add" fill-rule="evenodd" d="M2218 2606l1896 0 0 1896 -1896 0z"/>
<path fill="#0098dd" fill-rule="evenodd" d="M2218 2606l1896 0 0 1896 -1896 0z"/>
<path fill="#009ecd" fill-rule="evenodd" d="M2218 2606l1896 0 0 1896 -1896 0z"/>
<path fill="#00a3bf" fill-rule="evenodd" d="M2218 2606l1896 0 0 1896 -1896 0zM2872 3373l-4 1 17 30 5 12 2 18 -2 30 5 12 9 6 34 17 11 7 10 12 12 30 8 6 19 7 12 7 19 22 31 24 22 9 54 31 12 3 12 0 3-19 0-48 -3-36 -4-6 -68-49 -54-35 -120-72 -24-12zM3082 3247l-6 6 -1 7 7 35 41 139 36 102 4 6 1 6 2 0 6-6 2-6 17-24 95-155 7-13 2-12 -7-12 -50-42 -18-4 -48 4 -24-2 -30-10 -25-18zM3406 3481l-204 61 -6 4 -13 2 1 3 12 3 144 4 30-2 42-7 6-3 6-8 10-50 -2-6 -8-4z"/>
<path fill="#00a8af" fill-rule="evenodd" d="M2218 2606l1896 0 0 1896 -1896 0zM3082 3206l-24 4 -60 17 -12 0 -30-7 -6 1 -12 7 -36 29 -12 4 -24-1 -18 8 -12 10 -18 21 -17 27 -2 12 1 12 6 12 31 36 11 18 7 18 5 30 5 12 16 18 38 30 25 33 12 10 30 19 54 44 60 29 30 19 24 5 6 0 6-3 6-18 -5-96 -4-12 9-7 2 1 -3 6 1 3 6 2 17 1 7 3 19 3 89 21 30 4 18-2 30-14 42-11 12-8 6-8 5-18 10-42 1-18 -4-14 -12-23 -6-7 -12-6 -12 1 -12 4 -209 111 -7 2 -4 4 -8 2 0-4 160-172 10-18 1-12 -7-12 -11-12 -57-48 -25-18 -23-8 -60-12 -42-17 -18-4z"/>
<path fill="#00aaa0" fill-rule="evenodd" d="M2218 2606l1896 0 0 1896 -1896 0zM2920 3109l-19 7 -26 18 -39 35 -15 19 -6 12 -2 12 -5 48 -21 54 -3 24 1 12 7 18 31 48 19 48 10 18 26 32 40 40 26 23 73 55 17 11 60 27 36 24 30 4 6-2 6-6 5-10 2-12 -1-24 -9-66 0-12 3-4 54 62 12 10 12 3 42-15 30-2 41-12 37-21 36-9 11-6 7-7 10-17 13-48 4-24 -2-24 -13-59 -6-16 -22-33 -26-29 -12-8 -11-5 -43-12 -18-7 -12-8 -31-27 -23-16 -55-26 -41-22 -18-5 -18-2 -72 2 -19-3 -11-4 -13-8 -36-36 -17-13 -18-6zM3165 3554l2 0 -1 2z"/>
<path fill="#00aa90" fill-rule="evenodd" d="M2218 2606l1896 0 0 1896 -1896 0zM2896 3049l-12 3 -12 6 -18 15 -36 37 -27 36 -7 24 0 54 -3 30 -12 54 -2 18 2 24 6 24 38 78 41 62 28 34 32 25 36 33 66 47 28 15 44 16 36 27 30 5 12-1 14-11 7-12 5-18 0-18 -11-48 -3-6 -2-18 -4-5 0-14 2 7 10 12 33 54 15 16 12 4 12-2 54-20 30-2 12-4 24-8 30-16 42-8 12-7 6-5 9-14 6-12 19-60 4-30 -3-36 -7-42 -11-30 -25-36 -28-32 -18-15 -24-14 -49-17 -35-29 -48-31 -28-24 -14-10 -30-12 -66-13 -24-8 -17-11 -43-38 -30-18 -18-5 -24-3 -36 0z"/>
<path fill="#00a981" fill-rule="evenodd" d="M2218 2606l1896 0 0 1896 -1896 0zM2818 2954l-6 8 -15 40 -39 72 -12 26 -4 16 0 24 15 60 4 30 -2 30 -7 51 0 21 3 24 6 24 21 48 17 30 44 66 18 24 47 39 36 33 66 48 30 16 42 13 23 19 13 8 24 6 18 1 12-3 17-12 13-16 6-5 42-5 30-13 24-7 24-11 36 0 22-9 23-6 21-10 30-4 12-3 9-7 9-12 24-47 26-25 8-12 4-30 -3-78 -8-36 -9-24 -10-18 -21-30 -79-96 -20-18 -40-30 -70-44 -18-9 -24-7 -60-12 -12-4 -11-8 -17-18 -9-6 -66-30 -23-18 -34-42 -14-10 -12-3 -18-1 -54 5 -30 1 -54-9 -12 1z"/>
<path fill="#00a771" fill-rule="evenodd" d="M2218 2606l1896 0 0 1896 -1896 0zM2824 2935l-12 4 -9 9 -15 48 -42 78 -10 24 -5 18 1 24 17 60 5 30 0 30 -6 60 3 36 12 42 17 36 67 102 15 18 40 32 48 43 66 48 24 11 42 14 24 19 12 7 24 6 24 0 18-8 24-22 42-5 30-10 18-3 36-14 36 1 6-1 24-9 32-7 22-12 24-9 12-9 24-43 12-14 18-11 27-10 15-10 6-14 5-36 8-24 12-18 29-29 5-13 -4-18 -9-18 -21-36 -13-15 -12-6 -36-7 -24-12 -42-35 -42-41 -30-26 -54-39 -64-41 -26-12 -72-25 -43-23 -53-20 -24-12 -24-19 -32-39 -16-10 -12-4 -18-2 -60 3 -24 0 -24-3 -31-8z"/>
<path fill="#00a562" fill-rule="evenodd" d="M2218 2606l1896 0 0 1896 -1896 0zM2812 2928l-12 8 -6 9 -14 51 -46 84 -7 18 -4 18 0 18 2 12 19 60 5 24 0 30 -5 60 4 36 10 38 18 40 66 102 16 18 44 36 48 44 66 47 24 11 36 11 36 26 24 7 30 2 18-8 24-20 6-2 36-3 54-12 36-11 36-2 30-10 32-8 52-26 9-10 22-36 10-12 13-9 42-19 9-8 7-12 9-42 6-18 12-18 29-33 5-15 -4-18 -13-26 -20-34 -16-18 -12-7 -36-9 -24-10 -42-32 -48-45 -30-25 -60-43 -53-33 -25-12 -66-26 -46-22 -56-20 -24-12 -20-16 -34-38 -18-13 -12-4 -18-3 -78 1 -30-4 -42-9 -12 0z"/>
<path fill="#00a352" fill-rule="evenodd" d="M2218 2606l1896 0 0 1896 -1896 0zM2806 2923l-11 7 -9 12 -14 54 -43 78 -10 24 -4 18 0 12 2 18 22 66 4 24 2 24 -4 60 5 42 9 36 16 36 71 107 18 19 37 30 53 47 66 48 24 11 36 11 36 26 24 6 30 2 18-7 24-18 6-2 36-3 60-12 30-9 42-6 55-16 15-6 45-24 10-12 19-30 17-18 13-8 35-16 13-12 6-12 9-36 9-24 11-18 25-30 7-18 -1-12 -14-30 -25-42 -16-18 -23-11 -36-10 -24-13 -36-27 -66-59 -66-48 -48-31 -32-17 -97-42 -69-26 -24-12 -21-16 -33-36 -18-13 -18-6 -18-3 -78-1 -72-12 -18 0z"/>
<path fill="#00a142" fill-rule="evenodd" d="M2218 2606l1896 0 0 1896 -1896 0zM2806 2917l-14 7 -6 6 -7 12 -14 54 -43 77 -10 25 -4 18 0 18 2 12 23 72 5 24 2 24 -3 54 5 42 10 36 12 30 75 114 17 18 37 30 53 48 64 48 24 12 42 13 22 17 14 8 24 7 30 1 18-6 30-19 36-3 132-27 68-21 47-24 12-12 20-30 15-17 18-12 36-18 12-12 7-13 10-36 9-24 11-18 24-30 7-18 -3-18 -17-34 -24-39 -17-17 -19-9 -42-14 -30-16 -30-23 -48-44 -30-24 -60-43 -48-30 -106-49 -74-28 -29-14 -23-18 -32-33 -24-16 -18-6 -18-3 -78-2 -78-11z"/>
<path fill="#009f32" fill-rule="evenodd" d="M2218 2606l1896 0 0 1896 -1896 0zM2806 2911l-18 9 -13 16 -6 12 -11 48 -41 72 -10 24 -6 24 0 18 3 18 22 66 8 30 1 18 -1 54 5 42 11 42 13 30 39 54 33 54 17 18 38 31 54 49 54 42 24 14 48 16 30 21 18 9 24 5 24 0 21-7 27-16 30-3 120-24 24-5 72-24 34-18 16-12 26-36 17-18 15-9 29-15 15-12 10-17 11-37 9-24 11-18 24-30 7-18 -2-18 -12-24 -24-42 -20-24 -20-12 -56-20 -30-18 -24-18 -66-59 -55-41 -46-30 -32-18 -65-30 -117-48 -26-18 -37-36 -24-15 -18-7 -24-5 -72-3 -72-10 -18 0z"/>
<path fill="#009d23" fill-rule="evenodd" d="M2218 2606l1896 0 0 1896 -1896 0zM2812 2905l-12 3 -12 6 -12 10 -8 12 -7 18 -10 42 -36 60 -13 30 -7 30 0 30 31 96 4 24 0 54 3 30 10 42 13 36 11 18 36 48 33 54 108 96 54 42 19 12 17 7 36 11 30 20 18 9 24 4 24 1 18-5 30-16 30-3 85-16 70-18 67-23 35-19 13-10 28-38 14-14 14-10 34-18 14-12 10-18 10-36 10-24 11-18 24-30 5-12 2-12 -7-24 -17-30 -20-32 -18-20 -24-14 -54-20 -30-17 -24-18 -42-39 -30-25 -54-40 -36-23 -36-21 -53-25 -121-51 -24-15 -42-38 -24-16 -24-9 -24-5 -72-4 -72-9z"/>
<path fill="#009b13" fill-rule="evenodd" d="M2218 2606l1896 0 0 1896 -1896 0zM2818 2900l-18 3 -18 9 -13 12 -8 12 -7 18 -11 42 -32 54 -14 30 -9 36 0 30 5 18 29 84 3 24 2 48 4 36 9 39 12 33 11 18 32 42 29 48 12 16 52 44 52 48 53 42 23 15 54 18 24 17 18 10 24 6 30 1 24-7 24-12 120-21 60-16 72-25 31-16 18-12 11-12 21-30 12-12 15-10 36-20 13-12 7-12 20-60 10-18 28-36 6-12 1-12 -4-18 -19-36 -23-36 -16-18 -19-12 -64-25 -36-21 -18-14 -60-55 -54-41 -45-30 -43-24 -37-18 -127-54 -27-18 -40-36 -29-17 -24-9 -24-5 -66-4 -66-8z"/>
<path fill="#009a00" fill-rule="evenodd" d="M2218 2606l1896 0 0 1896 -1896 0zM2800 2899l-12 5 -14 8 -11 12 -8 12 -6 12 -14 48 -30 48 -9 18 -9 24 -6 30 -1 24 3 18 27 74 8 28 7 78 8 42 8 30 11 24 44 60 34 55 12 12 49 41 41 39 60 48 30 18 48 16 24 17 18 9 30 6 18 1 12-1 18-5 30-13 120-21 66-20 64-22 32-18 17-12 28-36 15-16 12-8 36-20 18-16 6-12 20-60 10-18 28-36 6-12 2-12 -6-22 -20-38 -22-34 -18-19 -23-13 -55-21 -36-20 -24-18 -36-34 -30-25 -54-41 -36-24 -37-21 -41-21 -126-55 -24-15 -48-41 -30-17 -30-10 -30-4 -132-11 -24 1z"/>
<path fill="#00a500" fill-rule="evenodd" d="M2218 2606l1896 0 0 1896 -1896 0zM2824 2888l-24 3 -24 10 -21 17 -13 18 -22 54 -33 48 -9 18 -6 24 -3 24 -2 24 1 24 7 24 21 54 12 36 17 108 10 36 10 24 12 18 34 42 37 60 56 47 51 49 57 46 24 15 48 16 30 19 18 9 30 6 30 0 18-5 30-11 122-23 64-20 66-24 48-28 12-11 18-25 17-18 13-9 37-21 13-12 10-16 14-44 7-18 11-18 29-36 5-12 2-12 -2-12 -5-12 -15-30 -28-44 -18-19 -18-11 -60-24 -36-19 -24-17 -66-60 -78-58 -73-42 -137-63 -24-15 -48-39 -30-17 -30-12 -30-6 -120-10z"/>
<path fill="#00b500" fill-rule="evenodd" d="M2218 2606l1896 0 0 1896 -1896 0zM2806 2875l-30 7 -25 12 -22 18 -43 46 -18 13 -31 19 -11 9 -10 15 -5 18 0 24 3 24 23 90 8 18 23 43 18 47 12 38 21 88 6 18 9 18 48 58 31 50 11 15 54 45 42 42 60 51 30 20 48 17 30 18 18 8 18 5 24 3 18 0 18-2 36-11 60-14 60-11 72-24 66-25 50-29 10-9 24-30 12-12 53-33 13-12 10-18 11-36 11-24 11-18 30-36 6-12 2-12 0-12 -3-12 -17-36 -30-48 -21-24 -28-17 -66-27 -30-15 -18-14 -63-59 -81-60 -60-37 -131-65 -25-16 -50-38 -40-22 -36-13 -36-7 -114-9z"/>
<path fill="#00c500" fill-rule="evenodd" d="M2218 2606l1896 0 0 1896 -1896 0zM2446 2792l-12 3 -12 5 -18 15 -15 19 -10 24 -2 18 4 18 11 24 20 36 40 60 66 81 32 45 82 91 8 11 10 18 36 86 21 64 10 24 16 24 43 47 36 57 15 16 51 41 36 38 54 47 23 18 19 11 42 15 30 17 24 10 36 7 30 1 24-4 54-13 36-11 48-9 78-26 36-16 30-10 54-31 12-11 24-28 12-11 48-30 14-11 12-18 18-48 9-18 12-18 25-29 8-13 4-12 2-18 -4-18 -7-18 -15-31 -21-35 -15-20 -17-16 -31-19 -66-26 -28-15 -14-11 -36-35 -29-26 -79-59 -54-34 -116-63 -28-18 -58-42 -32-18 -36-15 -36-9 -84-8 -54-2 -60 1 -42 3 -30 8 -42 17 -24 3 -12-3 -12-6 -72-41 -66-32 -42-16 -12-2z"/>
<path fill="#00d400" fill-rule="evenodd" d="M2218 2606l1896 0 0 880 -12 7 -30 29 -24 18 -12 12 -7 14 -4 30 1 24 4 21 6 14 6 7 18 7 54 7 0 826 -1896 0zM2500 2701l-42 16 -42 24 -36 29 -33 34 -23 30 -25 36 -39 66 -11 24 -8 24 -1 12 2 12 6 9 10 9 116 70 90 58 60 47 66 43 21 16 13 18 21 48 29 46 28 62 11 18 57 60 35 54 10 12 52 42 41 44 66 57 36 23 36 14 34 18 26 10 24 5 30 2 24-1 22-4 44-10 36-12 48-10 78-27 36-16 39-15 51-30 42-44 18-13 36-21 18-17 8-13 16-42 12-23 43-55 7-18 3-18 -1-12 -5-18 -23-51 -30-48 -12-14 -15-13 -33-19 -66-27 -24-13 -72-66 -84-64 -42-28 -100-59 -96-66 -44-25 -42-16 -48-10 -96-7 -102-2 -40-6 -15-6 -9-6 -38-38 -24-19 -24-16 -30-17 -60-31 -18-7 -24-2z"/>
<path fill="#00e400" fill-rule="evenodd" d="M2417 2606l1491 0 51 42 51 48 46 48 46 54 12 15 0 544 -12 11 -8 12 -20 66 -11 24 -9 13 -30 34 -10 19 -8 24 -13 84 -8 36 -12 30 -19 30 -3 12 5 12 40 42 27 42 11 12 20 11 60 22 0 402 -43 51 -47 51 -48 46 -54 46 -16 13 -1481 0 -52-42 -53-49 -48-50 -48-56 -6-8 0-1226 24 5 18 6 78 37 42 23 78 48 54 51 72 43 18 20 29 58 37 44 29 46 15 18 52 48 13 18 22 36 13 16 50 38 44 48 46 42 24 18 28 18 36 15 30 16 24 10 18 5 36 5 30 0 30-4 42-10 42-15 42-9 36-14 42-13 42-20 36-14 42-24 18-13 36-37 18-12 30-17 18-15 13-20 17-40 11-20 43-55 8-17 4-18 1-18 -4-18 -8-24 -13-28 -18-33 -15-23 -15-18 -18-16 -36-22 -66-26 -18-10 -66-61 -90-70 -109-71 -82-60 -81-48 -40-16 -42-9 -72-7 -120-5 -26-5 -16-7 -13-11 -35-46 -45-50 -11-18 -38-72 -8-8 -12-6 -18-3 -24 1 -36 7 -24 7 -30 11 -36 18 -60 36 -48 36 -46 45 -50 60 -42 61 0-77 45-56 49-54 49-48z"/>
<path fill="#00f400" fill-rule="evenodd" d="M2793 2606l372 0 26 12 83 21 42 17 26 16 31 36 9 6 6 2 18-2 30-14 12-3 18-2 24 1 24 5 36 10 60 21 18 3 12 0 12-3 30-16 18-5 18 0 24 5 30 13 42 24 42 29 42 36 52 52 37 42 41 54 24 36 23 48 10 30 13 48 10 66 2 30 -3 24 -3 12 -6 12 -20 24 -6 12 -5 24 -5 60 -6 30 -10 24 -28 41 -15 31 -11 36 -15 66 -10 30 -9 16 -12 15 -36 25 -12 11 -10 17 -2 12 6 18 47 48 17 24 24 42 14 18 24 16 66 28 30 17 0 207 -33 50 -37 48 -35 42 -28 30 -35 33 -30 25 -36 26 -42 26 -36 19 -36 15 -88 24 -1061 0 -69-33 -42-23 -48-30 -48-35 -54-45 -52-50 -44-47 -42-52 0-1076 18 2 18 6 90 36 42 23 60 38 15 14 21 30 12 12 18 12 48 27 18 14 12 18 18 40 14 21 12 12 34 26 31 34 53 43 18 21 23 38 13 16 12 11 38 27 38 42 44 42 30 24 36 23 66 32 36 12 30 5 36 1 36-3 36-8 54-19 36-8 42-17 36-11 96-44 42-26 42-41 48-27 12-11 15-20 27-56 42-53 15-29 4-18 2-18 -2-18 -7-22 -13-32 -19-36 -18-30 -16-19 -19-17 -29-19 -30-15 -42-16 -19-10 -77-70 -84-66 -91-62 -55-48 -22-16 -23-14 -70-36 -27-11 -30-9 -54-9 -150-8 -24-6 -18-11 -10-12 -29-42 -34-42 -8-18 0-18 7-18 14-19z"/>
<path fill="#00ff00" fill-rule="evenodd" d="M2848 2606l258 0 19 12 27 12 74 21 39 15 27 18 31 36 20 18 21 12 24 7 18 1 18-3 54-22 12-2 18-1 42 6 66 20 30 6 18 2 18-2 30-7 18-2 18 1 24 7 36 17 30 18 36 28 31 28 40 42 34 42 36 48 26 42 17 36 14 42 11 48 2 36 -1 18 -5 18 -19 30 -7 18 -3 24 -2 66 -5 30 -7 24 -24 43 -18 41 -29 96 -9 24 -16 25 -42 40 -18 23 -10 20 -3 12 0 12 3 12 6 12 35 42 33 60 25 30 15 12 16 10 58 26 23 12 17 12 16 15 0 120 -21 39 -37 54 -41 54 -37 42 -32 32 -30 25 -36 26 -36 22 -36 18 -36 13 -78 20 -72 20 -48 8 -36 0 -60-13 -36-3 -18 1 -18 5 -18 10 -18 14 -682 0 -56-34 -78-35 -48-25 -48-30 -42-31 -49-43 -53-54 -57-66 -39-53 0-287 12 3 12-2 48-25 90-31 12-8 6-9 2-8 -1-12 -7-9 -6-4 -12-1 -18 3 -60 18 -60 10 -18 6 0-629 36 8 78 26 36 19 60 36 19 19 23 40 12 14 18 12 48 26 18 16 12 24 15 54 6 12 6 6 13 6 26-1 18 5 66 45 18 14 14 15 26 42 15 18 14 12 34 24 38 42 57 54 36 26 24 15 66 32 36 12 36 4 36 1 36-5 36-8 54-19 36-10 36-14 42-13 108-54 30-20 36-35 18-11 30-15 18-16 14-20 28-55 42-51 14-26 6-24 2-18 -1-18 -5-24 -15-36 -19-39 -18-30 -18-23 -18-17 -30-21 -30-15 -42-17 -21-12 -69-64 -90-71 -70-51 -55-54 -22-18 -19-12 -24-12 -80-35 -42-15 -30-7 -24-3 -84-1 -48-5 -25-6 -19-12 -33-48 -33-42 -8-18 0-12 2-6 11-18 21-18z"/>
<path fill="#14ff00" fill-rule="evenodd" d="M2862 2606l226 0 20 12 25 12 87 26 36 15 24 18 27 31 21 18 30 19 12 5 18 4 18 1 18-2 24-6 42-16 30-4 36 5 66 19 30 7 30 1 54-7 18 2 24 6 30 13 36 23 30 23 30 27 36 39 37 45 31 42 27 42 17 36 13 36 9 42 3 36 -4 30 -22 42 -5 18 -2 30 -1 54 -5 36 -8 25 -24 47 -12 28 -30 95 -10 27 -15 24 -41 43 -22 29 -12 24 -3 12 0 12 5 18 6 12 34 42 28 54 24 30 18 16 18 11 60 27 22 12 20 15 14 15 4 6 0 89 -18 37 -30 48 -40 54 -39 48 -35 36 -30 27 -36 26 -36 23 -36 18 -36 13 -162 43 -30 4 -24 1 -90-14 -42 0 -18 4 -24 10 -18 11 -16 14 -649 0 -67-42 -84-38 -48-25 -48-29 -42-31 -50-45 -56-60 -54-66 -38-55 0-231 12 1 12-3 54-34 96-38 12-9 6-8 5-13 1-12 -3-18 -9-17 -12-10 -12-4 -18 2 -78 22 -66 8 0-589 48 11 66 22 30 15 60 36 19 18 23 42 12 16 18 14 48 25 12 9 6 8 7 12 3 12 10 54 9 18 7 9 6 3 12 2 30-8 18 2 66 40 18 14 12 12 29 46 13 16 48 36 35 38 61 59 36 26 24 14 66 33 36 11 36 4 42 0 30-4 42-10 48-17 36-10 39-16 45-14 108-55 24-16 36-35 18-12 30-14 18-15 17-25 25-49 42-51 15-26 7-24 3-24 -1-18 -6-24 -14-36 -20-42 -20-33 -17-21 -19-18 -24-16 -30-16 -48-20 -18-11 -66-61 -84-68 -78-59 -48-49 -20-18 -22-14 -24-12 -90-39 -42-14 -48-9 -78-1 -42-3 -30-6 -18-10 -11-12 -24-36 -32-42 -8-12 -3-12 2-12 12-18 21-18z"/>
<path fill="#24ff00" fill-rule="evenodd" d="M2868 2606l211 0 45 24 90 27 35 15 17 12 34 36 28 24 30 18 30 9 18 1 24-2 24-7 42-15 24-4 36 4 73 20 32 6 21 1 60-5 18 2 18 5 30 12 30 18 30 22 30 27 36 38 36 43 35 47 27 42 15 30 13 36 8 36 5 36 -2 24 -3 12 -20 40 -5 20 -2 90 -5 32 -9 28 -33 68 -32 100 -10 25 -18 28 -36 39 -26 34 -11 24 -3 12 1 12 3 15 7 15 32 42 27 54 12 17 12 13 18 16 18 12 84 40 18 13 15 15 9 15 0 71 -15 34 -25 42 -33 48 -48 60 -33 36 -32 30 -36 27 -36 23 -36 19 -36 13 -144 40 -30 6 -24 3 -24 0 -66-10 -36-3 -24 0 -18 3 -18 5 -18 9 -23 15 -13 12 -632 0 -76-47 -90-41 -48-25 -42-27 -42-31 -50-45 -55-60 -57-72 -36-54 0-202 12 0 12-3 42-31 18-11 96-40 9-7 9-12 4-12 2-18 -5-24 -7-14 -12-14 -12-6 -6-1 -18 2 -84 22 -60 6 0-570 42 9 66 20 36 18 60 36 18 18 24 46 12 15 18 13 42 22 12 9 8 9 6 12 3 12 6 42 4 18 5 12 10 13 8 5 10 1 6-1 24-10 12-3 6 1 12 4 60 34 18 14 12 13 27 43 15 18 48 36 32 36 63 60 37 27 24 14 66 33 36 11 36 4 42 0 30-4 42-10 48-17 36-10 42-17 42-14 108-54 24-16 38-37 16-10 30-14 18-15 15-21 28-54 41-49 17-29 5-18 4-24 0-24 -4-18 -11-30 -19-42 -20-36 -20-27 -24-23 -24-17 -30-15 -48-21 -18-11 -65-60 -85-69 -75-57 -45-48 -20-18 -22-15 -30-15 -96-40 -36-12 -24-5 -24-3 -78-1 -42-3 -29-8 -18-12 -29-42 -37-48 -6-18 4-18 8-12 23-19z"/>
<path fill="#34ff00" fill-rule="evenodd" d="M2875 2606l195 0 46 24 92 28 32 14 18 12 34 36 36 29 30 18 30 9 18 1 24-2 24-6 48-16 30-4 36 5 66 18 30 6 24 1 60-3 18 2 18 5 30 13 30 19 30 23 24 22 36 38 37 44 35 48 23 36 15 30 13 36 8 36 3 36 -4 30 -18 36 -6 24 -2 24 0 66 -5 36 -8 24 -33 72 -31 96 -10 24 -17 28 -42 48 -23 32 -11 24 -2 24 4 18 8 16 33 44 26 54 19 24 20 18 18 12 64 30 23 12 16 12 15 15 6 9 6 14 0 47 -12 35 -23 42 -42 60 -42 54 -33 36 -34 32 -36 28 -36 22 -36 18 -42 16 -132 36 -30 6 -24 3 -24 0 -102-12 -24 0 -24 4 -18 5 -22 10 -26 17 -14 13 -616 0 -78-49 -96-45 -48-25 -42-26 -36-26 -44-39 -56-60 -57-72 -36-54 -11-20 0-167 18-3 12-6 36-33 24-15 78-33 18-9 12-12 6-12 3-14 2-18 -4-24 -8-18 -15-18 -14-8 -12-1 -12 2 -84 23 -60 4 0-553 66 15 48 16 36 19 54 33 18 20 24 48 12 15 12 8 48 27 14 14 8 18 5 48 4 18 8 18 9 12 10 6 8 2 12-4 24-14 12-3 6 0 12 4 60 32 18 14 10 11 26 42 15 18 48 36 33 36 62 60 34 25 24 15 66 34 24 9 18 4 36 4 42 0 36-5 42-11 42-15 36-10 42-17 42-14 114-58 18-12 41-39 13-8 30-14 18-14 17-24 29-54 40-48 16-29 6-19 4-24 0-18 -5-24 -13-36 -20-42 -20-35 -18-25 -24-23 -24-16 -24-13 -54-23 -14-9 -64-59 -84-69 -75-58 -44-48 -25-22 -22-14 -25-12 -103-43 -36-12 -24-5 -24-3 -78 0 -38-3 -24-6 -20-12 -66-90 -6-12 -2-12 4-12 15-18 23-17z"/>
<path fill="#44ff00" fill-rule="evenodd" d="M2882 2606l178 0 48 24 94 29 30 13 18 12 36 37 36 29 36 21 30 10 24 1 24-2 24-6 48-17 30-3 30 4 66 17 36 7 30 1 48-2 18 2 24 7 30 13 30 19 24 19 30 28 34 37 34 42 31 42 26 42 14 30 12 36 7 36 2 24 -4 30 -18 38 -6 22 -1 30 1 66 -6 36 -6 18 -33 72 -33 101 -8 19 -16 27 -42 49 -26 38 -11 24 -2 24 3 15 6 15 34 48 22 48 16 23 19 19 24 18 77 37 19 11 15 12 11 12 10 18 4 18 0 18 -3 18 -6 18 -18 36 -34 54 -46 60 -36 42 -36 35 -36 29 -42 26 -36 18 -36 13 -126 35 -36 8 -24 3 -24 0 -108-10 -30 1 -24 4 -19 6 -23 11 -24 17 -16 14 -600 0 -86-54 -96-45 -48-25 -42-26 -36-26 -44-40 -55-60 -56-72 -34-54 -15-31 0-125 18-7 12-8 38-39 22-17 84-37 18-10 11-14 5-12 5-18 1-18 -3-24 -11-24 -14-18 -18-11 -12-1 -12 2 -84 22 -24 3 -36 0 0-536 66 15 48 15 66 37 30 22 13 18 17 37 12 19 18 15 42 24 13 13 7 18 5 48 5 24 8 18 16 16 6 3 12 1 12-6 24-17 12-5 6 0 18 6 54 28 18 13 8 9 26 42 15 18 13 12 34 24 34 36 62 61 36 27 30 17 60 31 24 9 18 5 36 4 42-1 36-5 42-11 78-25 42-17 42-14 108-54 24-16 42-40 42-21 18-14 18-25 30-55 40-48 14-24 8-24 4-30 -2-24 -7-24 -17-42 -22-43 -19-29 -23-27 -18-15 -24-15 -66-30 -18-10 -60-56 -160-129 -56-60 -18-14 -24-15 -29-13 -97-39 -42-14 -42-6 -72 0 -30-2 -29-5 -19-10 -14-14 -20-30 -36-48 -6-12 -2-12 7-18 11-12 24-17z"/>
<path fill="#53ff00" fill-rule="evenodd" d="M2890 2606l160 0 56 27 89 27 29 12 19 12 42 42 37 29 36 21 30 9 24 2 24-2 24-5 54-18 30-3 30 4 66 16 30 5 30 3 54-1 18 3 18 5 24 10 30 17 30 23 27 26 33 36 36 44 34 46 22 36 14 30 10 30 7 30 3 30 -4 30 -17 36 -6 24 -1 24 1 72 -5 36 -8 24 -29 66 -33 97 -12 29 -15 24 -39 47 -29 43 -11 24 -2 24 4 18 8 18 30 42 24 53 13 19 18 18 23 18 22 12 62 29 30 21 14 16 9 18 3 18 -1 18 -11 36 -18 36 -36 54 -41 54 -37 42 -32 32 -36 28 -42 27 -36 17 -36 13 -120 33 -36 8 -24 3 -24 1 -78-8 -36-2 -30 2 -24 4 -24 8 -18 9 -27 17 -21 18 -583 0 -95-60 -96-44 -48-25 -42-26 -36-26 -45-41 -47-54 -47-60 -41-63 -15-33 -9-28 0-62 10-12 26-22 30-38 18-18 24-15 78-36 12-8 9-13 7-18 4-24 0-18 -4-24 -10-24 -18-23 -12-8 -6-2 -12-1 -12 2 -84 23 -24 2 -36-1 0-519 66 14 42 13 48 25 31 19 17 13 10 11 8 12 18 42 12 19 18 15 31 20 11 10 5 8 4 12 5 48 5 24 11 24 12 13 18 7 12-1 12-7 24-21 12-5 6 0 18 4 48 23 18 12 12 11 26 42 14 18 14 12 33 24 34 36 65 64 30 22 30 18 72 37 18 7 18 4 36 4 42-1 36-6 42-10 84-27 38-16 46-16 102-51 24-16 42-40 12-7 30-14 18-14 17-22 31-58 38-44 18-30 8-24 3-30 -2-24 -6-24 -20-48 -21-40 -21-32 -21-23 -18-15 -24-15 -66-30 -18-11 -60-56 -154-126 -56-61 -18-14 -24-14 -26-13 -106-42 -42-14 -42-6 -72 1 -30-2 -24-5 -20-10 -12-12 -22-33 -30-40 -7-11 -5-12 0-12 3-6 3-6 11-12 25-18z"/>
<path fill="#63ff00" fill-rule="evenodd" d="M2879 2612l18-6 143 0 60 27 87 27 29 12 20 12 42 42 38 29 36 23 30 11 24 3 30-1 30-7 54-17 30-3 30 3 96 21 30 3 54 0 36 9 24 11 30 18 24 19 24 22 33 36 35 42 34 48 23 36 14 30 9 24 8 36 2 24 -4 30 -16 36 -5 18 -2 30 2 72 -4 36 -8 24 -31 71 -30 89 -12 30 -15 26 -39 48 -33 48 -10 24 -2 24 4 18 8 18 32 48 21 48 11 18 18 18 29 22 18 10 61 28 29 20 15 16 9 16 4 20 0 18 -8 30 -18 36 -35 54 -41 54 -36 42 -34 34 -36 29 -36 23 -36 17 -42 16 -108 30 -42 10 -24 3 -24 0 -114-8 -36 2 -24 4 -24 8 -25 12 -28 18 -21 18 -567 0 -97-61 -108-51 -48-25 -36-23 -30-21 -39-35 -48-54 -46-60 -39-60 -15-30 -10-36 -2-24 2-12 5-12 51-78 21-22 24-15 72-34 18-14 7-11 7-18 5-30 0-24 -4-24 -11-24 -16-22 -18-13 -12-2 -18 2 -66 19 -24 5 -24 0 -30-1 0-503 66 14 42 12 24 12 36 21 24 15 12 10 16 23 26 59 12 15 29 28 9 12 4 12 9 48 8 30 8 18 17 17 12 6 12 3 18-2 12-9 24-24 12-6 6 0 18 3 48 21 18 13 12 12 23 38 15 18 16 15 30 21 84 86 18 16 30 22 30 19 66 34 36 12 36 5 42-1 36-4 48-12 84-27 42-17 42-15 108-55 24-17 36-35 12-7 30-14 19-14 18-24 29-54 42-50 16-28 7-24 4-24 -1-24 -6-24 -19-48 -24-48 -20-30 -23-26 -18-14 -18-12 -69-32 -21-13 -56-53 -146-120 -19-18 -43-49 -18-14 -24-15 -39-18 -105-41 -30-10 -24-5 -24-2 -66 1 -30-1 -24-5 -19-9 -12-12 -25-36 -32-42 -6-12 -3-12 1-6 5-12 11-12 20-15z"/>
<path fill="#73ff00" fill-rule="evenodd" d="M2886 2612l18-6 125 0 69 30 92 28 19 8 19 12 50 48 44 32 36 22 30 10 24 2 30-2 30-7 54-18 30-2 30 3 84 18 36 5 60 2 36 9 24 11 24 15 24 19 26 25 34 37 33 41 30 42 23 36 12 24 10 30 6 24 3 30 -3 28 -16 38 -5 24 -1 30 2 72 -5 36 -8 24 -27 62 -42 120 -16 28 -38 49 -36 53 -10 24 -2 24 4 18 8 18 31 48 20 48 15 23 20 19 25 18 21 12 60 28 29 20 13 14 9 16 4 18 -1 18 -7 30 -18 36 -35 54 -41 54 -36 42 -31 31 -36 28 -36 23 -36 17 -42 16 -102 28 -42 10 -24 3 -24 1 -84-7 -36 0 -36 2 -24 4 -24 7 -30 15 -31 20 -22 18 -550 0 -99-63 -144-70 -48-28 -35-25 -37-33 -40-45 -50-66 -30-48 -17-36 -8-30 0-24 9-30 32-66 20-26 24-18 78-39 18-15 6-11 7-23 5-36 1-24 -5-24 -14-30 -18-22 -18-11 -12-2 -12 1 -72 21 -24 4 -24 1 -30-3 0-485 66 12 42 13 24 12 42 24 18 12 12 10 15 23 21 57 19 39 5 18 6 51 6 27 9 24 9 12 6 6 10 6 16 6 28 7 18 1 12-3 6-4 28-31 14-9 6-1 12 1 48 18 16 9 14 12 9 12 18 30 15 19 18 16 30 21 84 87 18 16 42 30 66 36 36 16 24 6 36 3 42-1 36-6 48-12 78-25 42-17 43-15 107-55 24-16 36-36 12-8 30-13 21-16 18-24 27-51 43-51 17-30 7-24 3-24 -1-24 -5-24 -14-36 -23-48 -22-36 -25-30 -16-15 -24-16 -72-33 -18-12 -54-51 -142-119 -14-13 -48-55 -20-16 -20-12 -38-18 -54-19 -60-25 -30-10 -42-6 -72 1 -24-1 -24-5 -18-7 -13-12 -56-78 -7-12 -3-12 2-12 8-12 6-6 26-18z"/>
<path fill="#83ff00" fill-rule="evenodd" d="M2892 2612l21-6 104 0 18 6 55 24 96 30 16 7 19 11 51 48 50 37 36 22 30 10 30 3 30-3 24-5 54-19 18-3 18-1 30 4 90 18 30 4 54 2 36 9 24 11 24 15 24 18 24 23 36 40 30 37 30 42 23 36 12 24 8 24 8 30 2 24 -4 30 -15 36 -4 18 -2 24 4 84 -5 36 -7 24 -26 60 -45 126 -15 27 -42 55 -33 50 -10 24 -2 24 4 18 8 18 30 48 22 54 12 18 18 18 29 21 24 13 57 26 27 18 12 13 10 17 5 18 0 18 -7 30 -18 36 -31 48 -40 54 -36 42 -33 33 -30 25 -36 23 -36 18 -42 15 -96 28 -48 11 -48 4 -84-5 -36-1 -36 2 -30 5 -24 7 -32 15 -34 22 -25 20 -533 0 -108-68 -144-70 -42-24 -35-24 -34-30 -38-42 -41-54 -34-54 -19-42 -4-18 -2-18 1-18 4-18 17-54 17-33 18-21 24-16 66-33 12-8 9-9 9-18 6-24 7-48 1-24 -6-24 -16-30 -22-23 -18-9 -12-1 -12 1 -72 21 -24 5 -24 0 -30-3 0-469 66 12 42 12 24 12 48 29 16 11 11 12 9 15 6 15 16 54 5 30 2 78 7 59 8 25 4 7 6 5 12 1 36-13 48 1 18-4 12-11 24-30 6-5 12-4 18 1 36 13 18 9 15 12 10 12 21 36 14 16 12 11 36 26 84 87 18 16 43 30 71 38 30 14 24 5 42 4 42-3 30-5 54-13 78-26 36-15 48-17 108-56 18-13 36-36 12-8 36-16 17-15 17-24 26-48 45-54 17-30 7-24 3-24 -1-24 -7-30 -17-42 -25-48 -19-30 -21-25 -18-16 -24-16 -66-30 -22-15 -56-52 -54-44 -76-66 -24-24 -30-36 -14-15 -19-15 -19-12 -40-19 -60-21 -60-25 -30-10 -42-6 -72 2 -24-2 -24-5 -18-10 -12-12 -51-72 -7-12 -4-12 2-12 14-18 26-18z"/>
<path fill="#93ff00" fill-rule="evenodd" d="M2899 2612l24-6 80 0 25 7 70 29 86 26 30 16 59 54 43 32 42 26 30 11 30 3 30-2 30-7 54-19 18-4 18 0 24 2 102 20 78 6 36 10 24 12 24 15 24 20 19 19 33 36 32 41 30 42 19 31 12 24 9 24 6 24 3 24 -1 18 -3 12 -15 38 -4 22 -1 30 4 72 -1 24 -4 18 -6 19 -27 65 -43 120 -17 30 -45 61 -30 47 -10 24 -2 24 4 18 7 18 33 54 18 48 11 18 18 18 34 24 79 38 24 16 12 12 12 18 5 18 1 18 -7 30 -15 30 -30 48 -40 54 -35 42 -35 36 -30 24 -36 23 -36 18 -42 15 -78 23 -60 15 -48 4 -84-5 -36 0 -42 2 -30 5 -30 10 -34 16 -32 20 -28 22 -515 0 -114-72 -149-72 -40-23 -30-21 -33-28 -33-36 -36-48 -30-48 -22-48 -7-36 2-42 4-24 9-30 13-30 9-12 10-10 20-14 70-37 12-9 7-8 9-18 5-24 17-84 0-30 -3-18 -5-8 -45-28 -21-7 -24 1 -90 26 -30 1 -30-4 0-453 72 13 24 6 18 7 72 42 12 10 12 16 12 30 9 42 1 24 -1 72 8 126 7 48 6 11 6-1 12-11 26-41 10-11 10-7 14-5 42-3 12-4 12-10 24-33 12-9 6-3 12 0 24 7 30 11 18 13 10 12 22 36 15 18 47 36 60 60 26 28 24 21 36 25 72 39 30 13 24 6 36 3 42-2 30-5 60-14 78-26 38-16 46-16 102-53 24-16 36-36 12-8 36-16 18-15 15-20 29-54 45-54 17-30 7-24 3-30 -2-24 -7-24 -16-42 -21-42 -23-36 -23-28 -18-16 -24-16 -66-30 -19-12 -53-50 -56-46 -74-66 -24-24 -29-36 -17-18 -16-12 -24-15 -36-17 -66-23 -60-25 -24-8 -24-5 -24-2 -90 1 -24-5 -18-9 -12-12 -51-72 -7-12 -4-12 2-12 13-18 27-18z"/>
<path fill="#a2ff00" fill-rule="evenodd" d="M2907 2612l31-6 46 0 20 3 24 8 61 25 63 18 33 12 30 18 44 42 48 36 51 34 30 12 30 3 36-3 30-8 54-19 30-5 36 4 102 19 66 6 36 9 24 11 24 16 21 17 21 20 30 34 34 42 30 42 18 30 12 24 8 21 5 21 3 24 -3 30 -14 36 -5 24 0 30 4 78 -4 36 -5 18 -25 60 -46 128 -15 28 -45 62 -34 52 -9 24 -2 24 4 18 7 18 31 54 21 53 12 19 19 18 27 18 26 14 59 28 25 17 12 13 10 18 4 18 0 18 -9 30 -17 33 -30 46 -40 53 -36 42 -30 30 -31 24 -31 20 -36 17 -48 17 -90 26 -42 9 -48 4 -72-5 -42 0 -48 3 -36 7 -30 10 -37 18 -29 18 -30 24 -498 0 -120-76 -141-68 -45-25 -30-20 -32-27 -28-30 -32-42 -28-45 -13-27 -12-30 -5-24 -3-24 -1-24 3-30 7-30 10-24 12-18 13-12 85-49 12-10 6-8 9-23 15-67 12-27 13-20 9-18 16-66 7-18 7-12 8-9 12-7 42-6 12-4 12-10 24-37 12-10 12-3 24 3 30 10 18 11 13 14 22 36 15 18 16 14 30 22 60 59 36 38 24 19 30 20 72 39 30 14 36 7 48 1 42-5 54-13 90-29 42-17 54-20 40-23 62-31 18-14 30-32 12-8 36-16 18-15 20-28 28-50 42-50 9-14 9-18 6-24 3-30 -2-24 -6-24 -19-47 -22-43 -23-36 -21-25 -24-20 -18-12 -61-27 -23-15 -48-45 -64-54 -60-54 -29-30 -28-36 -17-18 -15-12 -21-13 -42-20 -72-25 -54-23 -30-10 -24-5 -24-2 -66 2 -24-1 -18-3 -17-8 -13-13 -51-71 -10-18 -1-12 4-12 17-18 23-13zM2218 3214l48 7 36 8 24 8 30 16 48 29 12 11 10 15 11 30 6 42 -4 78 2 120 -4 30 -3 9 -6 6 -12 4 -24-2 -18 2 -96 28 -30 1 -30-6z"/>
<path fill="#b2ff00" fill-rule="evenodd" d="M2916 2612l40-5 24 1 22 4 78 30 63 18 35 12 30 18 52 48 80 59 24 15 24 9 30 4 36-3 30-8 60-23 18-3 18-1 36 4 90 17 66 7 36 9 24 11 24 15 18 15 24 23 32 36 28 36 26 36 23 36 12 24 9 24 4 18 2 24 -3 24 -14 36 -5 24 0 30 5 84 -4 36 -76 204 -15 28 -42 58 -37 58 -10 24 -1 24 4 18 7 18 30 54 20 54 11 18 19 18 29 20 24 13 60 28 26 17 11 12 11 18 5 18 0 18 -9 30 -15 30 -35 53 -36 47 -32 38 -28 29 -30 24 -30 20 -36 17 -42 16 -66 20 -66 16 -48 5 -84-4 -42 0 -48 4 -36 7 -36 12 -40 20 -29 18 -30 24 -480 0 -129-82 -144-69 -66-39 -30-24 -25-26 -27-36 -27-42 -12-24 -12-30 -8-30 -6-30 -2-30 1-24 4-24 8-24 10-18 12-13 18-12 66-38 12-9 10-12 8-19 10-47 8-26 9-16 25-30 7-12 11-66 5-18 9-16 7-8 11-6 42-9 12-6 12-13 18-32 6-7 12-7 18-1 18 3 24 8 16 10 12 12 22 36 16 19 48 38 59 57 37 40 43 32 83 46 30 13 36 7 48 1 42-5 54-13 90-28 42-18 54-19 44-26 58-29 18-14 30-32 12-8 36-16 19-15 21-30 27-48 45-54 16-30 6-24 3-30 -2-24 -6-24 -19-48 -22-42 -23-36 -23-27 -18-17 -18-12 -18-10 -48-20 -24-16 -48-46 -60-50 -52-48 -29-30 -33-42 -16-18 -15-12 -23-15 -46-21 -71-24 -63-26 -24-8 -24-4 -24-2 -84 1 -19-3 -17-8 -16-16 -47-66 -10-18 -2-12 4-12 17-18 24-13zM2218 3220l54 8 30 6 24 9 72 41 18 16 9 14 9 24 4 30 -7 96 1 90 -2 18 -4 18 -7 12 -8 6 -43 11 -66 21 -24 6 -24 1 -36-7z"/>
<path fill="#c2fd00" fill-rule="evenodd" d="M2927 2612l35-2 36 5 73 27 77 22 30 12 24 14 51 48 93 70 24 15 18 6 30 4 36-3 36-9 54-23 24-5 18-1 36 4 90 16 66 8 36 10 18 8 24 16 20 16 24 24 34 39 30 39 25 36 17 28 10 20 8 24 4 18 2 24 -3 18 -15 39 -4 21 0 30 6 78 0 24 -3 18 -7 24 -22 54 -46 126 -16 30 -50 72 -30 48 -10 24 -1 24 4 18 7 18 29 54 19 54 15 24 19 17 29 19 85 41 24 16 12 14 8 13 5 18 0 18 -6 24 -18 36 -31 48 -36 48 -30 36 -30 31 -30 25 -30 19 -36 17 -48 18 -78 23 -48 10 -48 5 -72-4 -42 0 -54 4 -42 8 -36 12 -42 20 -36 22 -30 24 -460 0 -140-88 -138-66 -37-20 -35-22 -25-20 -23-24 -27-36 -21-36 -23-54 -10-36 -8-36 -2-24 0-24 4-24 6-18 11-18 16-16 78-47 17-15 11-24 12-54 8-21 12-16 22-23 8-12 6-24 5-48 5-18 7-12 7-8 12-7 36-8 12-6 12-13 19-36 5-6 12-9 18-2 18 3 18 5 18 9 12 12 23 36 19 23 48 37 56 54 40 43 42 31 84 47 30 13 36 7 48 1 42-6 60-14 90-29 36-16 60-21 42-26 54-26 20-16 28-30 12-9 36-15 21-18 18-24 30-54 46-54 15-30 6-24 3-24 -1-24 -5-24 -16-42 -17-36 -20-36 -20-28 -24-26 -24-19 -24-14 -51-21 -21-15 -42-41 -62-52 -45-42 -32-36 -37-48 -22-21 -22-15 -38-19 -90-31 -78-32 -24-5 -24-3 -78 2 -22-2 -21-6 -16-12 -52-72 -10-18 -2-12 3-12 17-18 31-16zM2218 3226l6 1 72 11 24 7 24 12 48 29 18 14 14 20 8 30 1 30 -8 78 -2 90 -3 18 -7 18 -9 11 -12 6 -84 28 -30 8 -24 1 -36-8z"/>
<path fill="#d0f800" fill-rule="evenodd" d="M2910 2624l34-6 18 1 18 3 72 24 90 26 24 10 21 14 44 42 68 54 24 24 29 39 12 5 60 8 24 0 18-3 18-5 18-8 59-36 19-6 18-2 24 0 48 7 114 19 30 8 21 10 21 14 37 34 55 66 28 40 18 30 10 20 6 18 5 30 -2 18 -15 36 -4 24 1 30 9 90 0 24 -4 22 -74 200 -16 30 -79 120 -12 30 -1 24 8 30 30 66 18 54 12 24 18 17 24 15 36 19 60 27 24 16 12 13 8 13 5 18 0 12 -5 24 -14 30 -30 46 -36 49 -36 43 -24 24 -24 19 -24 16 -42 19 -50 18 -40 12 -66 15 -48 5 -78-3 -42 1 -72 9 -42 8 -48 18 -54 25 -39 24 -28 24 -389 0 -66-39 -102-67 -138-67 -60-32 -18-12 -20-17 -15-18 -12-18 -12-24 -12-30 -38-108 -5-24 -1-18 1-18 3-12 9-17 12-13 72-49 18-17 11-24 12-48 7-19 12-17 25-24 11-17 5-19 5-54 8-22 6-7 9-7 33-13 16-11 13-18 19-41 6-8 6-3 12-3 24 1 18 6 9 6 9 10 20 32 16 18 47 36 59 54 50 54 36 26 90 50 30 12 42 8 42 0 36-5 72-18 90-28 42-19 48-15 18-10 27-19 57-27 18-15 30-33 12-7 30-13 12-8 12-12 22-29 32-54 45-54 14-30 7-30 1-30 -4-30 -8-24 -20-48 -26-48 -25-36 -26-29 -18-15 -18-11 -54-22 -18-11 -54-52 -54-47 -38-41 -70-109 -6-8 -12-8 -156-46 -66-27 -24-8 -48-7 -84 1 -18-4 -12-6 -12-12 -36-48 -12-18 -7-18 -1-12 3-6 9-12 14-9zM2218 3248l30 1 42 5 21 6 21 9 46 27 20 14 13 16 5 12 3 12 0 30 -12 72 -9 72 -4 18 -5 12 -10 12 -20 12 -47 18 -34 10 -24 1 -18-5 -18-7z"/>
<path fill="#dff300" fill-rule="evenodd" d="M2931 2630l25 0 18 3 54 18 81 21 44 18 16 12 39 38 54 46 10 12 3 6 2 6 -2 6 -7 3 -18 1 -52-10 -26-9 -48-20 -36-9 -48-5 -66-1 -12-2 -12-5 -18-16 -24-31 -15-22 -7-18 -1-12 6-12 17-11zM3606 2828l22-2 24 0 60 8 84 16 24 8 18 9 21 15 19 18 50 59 43 61 16 30 6 18 3 12 0 18 -3 12 -12 30 -4 24 2 30 13 102 0 30 -5 24 -76 198 -16 30 -55 84 -22 36 -10 24 -3 24 5 30 24 60 17 60 13 30 10 16 12 12 18 10 123 58 15 12 12 18 4 12 0 18 -2 12 -7 18 -25 43 -42 59 -36 44 -30 29 -36 25 -36 16 -78 25 -84 16 -42 3 -60-3 -42 2 -60 8 -72 14 -56 19 -83 36 -40 24 -34 30 -285 0 -39-18 -51-30 -132-86 -139-70 -41-23 -20-13 -19-18 -13-18 -32-68 -24-58 -12-36 -4-24 2-18 5-12 10-12 59-52 12-13 6-10 7-15 13-48 7-18 12-18 27-28 8-14 5-18 6-54 3-12 6-12 14-12 36-19 12-11 8-12 22-42 12-13 18-6 12 1 6 3 40 45 50 36 33 30 37 30 44 49 18 17 18 12 114 61 30 9 42 6 30 0 24-3 90-22 84-25 48-22 42-10 18-10 33-26 39-16 18-11 18-15 26-30 10-7 30-14 12-7 26-26 20-30 25-42 41-48 9-12 9-18 8-30 3-30 -2-30 -10-36 -15-38 -20-40 -25-42 -21-28 -24-26 -24-20 -24-12 -42-15 -24-19 -40-42 -56-54 -12-18 -5-12 -9-36 2-18 6-7 12-6 36-11 18-10 18-14 40-42 10-6zM2218 3271l12-1 42 1 24 4 18 6 36 20 36 25 11 12 6 18 0 18 -5 28 -24 86 -12 28 -12 16 -21 16 -27 14 -24 8 -18 1 -12-2 -17-9 -13-10z"/>
<path fill="#efed00" fill-rule="evenodd" d="M2926 2648l18-3 18 2 120 30 38 13 20 12 30 30 24 30 6 12 -2 6 -18 0 -44-13 -36-7 -48-5 -60-4 -24-7 -12-7 -18-17 -14-18 -10-18 -3-12 2-12 3-6zM3641 2846l23-2 30 0 54 8 54 12 18 7 18 10 30 25 42 50 42 64 13 24 6 18 2 18 -13 36 -2 24 21 144 0 30 -5 30 -10 31 -45 107 -26 72 -13 24 -56 84 -21 36 -10 24 -3 24 5 36 17 54 5 54 7 18 32 52 8 8 16 10 126 51 18 11 14 18 3 12 0 12 -2 12 -7 18 -32 53 -45 61 -32 36 -25 21 -30 18 -42 16 -48 10 -82 7 -44 2 -66-1 -36 2 -36 7 -72 17 -66 19 -120 47 -42 20 -48 30 -18 9 -18 5 -24 1 -54-4 -65-10 -43-10 -36-14 -36-18 -48-28 -108-71 -121-63 -40-24 -31-22 -18-17 -15-21 -14-30 -11-30 -6-30 -1-24 3-30 5-24 6-18 22-48 17-66 7-18 10-18 25-25 12-18 6-23 6-40 9-26 16-18 35-24 42-33 18-7 18-2 60 19 18 11 68 54 52 58 18 15 24 15 48 23 38 21 34 14 42 9 48 2 48-6 138-33 24-8 39-20 39-9 18-10 36-30 42-19 24-15 12-10 28-33 44-25 19-17 17-18 17-24 29-48 42-48 14-24 7-24 4-30 -1-36 -6-30 -15-42 -19-43 -26-47 -22-30 -30-35 -30-27 -24-14 -36-12 -16-14 -14-18 -37-60 -8-18 -3-12 0-12 6-12 74-96 16-15zM2244 3296l22-2 18 0 12 2 18 7 18 11 28 24 10 12 4 12 0 12 -5 18 -19 32 -54 72 -12 12 -12 5 -12-1 -6-3 -8-9 -11-18 -17-40 0-139z"/>
<path fill="#f5e000" fill-rule="evenodd" d="M2972 2690l8-4 18-1 46 5 21 6 12 6 15 12 0 6 -8 6 -14 1 -24-2 -30-5 -19-6 -13-6 -8-6 -3-6zM3682 2870l36-4 42 4 42 10 30 15 14 11 17 18 30 42 23 42 9 30 1 42 2 24 22 96 8 48 3 48 -4 36 -5 21 -12 31 -27 50 -13 30 -20 68 -11 28 -19 31 -61 83 -16 30 -5 18 -3 18 0 72 -6 18 -22 48 -3 18 1 12 7 11 48 35 34 38 14 11 72 35 18 5 36 6 24 7 12 6 7 8 3 12 0 6 -3 12 -8 18 -34 54 -40 54 -23 24 -22 17 -30 13 -18 2 -18-1 -30-9 -18-3 -24 2 -60 10 -24 0 -18-3 -36-15 -12-1 -24 5 -78 26 -30 6 -18 1 -24-3 -36-16 -18-1 -21 6 -18 12 -11 12 -18 30 -10 13 -20 17 -20 12 -32 14 -42 13 -30 5 -30 1 -54-5 -54-9 -42-10 -36-13 -36-18 -36-22 -96-67 -108-49 -42-24 -27-20 -18-18 -11-18 -10-24 -8-30 -2-24 0-24 3-90 3-30 6-18 6-12 29-30 11-14 18-41 12-19 36-37 30-19 72-28 12-4 18 1 24 10 41 25 43 49 30 25 30 17 90 43 42 13 42 7 60 2 66-4 84-9 22-5 44-20 42-23 26-17 46-37 66-35 13-12 26-30 54-42 36-36 13-18 26-47 12-14 25-23 17-24 7-18 5-18 2-24 0-24 -5-36 -12-42 -19-48 -26-52 -24-39 -24-32 -24-27 -43-42 -16-18 -17-30 -13-36 -3-18 0-18 4-18 10-18 36-48 18-12z"/>
<path fill="#fcd200" fill-rule="evenodd" d="M3745 2894l27-1 30 8 12 6 14 11 19 24 17 36 14 60 32 86 12 40 6 33 3 39 -1 66 -4 30 -6 18 -10 16 -30 29 -12 7 -6-1 -12-15 -38-96 -17-36 -26-48 -45-69 -60-75 -10-18 -8-24 -2-18 1-18 7-16 12-17 24-27 13-12 23-12zM3815 3542l17-6 1 12 -1 6 -6 8 -12 13 -12 8 -18 11 -12 2 0-12 6-14 10-10zM3754 3623l4 3 1 6 -4 36 -22 102 -8 66 -25 84 -2 18 0 12 6 12 8 8 42 25 37 33 29 18 12 10 9 14 4 24 -2 18 -5 18 -7 18 -10 18 -13 16 -12 10 -15 10 -21 10 -30 10 -24 4 -18 0 -36-9 -18 0 -30 9 -66 26 -42 9 -24-2 -26-9 -22-3 -30 0 -30 5 -42 12 -57 22 -35 18 -34 22 -24 10 -30 5 -48-2 -48-6 -48-9 -30-9 -30-12 -59-35 -67-50 -18-12 -24-10 -72-22 -30-13 -30-15 -18-12 -10-10 -9-12 -7-12 -5-18 -5-24 -6-66 3-36 9-24 12-15 30-29 54-49 67-45 55-30 10-3 12 1 18 12 45 38 20 12 43 21 65 27 55 18 48 9 90 6 36 0 96-7 30-7 36-17 36-22 90-64 12-7 36-11 12-6 18-17 37-49 12-12 23-18z"/>
<path fill="#ffc200" fill-rule="evenodd" d="M3759 2942l13-5 12-1 12 6 6 6 6 12 17 48 46 90 15 36 4 24 -1 12 -3 18 -12 36 -6 11 -6 8 -9 5 -9 1 -12-5 -24-24 -21-32 -46-78 -41-60 -8-18 -1-18 9-18 34-36zM3703 3692l9 0 6 7 1 11 -3 18 -18 60 -3 24 1 48 -7 30 -20 66 -1 12 1 12 6 12 13 12 48 27 60 44 9 13 3 12 -4 24 -5 12 -9 16 -18 17 -24 13 -18 4 -12 0 -12-3 -24-11 -18 0 -24 8 -66 35 -30 11 -24 0 -36-11 -36 1 -108 18 -174 47 -30 3 -36-3 -78-12 -30-9 -24-9 -24-14 -25-17 -71-60 -18-13 -24-9 -78-14 -48-15 -18-9 -12-9 -12-13 -7-14 -4-18 -2-24 2-18 7-18 24-36 34-42 18-19 18-10 12-2 18 3 54 21 18 3 18-7 48-34 12-5 12 0 36 8 90 29 72 15 108 9 102 0 30-3 24-6 24-12 30-19 48-35 48-28 12-4 12-1 36 5 12-2 12-6 12-10 15-22 30-60 8-12 13-9z"/>
<path fill="#ffb300" fill-rule="evenodd" d="M3517 3842l21-4 42 12 46 4 20 7 13 11 6 12 1 12 -3 24 -13 48 -1 18 2 12 7 12 18 18 38 24 28 24 24 14 10 10 4 12 -2 12 -5 12 -11 12 -14 7 -12 1 -12-3 -24-17 -18-2 -12 3 -18 7 -66 36 -24 9 -18 2 -54-1 -72 10 -30 1 -18-5 -9-6 -9-12 -16-36 -8-12 -6-6 -6-3 -12-3 -18 6 -11 12 -4 12 -1 30 -2 12 -7 12 -15 12 -25 12 -31 8 -24 3 -30-1 -58-10 -50-16 -36-18 -35-26 -19-19 -14-23 -6-24 -3-42 -3-12 -10-19 -18-15 -12-3 -12 4 -48 40 -12 6 -18 6 -30 0 -48-6 -15-7 -10-12 -1-12 4-18 20-42 28-42 10-9 12-4 12 0 18 5 14 8 40 28 18 6 12-2 12-10 48-53 12-6 12-2 18 1 66 16 90 17 90 10 60 1 72 7 24-1 12-3 12-6 84-67 24-14z"/>
<path fill="#ffa300" fill-rule="evenodd" d="M3502 3866l18-2 12 3 66 30 18 11 12 11 6 11 1 8 -2 48 3 24 5 12 28 42 5 12 1 6 -7 12 -13 12 -33 22 -48 24 -48 15 -42 7 -36 4 -24-1 -12-4 -16-13 -29-42 -18-18 -27-15 -24-9 -18-5 -18 1 -12 3 -90 44 -18 6 -18 2 -30-1 -30-3 -24-4 -12-4 -12-7 -14-14 -50-78 -9-24 3-18 10-18 13-18 7-6 10-5 24-2 54 2 48 9 48 6 60 16 44 4 46 12 30 0 18-4 24-8 18-11 78-72 12-8z"/>
<path fill="#ff9500" fill-rule="evenodd" d="M3491 3896l11-4 18 4 60 36 18 12 12 12 6 17 5 43 12 36 2 18 -4 12 -13 18 -21 18 -23 14 -30 13 -30 10 -30 6 -24 0 -18-4 -12-7 -50-56 -39-30 -14-18 -3-18 4-12 11-12 67-40 54-45z"/>
<path fill="#ff8300" fill-rule="evenodd" d="M3501 3908l19 4 30 16 36 22 18 17 6 15 6 39 8 31 1 18 -8 18 -10 12 -15 13 -28 17 -32 14 -24 8 -24 3 -18 0 -18-6 -12-8 -48-52 -37-31 -11-18 -1-12 1-6 8-12 14-12 44-29 60-45 24-13z"/>
<path fill="#ff7400" fill-rule="evenodd" d="M3492 3920l16 0 18 6 42 23 27 19 8 12 4 12 11 60 1 12 -6 18 -8 12 -12 12 -19 13 -24 14 -30 11 -24 6 -18 1 -12-2 -12-4 -18-14 -40-43 -38-36 -7-12 -1-12 4-12 18-18 88-64 18-9z"/>
<path fill="#ff6400" fill-rule="evenodd" d="M3478 3932l18-4 12 1 12 4 42 21 28 20 8 11 5 13 9 60 -3 18 -7 12 -10 12 -15 12 -21 13 -24 11 -24 8 -18 2 -24-3 -12-6 -9-7 -71-72 -9-12 -4-12 0-12 3-6 16-18 68-50z"/>
<path fill="#ff5400" fill-rule="evenodd" d="M3481 3938l21-1 18 5 36 17 30 20 6 7 5 12 9 54 -1 18 -5 12 -9 12 -13 12 -17 12 -23 12 -24 8 -18 3 -24-2 -12-6 -12-9 -68-72 -7-12 -3-12 1-6 6-12 26-24 51-37z"/>
<path fill="#ff4400" fill-rule="evenodd" d="M3485 3944l17 1 24 7 30 14 24 16 8 10 6 12 7 48 -2 18 -5 12 -9 12 -14 12 -18 12 -21 10 -24 8 -12 1 -12-1 -12-3 -12-7 -12-10 -58-64 -7-12 -3-12 3-12 3-6 10-12 14-12 44-31 18-8z"/>
<path fill="#ff3500" fill-rule="evenodd" d="M3463 3956l15-5 12-1 18 3 18 6 24 11 18 10 12 10 8 14 4 12 4 30 -1 18 -4 12 -7 12 -16 15 -18 12 -18 9 -18 6 -18 2 -16-2 -13-6 -13-10 -20-20 -30-36 -12-18 -2-18 8-18 26-24 18-13z"/>
<path fill="#ff2500" fill-rule="evenodd" d="M3463 3962l15-4 12-1 30 6 24 10 18 10 12 10 9 11 4 12 3 18 1 18 -3 18 -6 12 -10 12 -24 18 -22 10 -18 5 -18 0 -12-4 -18-11 -18-18 -21-24 -17-24 -4-12 -1-12 1-6 6-12 11-12 15-12 16-11z"/>
<path fill="#ff1500" fill-rule="evenodd" d="M3462 3968l16-4 12-1 30 6 36 17 12 9 8 9 6 12 3 12 1 18 -2 18 -5 12 -8 12 -21 18 -18 9 -18 6 -18 1 -12-3 -14-7 -16-13 -16-17 -18-24 -12-24 0-12 3-12 8-12 13-12 16-11z"/>
<path fill="#ff0100" fill-rule="evenodd" d="M3463 3974l15-4 12 0 30 5 18 8 18 9 12 10 6 8 5 12 2 12 0 18 -3 12 -8 18 -19 18 -13 8 -18 7 -18 2 -12-2 -12-5 -18-13 -15-15 -14-18 -13-24 -2-12 1-12 6-12 11-12 14-11z"/>
<path fill="#f50000" fill-rule="evenodd" d="M3490 3979l18 2 30 11 20 12 6 6 6 12 3 12 0 12 -1 12 -5 12 -13 18 -22 14 -12 4 -18 2 -12-2 -12-6 -16-12 -11-12 -13-18 -6-12 -3-12 0-12 8-18 17-15 12-6z"/>
<path fill="#e50000" fill-rule="evenodd" d="M3490 4010l12-1 18 3 12 6 11 10 4 12 -1 12 -6 12 -8 8 -12 6 -18 1 -18-8 -12-13 -6-18 1-12 10-12z"/>
</g>
<circle cx="1582.7" cy="1776.5" r="54.1" fill="#808080"/>
<defs><pattern id="pps" width="83" height="71" patternUnits="userSpaceOnUse" patternTransform="rotate(25)"><path d="M6.0 54.8h3.3M56.4 68.5h3.6M39.1 6.0h2.8M39.0 47.9h4.4M29.7 5.5h2.9M70.9 15.7h3.4M72.6 2.7h3.8M74.1 16.9h3.6M70.9 10.2h3.6M58.5 47.2h3.4M16.0 34.9h3.1M37.2 26.2h4.5M60.0 22.7h3.7M21.5 32.2h3.1M51.3 26.6h3.4M56.1 29.5h4.7M14.1 52.1h3.3M33.3 44.8h3.6M32.4 1.1h2.3M55.3 37.2h4.1M74.5 48.1h2.2M24.1 41.9h2.7M75.3 66.2h4.5M36.8 59.1h2.4M24.1 32.9h4.2M37.9 10.4h3.0M25.3 21.7h2.5M32.4 31.9h4.3M62.1 37.0h3.4M60.7 62.2h4.0M62.4 65.8h2.1M68.3 20.1h3.4M62.1 50.5h2.4M51.4 5.8h3.1M63.4 30.5h3.8M56.8 57.7h4.3M0.6 30.0h3.4M4.3 38.4h3.8M64.6 66.0h2.4M18.0 46.5h2.4M17.5 40.7h2.5M61.0 60.1h2.1M41.5 56.0h4.9M21.4 12.7h4.6M70.9 14.6h3.3M56.1 59.3h2.5" stroke="#858585" stroke-width="1.6" fill="none"/></pattern><radialGradient id="rgs" gradientUnits="userSpaceOnUse" cx="1582.7" cy="1776.5" r="463.7"><stop offset="0" stop-color="#fff" stop-opacity="0.45"/><stop offset="0.30" stop-color="#fff" stop-opacity="0.5"/><stop offset="0.8" stop-color="#fff" stop-opacity="1"/><stop offset="1" stop-color="#fff" stop-opacity="1"/></radialGradient><mask id="mps" maskUnits="userSpaceOnUse" x="1116" y="1310" width="931" height="931"><circle cx="1582.7" cy="1776.5" r="464.7" fill="url(#rgs)"/></mask></defs><g mask="url(#mps)"><circle cx="1582.7" cy="1776.5" r="464.7" fill="url(#pps)"/></g>
<path fill="none" stroke="#000" stroke-width="1.9" stroke-linejoin="round" stroke-linecap="round" d="M1173.8 1508.0L1179.0 1515.4L1184.3 1522.7L1184.0 1537.0L1178.8 1548.1L1173.9 1559.2L1181.2 1564.0L1188.6 1568.8L1191.0 1575.3L1185.8 1582.1L1180.8 1589.2L1191.8 1594.3L1200.9 1587.1L1201.6 1594.8L1205.2 1601.4L1217.6 1610.2L1218.8 1618.4L1220.2 1626.4L1225.7 1628.7L1231.0 1624.8L1236.5 1621.0L1241.5 1624.0L1246.1 1631.6L1250.8 1639.1L1257.3 1648.4L1267.8 1655.7L1275.2 1654.8L1272.9 1660.8L1274.7 1669.9L1278.2 1671.1L1283.7 1675.4L1278.1 1680.5L1271.9 1684.5L1264.6 1689.5L1256.0 1689.0L1241.5 1687.7L1227.4 1684.7L1215.0 1674.6L1209.3 1680.7L1203.3 1672.8L1193.2 1661.2L1184.7 1654.9L1170.7 1649.0L1165.7 1648.3L1166.6 1655.7L1157.9 1652.8L1149.2 1649.8L1147.9 1646.9L1134.7 1643.9L1120.4 1637.0M1277.4 1656.9L1284.4 1657.3L1291.9 1656.1L1298.3 1652.9L1303.1 1646.8L1304.5 1652.7L1302.5 1658.5L1300.6 1664.3L1299.2 1670.6L1295.2 1674.8L1291.3 1679.1L1285.1 1679.9L1286.0 1674.4L1282.0 1668.9L1275.6 1667.2L1275.1 1660.3L1277.4 1656.9M1288.8 1615.0L1288.1 1606.5L1292.7 1598.8L1297.6 1596.3L1299.6 1603.8L1296.9 1610.2L1291.8 1615.3L1288.8 1615.0M1389.0 1654.8L1392.2 1656.2L1392.5 1661.0L1392.8 1665.8L1395.9 1673.5L1399.1 1680.9L1404.6 1686.4L1410.1 1692.0L1415.6 1697.4L1423.2 1698.7L1430.7 1700.2L1441.7 1702.9L1452.7 1707.0L1462.3 1711.1L1464.0 1714.9L1465.9 1718.6L1467.8 1722.1L1468.3 1725.7L1469.0 1729.1L1469.7 1732.5L1470.5 1735.9L1472.6 1738.7L1474.6 1741.4L1474.2 1744.1L1473.8 1746.9L1473.5 1749.6L1473.3 1752.4L1478.1 1751.6L1482.9 1751.0L1486.3 1753.8L1489.7 1756.5L1499.4 1756.5L1502.1 1755.3L1504.9 1754.2L1507.6 1753.2L1510.4 1752.4L1512.4 1751.2L1514.5 1750.1L1516.5 1749.1L1518.6 1748.2L1520.4 1747.4L1522.3 1746.6L1524.1 1745.9L1525.9 1745.2L1527.8 1744.6L1529.6 1744.1L1533.7 1746.9L1533.4 1745.1L1533.1 1743.3L1532.8 1741.5L1532.6 1739.7L1532.5 1737.8L1532.4 1735.9L1533.0 1734.5L1533.6 1733.1L1534.2 1731.7L1534.9 1730.3L1535.7 1729.0L1536.5 1727.6L1533.7 1722.1L1534.2 1719.9L1534.8 1717.6L1535.4 1715.3L1536.1 1713.0L1536.9 1710.7L1537.8 1708.4L1539.1 1706.5L1540.5 1704.7L1542.0 1702.9L1536.5 1697.4L1534.7 1698.0L1533.0 1698.7L1531.3 1699.4L1529.6 1700.2L1524.1 1694.6L1524.7 1691.4L1525.4 1688.1L1526.2 1684.8L1527.2 1681.5L1528.2 1678.2L1530.0 1675.9L1531.9 1673.7L1533.8 1671.5L1535.8 1669.4L1537.9 1667.2L1539.5 1663.5L1541.4 1659.9L1543.4 1656.2L1544.6 1650.8L1546.1 1645.3L1543.3 1639.8L1546.0 1636.3L1548.8 1632.9L1551.5 1627.3L1554.3 1621.8L1557.1 1621.3L1559.8 1620.9L1562.6 1620.5L1563.9 1616.3L1567.2 1617.2L1570.4 1618.1L1573.6 1619.1L1576.8 1618.6L1580.0 1618.1L1583.2 1617.8L1587.2 1616.3L1591.4 1614.9L1595.6 1613.6L1598.7 1611.7L1601.9 1609.9L1605.1 1608.1L1607.9 1609.5L1610.6 1610.9L1614.1 1610.9L1617.5 1610.9L1620.3 1612.7L1623.1 1614.5L1625.8 1616.4L1629.4 1615.4L1633.0 1614.5L1636.7 1613.7L1639.5 1615.4L1642.3 1617.3L1645.0 1619.1L1646.4 1621.9L1647.7 1624.6L1651.4 1625.4L1655.1 1626.4L1658.7 1627.4L1662.4 1627.7L1666.0 1628.2L1669.7 1628.7L1674.7 1627.2L1679.7 1625.9L1684.8 1624.6L1686.3 1628.7L1687.6 1632.9L1689.7 1637.0L1691.7 1641.1L1696.2 1641.4L1700.8 1641.9L1705.4 1642.5L1709.5 1643.7L1713.7 1645.0L1717.8 1646.4L1721.9 1647.9L1727.4 1648.6L1732.9 1649.3L1736.6 1651.1L1740.3 1652.9L1743.9 1654.8L1748.0 1657.5L1752.1 1660.3L1752.9 1664.4L1753.5 1668.6L1751.6 1674.8L1749.4 1680.9L1750.8 1685.0L1752.2 1689.2L1755.6 1691.9L1759.0 1694.7L1759.5 1698.3L1760.0 1702.0L1760.4 1705.7L1752.2 1713.9L1743.9 1718.0L1737.1 1716.6L1735.7 1719.4L1727.4 1720.8L1726.1 1724.9L1729.5 1726.2L1732.9 1727.6L1739.7 1728.9L1746.6 1730.4L1748.5 1733.1L1750.3 1735.8L1752.1 1738.6L1757.6 1740.6L1763.1 1742.7L1767.3 1746.1L1771.4 1749.6L1774.2 1753.7L1776.9 1757.8L1777.9 1761.5L1778.8 1765.1L1779.6 1768.8L1786.5 1771.6L1779.6 1774.4L1779.7 1778.9L1779.7 1783.5L1779.6 1788.1L1780.6 1791.7L1781.5 1795.4L1782.4 1799.1L1783.5 1804.5L1784.4 1810.0L1785.1 1815.5L1784.5 1819.7L1783.7 1823.8L1780.3 1827.3L1776.9 1830.7L1774.2 1834.1L1771.4 1837.5L1772.0 1842.1L1772.4 1846.6L1772.8 1851.3L1772.1 1855.4L1771.3 1859.5L1766.6 1861.6L1761.8 1863.6L1758.7 1867.9L1755.4 1872.0L1752.1 1876.0L1752.9 1880.8L1753.5 1885.6L1751.2 1889.4L1748.9 1893.2L1746.4 1897.0L1743.9 1900.7L1741.2 1905.3L1738.5 1909.9L1735.6 1914.4L1732.3 1918.6L1728.8 1922.7L1731.6 1927.7L1726.0 1925.9L1720.5 1924.0L1716.4 1926.0L1712.3 1927.8L1708.2 1929.6L1704.9 1932.4L1701.4 1935.2L1698.0 1937.9L1694.4 1940.5L1688.9 1938.5L1683.4 1936.4L1678.9 1937.4L1674.3 1938.4L1669.7 1939.2L1665.6 1940.6L1661.5 1941.9L1657.3 1941.4L1653.1 1940.7L1649.0 1940.0L1645.0 1939.2L1640.3 1937.5L1635.7 1935.7L1631.3 1933.7L1627.6 1934.7L1624.0 1935.6L1620.3 1936.4L1617.0 1935.6L1613.8 1934.7L1610.7 1933.7L1606.5 1928.2L1607.9 1917.2L1610.8 1913.6L1613.6 1909.9L1616.1 1906.2L1615.6 1896.5L1614.8 1886.9L1611.2 1881.5L1607.9 1876.0L1605.8 1873.3L1603.8 1870.5L1605.6 1868.5L1607.4 1866.5L1609.1 1864.4L1610.7 1862.3L1611.3 1858.6L1611.7 1854.9L1612.0 1851.3L1607.9 1843.0L1605.5 1840.8L1603.2 1838.5L1601.0 1836.2L1599.3 1835.2L1597.6 1834.1L1595.9 1833.0L1594.3 1831.9L1592.8 1830.7L1591.3 1828.9L1590.0 1827.0L1588.7 1825.2L1587.6 1825.7L1586.5 1826.2L1585.3 1826.6L1584.2 1827.1L1583.0 1827.5L1581.8 1827.9L1580.7 1827.4L1579.5 1826.9L1578.4 1826.3L1577.4 1825.8L1576.3 1825.2L1575.0 1826.2L1573.6 1827.1L1572.2 1827.9L1571.3 1826.1L1570.5 1824.3L1569.8 1822.4L1569.1 1820.6L1568.6 1818.7L1568.1 1816.9L1567.1 1816.9L1566.0 1816.9L1565.0 1816.9L1564.0 1816.9L1563.6 1815.5L1563.3 1814.2L1563.0 1812.8L1562.7 1811.4L1562.6 1810.1L1560.8 1811.0L1559.0 1811.9L1557.1 1812.8L1557.2 1814.4L1557.4 1816.1L1557.7 1817.7L1558.0 1819.4L1558.4 1821.1L1554.3 1830.7L1553.7 1835.2L1553.2 1839.7L1553.0 1844.4L1551.2 1843.8L1549.5 1843.1L1547.8 1842.4L1546.1 1841.7L1542.7 1843.8L1539.3 1845.7L1536.5 1851.2L1537.3 1853.5L1538.2 1855.8L1539.2 1858.1L1541.0 1860.0L1542.8 1861.8L1544.7 1863.6L1544.6 1869.8L1544.7 1876.0L1542.0 1881.5L1539.9 1879.5L1537.8 1877.4L1536.0 1875.6L1534.1 1873.7L1532.4 1871.9L1529.0 1872.7L1525.6 1873.5L1522.1 1874.1L1518.6 1874.6L1515.9 1880.1L1513.1 1879.5L1510.4 1878.8L1507.6 1877.4L1504.9 1876.0L1502.1 1874.6L1499.4 1873.2L1496.2 1872.4L1493.0 1871.5L1489.8 1870.5L1487.3 1868.5L1484.9 1866.5L1482.5 1864.4L1480.1 1862.3L1478.0 1859.9L1475.9 1857.6L1473.9 1855.1L1471.9 1852.7L1470.0 1850.4L1468.2 1848.1L1466.4 1845.7L1465.0 1843.0L1463.6 1840.3L1462.3 1837.5L1460.9 1835.3L1459.5 1833.0L1458.2 1830.6L1459.0 1827.4L1460.0 1824.2L1461.0 1821.0L1460.0 1818.3L1459.0 1815.6L1458.2 1812.8L1458.4 1810.0L1458.7 1807.3L1459.1 1804.5L1459.5 1801.8L1454.1 1801.8L1450.6 1805.2L1447.2 1808.7L1439.0 1810.0L1439.4 1807.3L1439.8 1804.5L1440.3 1801.8L1441.6 1798.1L1443.0 1794.4L1444.4 1790.8L1442.6 1787.8L1440.9 1784.8L1439.2 1781.6L1437.6 1778.4L1434.8 1777.1L1436.4 1773.9L1438.1 1770.8L1439.9 1767.7L1441.7 1764.7L1442.4 1761.6L1443.1 1758.6L1444.0 1755.6L1444.8 1752.6L1445.8 1749.6L1447.1 1746.4L1448.5 1743.1L1449.9 1740.0L1448.7 1736.3L1447.7 1732.6L1446.7 1728.7L1445.8 1724.9L1440.3 1722.1L1439.3 1725.3L1438.4 1728.5L1437.6 1731.8L1435.5 1733.8L1433.5 1735.9L1431.4 1732.5L1429.3 1729.0L1425.9 1725.0L1422.4 1720.8L1414.2 1720.8L1412.9 1717.5L1410.7 1713.7L1408.7 1709.8L1405.2 1705.0L1401.9 1700.2L1398.4 1694.7L1395.0 1689.2L1392.9 1685.1L1390.9 1680.9L1389.2 1675.5L1387.6 1670.0L1387.4 1664.5L1387.3 1658.9L1389.0 1654.8M1507.6 1709.8L1509.0 1708.4L1510.4 1707.0L1511.8 1705.7L1518.6 1709.8L1521.0 1715.4L1523.6 1720.8L1523.7 1723.6L1523.9 1726.3L1524.1 1729.0L1522.3 1729.9L1520.4 1730.8L1518.6 1731.7L1515.8 1728.4L1513.1 1724.9L1511.0 1720.8L1509.0 1716.6L1508.3 1713.2L1507.6 1709.8M1509.0 1743.5L1510.0 1741.9L1511.0 1740.3L1512.0 1738.8L1513.1 1737.2L1515.1 1739.2L1513.8 1740.5L1512.6 1741.8L1511.5 1743.2L1510.3 1744.6L1509.0 1743.5M1430.7 1796.3L1434.8 1794.9L1434.3 1798.7L1434.0 1802.4L1433.7 1806.2L1433.5 1810.1L1430.7 1810.0L1430.6 1806.6L1430.6 1803.1L1430.6 1799.7L1430.7 1796.3M1551.6 1862.2L1553.2 1862.0L1554.9 1861.7L1554.9 1867.2L1555.2 1872.7L1553.7 1873.0L1552.2 1873.2L1551.8 1867.7L1551.6 1862.2M1412.9 1717.5L1422.5 1716.6L1434.9 1718.0L1440.3 1722.1M1826.0 2199.7L1821.5 2190.2L1830.6 2181.1L1835.9 2174.1L1837.7 2160.5L1847.2 2161.5L1853.8 2159.5L1858.0 2148.7L1867.7 2148.0L1873.5 2143.5L1883.1 2141.0L1893.6 2143.2M1839.5 2139.3L1832.6 2140.9L1825.8 2142.5L1820.5 2147.7L1815.1 2152.9L1808.2 2141.7L1804.7 2132.0L1809.9 2123.9L1815.3 2121.5L1827.6 2129.0L1836.5 2135.1L1839.5 2139.3M1625.7 2258.6L1621.0 2263.2L1614.2 2252.1L1604.9 2248.4L1595.1 2251.9L1598.9 2241.3L1599.5 2236.1L1607.4 2232.7L1605.7 2231.7L1611.1 2217.0L1618.3 2210.3L1622.4 2213.1L1621.3 2218.3L1622.1 2227.5L1628.7 2230.0L1632.2 2232.7L1630.0 2235.0L1626.6 2241.6L1625.4 2245.9L1628.9 2257.2L1632.1 2263.3M1639.4 2219.4L1633.8 2211.9L1626.5 2215.7L1625.8 2208.6L1629.5 2201.1L1633.8 2193.5L1632.3 2186.7L1637.9 2184.9L1644.2 2179.0L1645.3 2171.8L1646.2 2164.6L1651.2 2157.8L1660.8 2154.0L1666.9 2156.7L1672.9 2155.3L1672.9 2164.4L1668.3 2172.5L1663.9 2179.5L1661.3 2181.1L1655.3 2188.3L1649.0 2195.5L1648.0 2198.7L1646.1 2206.1L1642.8 2215.9L1639.4 2219.4"/>

</g>
<g clip-path="url(#cs)" stroke="#000" stroke-width="2.1" fill="none"><circle cx="1582.7" cy="1776.5" r="127.5"/><circle cx="1582.7" cy="1776.5" r="259.5"/><circle cx="1582.7" cy="1776.5" r="401.2"/><path d="M1582.7 2240.2L1582.7 1312.8M1181.1 2008.4L1984.2 1544.7M1181.1 1544.7L1984.2 2008.4"/></g>
<circle cx="1582.7" cy="1776.5" r="2.2" fill="#fff"/>
<circle cx="1582.7" cy="1776.5" r="463.7" fill="none" stroke="#000" stroke-width="3.3"/>
<rect x="558.0" y="1023.9" width="1010.0" height="36.3" fill="url(#cbg)"/>
<path d="M558.0 1023.9L507.6 1042.0L558.0 1060.2z" fill="#c0c0c0"/>
<path d="M1568.0 1023.9L1618.4 1042.0L1568.0 1060.2z" fill="#404040"/>
<path d="M558.0 1023.9L1568.0 1023.9L1618.4 1042.0L1568.0 1060.2L558.0 1060.2L507.6 1042.0z" fill="none" stroke="#000" stroke-width="3.3" stroke-linejoin="miter"/>
<path d="M558.0 1060.2V1085.7M760.0 1060.2V1085.7M962.0 1060.2V1085.7M1164.0 1060.2V1085.7M1366.0 1060.2V1085.7M1568.0 1060.2V1085.7" stroke="#000" stroke-width="3.3" fill="none"/>
<text x="918.4 950.9 982.0 1014.3 1045.4 1064.4 1096.0 1127.0 1145.7 1177.7" y="81.8" font-size="53.0">2025-09-19</text>
<text x="513.5 539.5 553.2 579.7" y="1134.0" font-size="44.2">0.00</text>
<text x="715.5 741.5 755.2 781.6" y="1134.0" font-size="44.2">0.05</text>
<text x="917.5 943.5 957.0 983.7" y="1134.0" font-size="44.2">0.10</text>
<text x="1119.5 1145.5 1159.0 1185.6" y="1134.0" font-size="44.2">0.15</text>
<text x="1321.5 1347.5 1360.7 1387.7" y="1134.0" font-size="44.2">0.20</text>
<text x="1523.5 1549.5 1562.7 1589.6" y="1134.0" font-size="44.2">0.25</text>
<text x="791.9 825.0 857.4 872.3 899.2 912.5 940.0 963.9 987.4 1013.3 1024.8 1052.4 1092.0 1131.0 1148.9 1187.9 1213.8 1239.8" y="1192.6 1189.1 1192.6 1192.6 1192.6 1192.6 1192.6 1192.6 1192.6 1192.6 1192.6 1192.6 1192.6 1192.6 1192.6 1192.6 1192.6 1192.6" font-size="44.2">O₃totalcolumn[molm</text><text x="1279.5" y="1182.9" font-size="33.8">−</text><text x="1301.0 1320.7" y="1191.7 1192.6" font-size="44.2">²]</text>
</svg>
</body></html>
